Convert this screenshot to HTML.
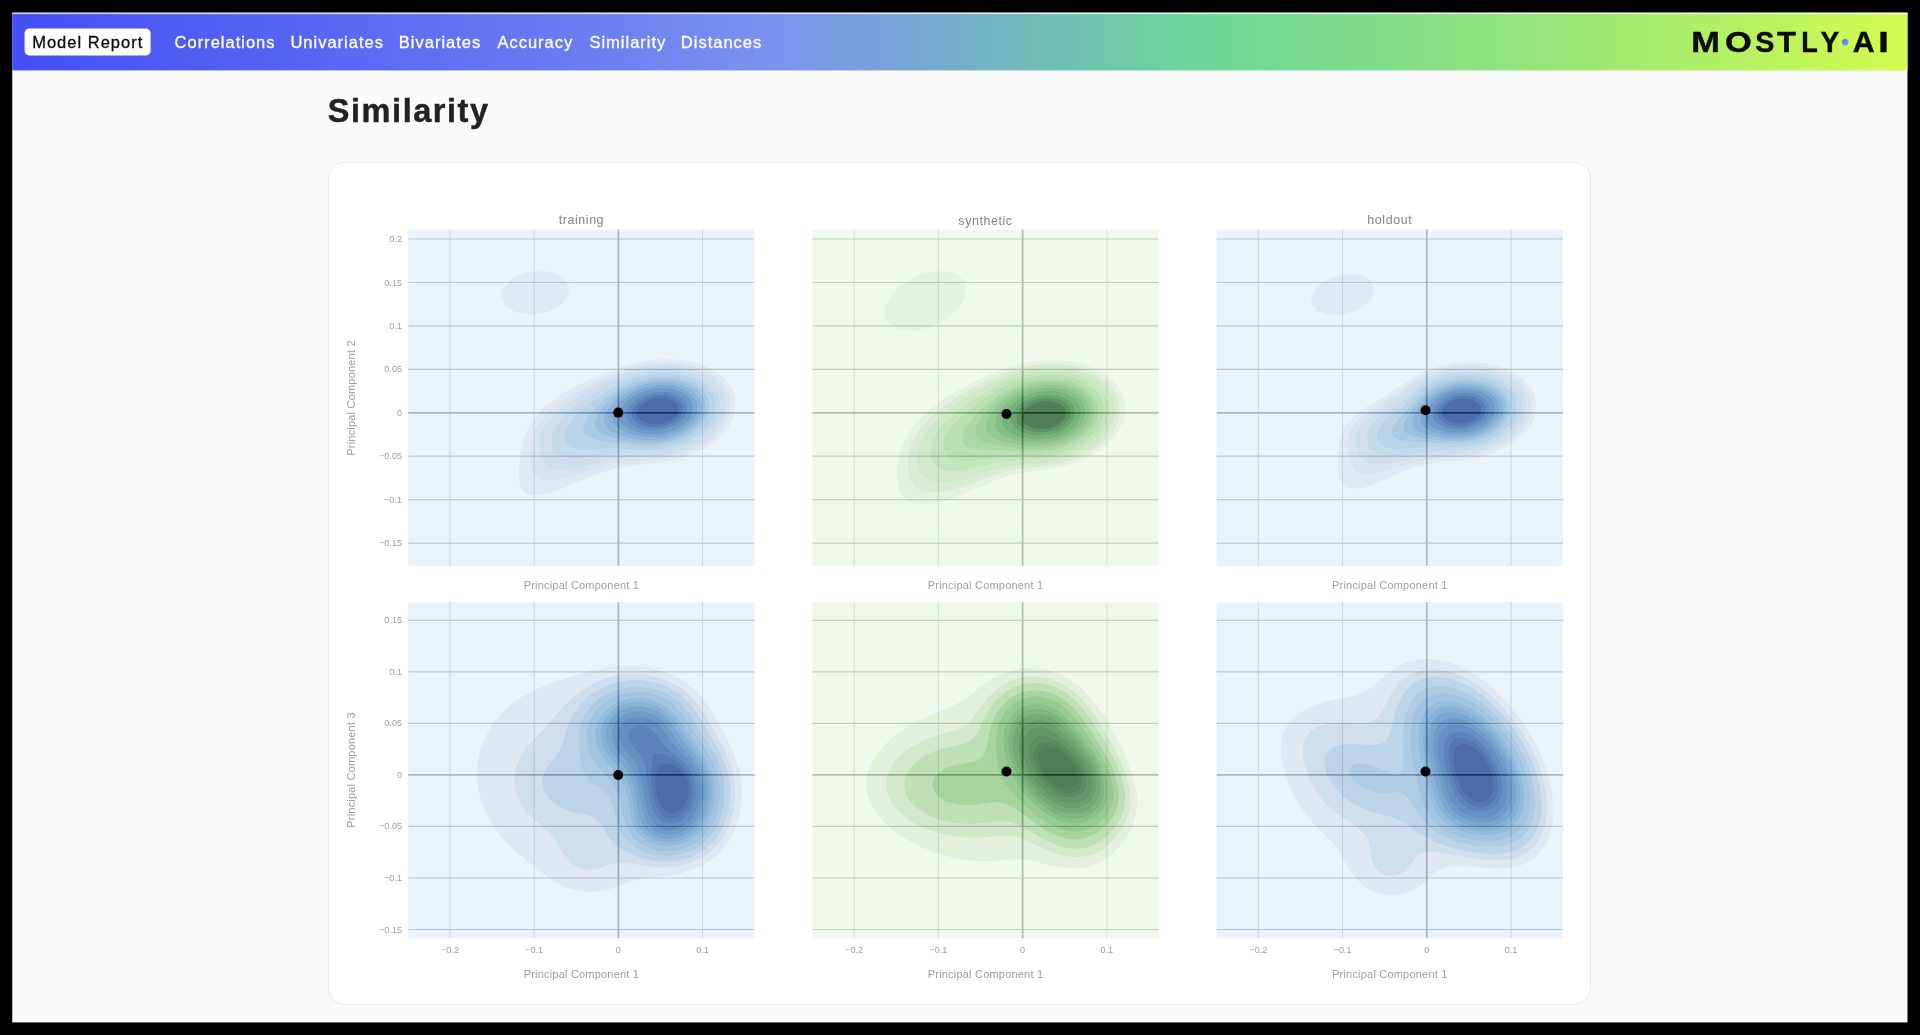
<!DOCTYPE html>
<html lang="en"><head><meta charset="utf-8"><title>Model Report</title>
<style>
html,body{margin:0;padding:0;background:#000;width:1920px;height:1035px;overflow:hidden}
body{font-family:"Liberation Sans",sans-serif;position:relative}
.nl{position:absolute;top:32px;height:20px;line-height:20px;font-size:16.5px;letter-spacing:1px;color:#fff;-webkit-text-stroke:.3px;white-space:nowrap}
.nl.b{color:#0a0a0a}
h1{position:absolute;left:327.8px;top:91.6px;margin:0;font-size:32.5px;line-height:38px;font-weight:bold;letter-spacing:1.55px;color:#222;-webkit-text-stroke:.45px #222;white-space:nowrap}
</style></head><body>
<svg width="1920" height="1035" viewBox="0 0 1920 1035" style="position:absolute;left:0;top:0">
<defs><linearGradient id="ng" x1="0" x2="1" y1="0" y2="0">
<stop offset="0" stop-color="#4450f5"/><stop offset=".14" stop-color="#5563f2"/><stop offset=".30" stop-color="#6c7cf1"/>
<stop offset=".395" stop-color="#7a91ef"/><stop offset=".475" stop-color="#76a6d6"/><stop offset=".55" stop-color="#6fc0b4"/>
<stop offset=".628" stop-color="#6cd698"/><stop offset=".74" stop-color="#84df86"/><stop offset=".86" stop-color="#a4eb6e"/>
<stop offset="1" stop-color="#d3fc4f"/></linearGradient></defs>
<rect x="12.25" y="12.8" width="1895.2" height="1009.6" fill="#fff"/>
<rect x="14.9" y="13" width="1890" height="1003.4" fill="#fafafa"/>
<rect x="14.9" y="1017.6" width="1890" height="0.9" fill="#f4f4f4"/>
<rect x="14.9" y="1019.6" width="1890" height="0.9" fill="#f4f4f4"/>
<rect x="12.25" y="12.8" width="1895.2" height="57.6" fill="url(#ng)"/>
<rect x="12.25" y="12.6" width="1895.2" height="1.5" fill="#fff" fill-opacity=".8"/>
<rect x="24.6" y="28.6" width="126" height="26.8" rx="4.5" fill="#fff"/>
<rect x="328.5" y="162.1" width="1262" height="842.2" rx="16" fill="#fff" stroke="#e9e9e9" stroke-width="1"/>
<clipPath id="c00"><rect x="408.2" y="229.6" width="346.3" height="336.2"/></clipPath>
<rect x="408.2" y="229.6" width="346.3" height="336.2" fill="#eaf2fa"/>
<g clip-path="url(#c00)">
<path d="M534.2,271.6L534.2,271.6L535.2,271.5L536.2,271.4L537.2,271.4L538.2,271.3L539.2,271.3L540.2,271.3L541.2,271.3L542.2,271.3L543.2,271.4L544.2,271.5L545.2,271.6L545.5,271.6L546.2,271.7L547.2,271.8L548.2,272.0L549.2,272.2L550.2,272.4L551.1,272.6L551.2,272.6L552.2,272.9L553.2,273.2L554.2,273.5L554.5,273.6L555.2,273.9L556.2,274.3L557.0,274.6L557.2,274.7L558.2,275.2L559.0,275.6L559.2,275.7L560.2,276.3L560.8,276.6L561.2,276.9L562.2,277.6L562.2,277.6L563.2,278.4L563.5,278.6L564.2,279.3L564.5,279.6L565.2,280.3L565.5,280.6L566.2,281.5L566.3,281.6L566.9,282.6L567.2,283.0L567.5,283.6L568.0,284.6L568.2,285.1L568.4,285.6L568.7,286.6L568.9,287.6L569.0,288.6L569.1,289.6L569.1,290.6L569.0,291.6L568.8,292.6L568.6,293.6L568.3,294.6L568.2,294.9L567.9,295.6L567.5,296.6L567.2,297.1L567.0,297.6L566.4,298.6L566.2,298.8L565.7,299.6L565.2,300.2L564.9,300.6L564.2,301.4L564.0,301.6L563.2,302.5L563.1,302.6L562.2,303.4L562.0,303.6L561.2,304.3L560.9,304.6L560.2,305.1L559.6,305.6L559.2,305.9L558.2,306.6L558.1,306.6L557.2,307.2L556.5,307.6L556.2,307.8L555.2,308.4L554.8,308.6L554.2,308.9L553.2,309.4L552.8,309.6L552.2,309.9L551.2,310.3L550.4,310.6L550.2,310.7L549.2,311.1L548.2,311.4L547.7,311.6L547.2,311.8L546.2,312.1L545.2,312.4L544.3,312.6L544.2,312.6L543.2,312.9L542.2,313.1L541.2,313.3L540.2,313.5L539.6,313.6L539.2,313.7L538.2,313.8L537.2,313.9L536.2,314.0L535.2,314.1L534.2,314.2L533.2,314.3L532.2,314.3L531.2,314.3L530.2,314.3L529.2,314.3L528.2,314.2L527.2,314.2L526.2,314.1L525.2,314.0L524.2,313.9L523.2,313.7L522.6,313.6L522.2,313.5L521.2,313.3L520.2,313.1L519.2,312.9L518.2,312.6L518.2,312.6L517.2,312.3L516.2,311.9L515.2,311.6L515.2,311.6L514.2,311.2L513.2,310.7L512.9,310.6L512.2,310.2L511.2,309.7L511.0,309.6L510.2,309.1L509.4,308.6L509.2,308.4L508.2,307.7L508.1,307.6L507.2,306.9L506.9,306.6L506.2,305.9L505.9,305.6L505.2,304.8L505.0,304.6L504.3,303.6L504.2,303.5L503.6,302.6L503.2,301.8L503.1,301.6L502.6,300.6L502.3,299.6L502.2,299.3L502.0,298.6L501.8,297.6L501.7,296.6L501.7,295.6L501.7,294.6L501.9,293.6L502.0,292.6L502.2,292.0L502.3,291.6L502.6,290.6L503.0,289.6L503.2,289.3L503.5,288.6L504.1,287.6L504.2,287.4L504.7,286.6L505.2,285.9L505.4,285.6L506.2,284.6L506.2,284.6L507.1,283.6L507.2,283.5L508.1,282.6L508.2,282.5L509.2,281.6L509.2,281.6L510.2,280.8L510.4,280.6L511.2,280.0L511.8,279.6L512.2,279.3L513.2,278.6L513.3,278.6L514.2,278.0L514.9,277.6L515.2,277.5L516.2,276.9L516.8,276.6L517.2,276.4L518.2,275.9L518.9,275.6L519.2,275.5L520.2,275.1L521.2,274.7L521.4,274.6L522.2,274.3L523.2,274.0L524.2,273.6L524.4,273.6L525.2,273.4L526.2,273.1L527.2,272.8L528.1,272.6L528.2,272.6L529.2,272.4L530.2,272.2L531.2,272.0L532.2,271.9L533.2,271.7L534.2,271.6ZM656.9,359.6L661.2,359.3L666.2,359.2L671.2,359.3L676.2,359.6L680.2,360.0L684.4,360.6L689.2,361.5L693.2,362.4L697.2,363.6L700.4,364.6L704.2,366.1L707.7,367.6L711.2,369.4L714.2,371.1L717.2,373.1L720.2,375.4L722.8,377.6L725.2,380.0L727.4,382.6L729.6,385.6L731.4,388.6L733.2,392.4L734.3,395.6L735.2,399.8L735.6,404.6L735.3,409.6L734.5,413.6L733.3,417.6L732.1,420.6L730.2,424.2L728.2,427.5L726.2,430.2L724.2,432.7L721.5,435.6L719.2,437.9L716.2,440.5L713.5,442.6L710.7,444.6L707.7,446.6L704.3,448.6L701.2,450.3L698.2,451.8L694.2,453.6L691.2,454.8L687.2,456.3L683.2,457.6L679.7,458.6L675.8,459.6L671.3,460.6L667.2,461.4L663.2,462.1L659.2,462.6L654.2,463.2L650.2,463.7L645.2,464.1L640.2,464.6L636.2,465.0L631.2,465.6L627.2,466.2L623.2,466.8L619.2,467.7L615.2,468.6L611.2,469.7L607.2,471.0L603.2,472.3L599.4,473.6L596.2,474.8L592.2,476.3L588.8,477.6L585.2,479.0L581.2,480.6L578.2,481.8L574.2,483.4L571.2,484.6L567.2,486.3L563.9,487.6L560.2,489.1L556.2,490.6L553.2,491.6L549.2,492.9L545.2,494.0L541.2,494.8L536.2,495.3L531.2,495.0L527.2,493.8L524.2,491.9L522.0,489.6L520.2,486.2L519.2,482.5L518.7,477.6L518.7,472.6L519.0,467.6L519.3,463.6L519.8,458.6L520.3,454.6L521.1,449.6L521.9,445.6L522.9,441.6L524.1,437.6L525.2,434.6L526.9,430.6L528.4,427.6L530.2,424.5L532.2,421.4L534.2,418.6L536.6,415.6L539.2,412.7L541.2,410.6L544.2,407.7L546.5,405.6L549.2,403.3L552.2,401.0L555.2,398.8L558.2,396.7L561.2,394.8L564.2,392.9L567.2,391.2L570.2,389.5L573.7,387.6L577.2,385.8L580.2,384.3L583.6,382.6L587.2,380.9L590.2,379.5L594.2,377.7L597.2,376.3L601.2,374.6L604.2,373.3L608.2,371.7L611.2,370.6L615.2,369.1L619.2,367.7L622.4,366.6L626.2,365.4L630.2,364.3L634.2,363.3L638.2,362.3L642.2,361.5L647.2,360.7L651.2,360.1L656.2,359.6Z" fill="#e1eaf4"/>
<path d="M652.1,363.6L656.2,363.2L661.2,362.8L666.2,362.7L671.2,362.8L676.2,363.2L680.2,363.7L685.2,364.5L689.2,365.3L693.2,366.3L697.2,367.6L700.2,368.7L704.2,370.4L707.2,371.9L710.2,373.7L713.2,375.6L716.2,377.9L719.2,380.5L721.2,382.6L723.7,385.6L725.7,388.6L727.3,391.6L728.9,395.6L729.9,399.6L730.4,403.6L730.3,408.6L729.6,412.6L728.5,416.6L727.2,419.8L725.2,423.6L723.4,426.6L721.2,429.5L719.2,431.9L716.6,434.6L714.2,436.9L711.2,439.4L708.2,441.6L705.3,443.6L702.2,445.5L699.2,447.2L696.2,448.7L692.2,450.5L689.2,451.8L685.2,453.2L681.2,454.5L677.4,455.6L673.3,456.6L669.2,457.5L665.2,458.2L661.2,458.8L656.2,459.4L652.2,459.8L647.2,460.3L642.3,460.6L638.2,460.9L633.2,461.3L629.1,461.6L624.2,462.2L620.2,462.7L615.3,463.6L611.2,464.5L607.2,465.5L603.2,466.6L599.9,467.6L596.2,468.7L592.2,470.0L588.2,471.3L584.2,472.6L580.9,473.6L577.2,474.8L573.2,476.0L569.2,477.1L565.2,478.2L561.2,479.2L557.2,480.0L552.5,480.6L548.2,480.8L544.2,480.4L540.2,479.2L537.2,477.4L534.6,474.6L532.9,471.6L531.5,467.6L530.7,463.6L530.2,459.4L530.0,454.6L530.2,450.2L530.7,445.6L531.5,441.6L532.5,437.6L533.9,433.6L535.2,430.6L537.2,426.7L539.1,423.6L541.2,420.6L543.2,417.9L545.2,415.6L548.0,412.6L550.2,410.4L553.2,407.7L555.7,405.6L558.3,403.6L561.2,401.5L564.2,399.4L567.2,397.5L570.2,395.6L573.6,393.6L577.1,391.6L580.2,389.9L583.2,388.3L586.4,386.6L590.2,384.7L593.2,383.2L596.5,381.6L600.2,379.8L603.2,378.4L607.2,376.6L610.2,375.3L614.2,373.7L617.2,372.5L621.2,371.0L625.2,369.7L628.6,368.6L632.2,367.6L636.2,366.5L640.2,365.6L645.2,364.6L649.2,364.0Z" fill="#d8e4f1"/>
<path d="M652.8,366.6L656.2,366.2L660.2,366.0L664.2,365.8L668.2,365.8L672.2,366.0L676.2,366.3L679.2,366.7L683.2,367.3L686.2,367.9L689.2,368.7L692.4,369.6L695.5,370.6L698.2,371.6L701.2,372.9L704.2,374.4L706.3,375.6L709.2,377.5L711.2,378.9L713.3,380.6L715.5,382.6L717.5,384.6L719.2,386.7L721.2,389.6L722.4,391.6L723.8,394.6L724.8,397.6L725.5,400.6L725.9,404.6L725.8,408.6L725.2,412.3L724.3,415.6L723.2,418.5L722.2,420.7L720.6,423.6L719.2,425.7L717.2,428.4L715.4,430.6L713.5,432.6L711.4,434.6L709.2,436.5L707.2,438.1L705.2,439.6L702.2,441.6L700.2,442.9L697.2,444.6L695.2,445.6L692.2,447.1L689.2,448.4L686.2,449.6L683.3,450.6L680.3,451.6L677.2,452.5L674.2,453.3L671.2,454.0L668.1,454.6L664.2,455.3L661.2,455.7L657.2,456.2L653.4,456.6L650.2,456.9L646.2,457.1L642.2,457.3L638.2,457.5L635.2,457.6L631.2,457.8L627.2,458.0L623.2,458.3L620.2,458.6L616.2,459.1L613.0,459.6L609.2,460.3L606.2,460.9L603.1,461.6L599.2,462.5L596.2,463.3L593.2,464.1L590.2,464.9L587.2,465.7L583.4,466.6L580.2,467.4L577.2,468.0L574.2,468.6L570.2,469.3L567.2,469.7L563.2,470.0L559.2,470.1L555.2,469.7L552.2,469.0L549.2,467.8L547.2,466.5L545.0,464.6L543.2,462.4L541.7,459.6L540.5,456.6L539.8,453.6L539.3,449.6L539.3,445.6L539.7,441.6L540.3,438.6L541.2,435.2L542.2,432.4L543.4,429.6L545.0,426.6L546.2,424.6L548.2,421.7L549.8,419.6L551.4,417.6L553.2,415.6L555.2,413.5L557.2,411.6L559.5,409.6L561.9,407.6L564.2,405.8L566.2,404.3L568.6,402.6L571.2,400.8L573.2,399.5L576.2,397.6L578.2,396.4L581.2,394.6L583.2,393.4L586.2,391.7L588.2,390.6L591.2,388.9L593.7,387.6L596.2,386.2L599.2,384.7L601.3,383.6L604.2,382.1L607.2,380.7L609.5,379.6L612.2,378.4L615.2,377.0L618.2,375.8L621.2,374.6L623.9,373.6L626.8,372.6L629.8,371.6L633.2,370.6L636.2,369.8L639.2,369.0L642.2,368.3L646.1,367.6L649.2,367.1L652.8,366.6Z" fill="#cfdfee"/>
<path d="M652.2,370.6L655.2,370.2L659.2,369.9L663.2,369.7L667.2,369.7L671.2,369.9L675.2,370.2L678.2,370.6L682.2,371.3L685.2,372.0L688.2,372.8L691.2,373.7L694.2,374.8L697.2,376.1L700.2,377.5L702.2,378.7L705.2,380.6L707.2,382.0L709.2,383.7L711.2,385.6L713.2,387.8L715.2,390.4L716.6,392.6L718.0,395.6L719.1,398.6L719.8,401.6L720.2,405.6L720.0,409.6L719.2,413.5L718.2,416.6L717.2,418.9L715.8,421.6L714.2,424.2L712.4,426.6L710.8,428.6L708.9,430.6L706.8,432.6L704.5,434.6L702.2,436.4L700.2,437.8L697.5,439.6L695.2,441.0L692.2,442.6L690.1,443.6L687.2,444.9L684.2,446.1L681.2,447.2L678.2,448.2L675.2,449.0L672.2,449.8L668.5,450.6L665.2,451.2L662.2,451.7L658.2,452.2L654.2,452.6L651.2,452.8L647.2,453.0L643.2,453.1L639.2,453.2L635.2,453.2L631.2,453.2L627.2,453.2L623.2,453.3L619.2,453.4L615.5,453.6L612.2,453.9L608.2,454.3L605.2,454.6L601.2,455.2L598.2,455.7L594.2,456.4L591.2,456.9L587.2,457.5L584.2,457.9L580.2,458.4L577.2,458.6L573.2,458.7L570.2,458.6L566.2,458.0L563.2,457.2L560.2,455.9L558.2,454.6L556.0,452.6L554.2,450.0L553.1,447.6L552.2,444.3L551.9,440.6L552.2,437.3L553.0,433.6L554.1,430.6L555.2,428.2L556.6,425.6L558.2,423.1L560.1,420.6L561.7,418.6L563.5,416.6L565.5,414.6L567.7,412.6L569.9,410.6L572.2,408.7L574.2,407.2L576.3,405.6L579.1,403.6L581.2,402.1L583.5,400.6L586.2,398.8L588.2,397.5L591.1,395.6L593.2,394.3L596.0,392.6L598.2,391.3L601.0,389.6L603.2,388.3L606.2,386.6L608.2,385.6L611.2,384.0L614.0,382.6L616.2,381.5L619.2,380.1L622.2,378.8L625.2,377.6L628.0,376.6L630.8,375.6L633.9,374.6L637.2,373.6L640.2,372.9L643.2,372.2L646.2,371.6L650.2,370.9Z" fill="#c5dbec"/>
<path d="M655.5,373.6L658.2,373.4L661.2,373.2L664.2,373.1L667.2,373.1L670.2,373.3L673.2,373.5L675.2,373.8L678.2,374.2L680.4,374.6L683.2,375.2L685.2,375.7L688.1,376.6L690.2,377.3L692.2,378.1L694.2,379.0L696.2,379.9L698.2,381.0L700.2,382.2L702.2,383.6L703.5,384.6L705.2,386.0L706.9,387.6L708.2,389.0L709.5,390.6L710.9,392.6L712.1,394.6L713.1,396.6L713.9,398.6L714.5,400.6L715.0,403.6L715.2,406.6L715.0,409.6L714.5,412.6L713.9,414.6L713.2,416.6L712.2,418.8L711.2,420.7L710.0,422.6L708.6,424.6L707.2,426.4L706.1,427.6L704.2,429.6L703.2,430.6L701.2,432.3L699.6,433.6L698.2,434.7L696.2,436.1L694.2,437.3L692.2,438.5L690.2,439.6L688.2,440.6L686.2,441.5L684.2,442.4L682.2,443.2L680.2,443.9L678.2,444.6L675.2,445.5L673.2,446.1L671.1,446.6L668.2,447.2L666.2,447.6L663.2,448.1L660.2,448.6L658.2,448.8L655.2,449.1L652.2,449.3L649.2,449.4L646.2,449.5L643.2,449.5L640.2,449.5L637.2,449.4L634.2,449.3L631.2,449.2L628.2,449.1L625.2,448.9L622.2,448.8L619.2,448.7L616.2,448.6L614.2,448.6L611.2,448.6L608.2,448.6L606.2,448.6L603.2,448.7L600.2,448.9L597.2,449.0L594.2,449.2L591.2,449.3L588.2,449.4L585.2,449.4L582.2,449.3L579.2,449.0L577.1,448.6L574.2,447.8L572.2,447.0L570.2,445.8L568.6,444.6L567.2,443.0L566.2,441.4L565.2,438.7L564.9,436.6L565.0,433.6L565.4,431.6L566.2,429.1L567.2,426.8L568.2,424.9L569.2,423.3L570.4,421.6L571.9,419.6L573.2,418.1L574.6,416.6L576.2,414.9L577.5,413.6L579.2,412.1L580.8,410.6L582.2,409.4L584.2,407.7L585.6,406.6L587.2,405.3L589.2,403.8L590.7,402.6L592.2,401.5L594.2,400.0L596.1,398.6L597.5,397.6L599.2,396.4L601.2,395.1L603.2,393.7L604.9,392.6L606.5,391.6L608.2,390.5L610.2,389.3L612.2,388.2L614.2,387.0L616.2,386.0L618.2,384.9L620.2,383.9L622.2,383.0L624.2,382.1L626.2,381.2L628.2,380.4L630.3,379.6L633.1,378.6L635.2,377.9L637.2,377.3L639.5,376.6L642.2,375.9L644.2,375.4L647.2,374.8L649.2,374.5L652.2,374.0L655.2,373.6Z" fill="#b9d4e9"/>
<path d="M654.5,377.6L657.2,377.3L660.2,377.1L663.2,377.0L666.2,377.0L669.2,377.2L672.2,377.4L674.2,377.7L677.2,378.1L679.5,378.6L682.2,379.3L684.2,379.8L686.5,380.6L689.1,381.6L691.2,382.5L693.2,383.5L695.1,384.6L696.6,385.6L698.2,386.7L700.2,388.3L701.6,389.6L703.2,391.3L704.3,392.6L705.7,394.6L706.9,396.6L707.8,398.6L708.5,400.6L709.2,403.6L709.4,405.6L709.4,408.6L709.1,410.6L708.5,413.6L707.8,415.6L706.9,417.6L705.9,419.6L704.7,421.6L703.2,423.6L702.2,424.9L700.7,426.6L699.2,428.1L697.5,429.6L696.2,430.7L694.2,432.2L692.2,433.6L690.6,434.6L688.9,435.6L687.1,436.6L685.1,437.6L682.9,438.6L680.5,439.6L678.2,440.5L676.2,441.2L674.2,441.8L671.2,442.6L669.2,443.1L666.8,443.6L664.2,444.1L661.2,444.5L659.2,444.8L656.2,445.1L653.2,445.3L650.2,445.4L647.2,445.5L644.2,445.4L641.2,445.3L638.2,445.2L635.2,444.9L632.2,444.7L630.2,444.5L627.2,444.1L624.2,443.8L622.2,443.5L619.2,443.1L616.2,442.7L614.2,442.4L611.2,441.9L608.9,441.6L606.2,441.2L603.2,440.7L601.2,440.4L598.2,439.8L596.2,439.4L593.3,438.6L591.2,437.9L589.2,437.0L587.2,435.8L585.8,434.6L584.3,432.6L583.5,430.6L583.3,427.6L583.9,424.6L584.7,422.6L585.7,420.6L586.8,418.6L588.2,416.6L589.2,415.3L590.5,413.6L592.2,411.6L593.2,410.5L595.0,408.6L596.2,407.4L598.0,405.6L599.2,404.5L601.2,402.7L602.4,401.6L604.2,400.1L606.1,398.6L607.3,397.6L609.2,396.2L611.2,394.7L612.8,393.6L614.3,392.6L616.2,391.4L618.2,390.2L620.2,389.0L622.2,387.9L624.2,386.9L626.2,385.9L628.2,385.0L630.2,384.1L632.2,383.3L634.2,382.5L636.8,381.6L639.2,380.8L641.2,380.2L643.7,379.6L646.2,379.0L648.2,378.6L651.2,378.0L654.2,377.6Z" fill="#aacbe4"/>
<path d="M662.4,379.6L664.2,379.6L665.3,379.6L667.2,379.7L669.2,379.8L671.2,380.0L673.2,380.2L675.2,380.5L676.2,380.7L678.2,381.1L680.2,381.6L681.2,381.9L683.2,382.5L684.2,382.8L686.2,383.6L687.2,384.0L688.6,384.6L690.2,385.4L691.2,385.9L692.3,386.6L693.9,387.6L695.2,388.5L696.2,389.3L697.2,390.1L698.2,391.1L699.2,392.1L700.2,393.2L701.2,394.4L702.0,395.6L702.6,396.6L703.2,397.6L704.1,399.6L704.5,400.6L705.1,402.6L705.3,403.6L705.6,405.6L705.6,407.6L705.5,409.6L705.2,411.4L704.9,412.6L704.3,414.6L704.0,415.6L703.2,417.3L702.5,418.6L702.0,419.6L701.2,420.8L700.2,422.2L699.2,423.5L698.2,424.6L697.3,425.6L696.3,426.6L695.2,427.6L694.2,428.5L693.2,429.3L692.2,430.1L691.2,430.8L690.1,431.6L688.5,432.6L687.2,433.4L686.2,434.0L685.0,434.6L683.2,435.5L682.2,436.0L680.9,436.6L679.2,437.3L678.2,437.7L676.2,438.4L675.2,438.8L673.2,439.4L672.2,439.7L670.2,440.2L668.6,440.6L667.2,440.9L665.2,441.3L663.6,441.6L662.2,441.8L660.2,442.1L658.2,442.3L656.2,442.5L654.7,442.6L653.2,442.7L651.2,442.8L649.2,442.8L647.2,442.8L645.2,442.7L643.2,442.6L642.2,442.6L640.2,442.5L638.2,442.3L636.2,442.1L634.2,441.8L632.4,441.6L631.2,441.4L629.2,441.1L627.2,440.8L626.2,440.6L624.2,440.2L622.2,439.8L621.2,439.6L619.2,439.1L617.2,438.7L616.2,438.4L614.2,437.9L613.2,437.6L611.2,437.0L609.9,436.6L608.2,436.0L607.0,435.6L605.2,434.9L604.2,434.5L602.4,433.6L601.2,432.9L600.2,432.3L599.2,431.6L598.0,430.6L597.1,429.6L596.2,428.3L595.4,426.6L595.2,425.6L595.0,423.6L595.1,421.6L595.3,420.6L595.9,418.6L596.3,417.6L597.2,415.8L597.8,414.6L598.4,413.6L599.2,412.4L600.2,411.0L601.2,409.6L602.0,408.6L602.8,407.6L603.7,406.6L604.6,405.6L605.6,404.6L606.5,403.6L607.6,402.6L608.6,401.6L609.7,400.6L610.8,399.6L612.0,398.6L613.2,397.7L614.2,396.9L615.2,396.1L616.2,395.4L617.3,394.6L618.7,393.6L620.2,392.6L621.2,392.0L622.2,391.4L623.6,390.6L625.2,389.7L626.2,389.1L627.3,388.6L629.2,387.6L630.2,387.2L631.5,386.6L633.2,385.8L634.2,385.4L636.2,384.7L637.2,384.3L639.2,383.6L640.2,383.3L642.2,382.7L643.2,382.4L645.2,381.9L646.5,381.6L648.2,381.2L650.2,380.8L651.5,380.6L653.2,380.3L655.2,380.1L657.2,379.9L659.2,379.7L661.2,379.6L662.4,379.6Z" fill="#9cc1de"/>
<path d="M655.9,382.6L657.2,382.5L659.2,382.3L661.2,382.2L663.2,382.2L665.2,382.2L667.2,382.3L669.2,382.4L670.8,382.6L672.2,382.8L674.2,383.1L676.2,383.5L677.2,383.7L679.2,384.2L680.4,384.6L682.2,385.2L683.3,385.6L685.2,386.4L686.2,386.8L687.8,387.6L689.2,388.4L690.2,389.0L691.2,389.7L692.5,390.6L693.8,391.6L694.9,392.6L695.9,393.6L696.8,394.6L697.6,395.6L698.3,396.6L699.2,398.1L700.0,399.6L700.4,400.6L701.1,402.6L701.4,403.6L701.7,405.6L701.8,407.6L701.7,409.6L701.4,411.6L701.1,412.6L700.5,414.6L700.1,415.6L699.2,417.5L698.6,418.6L698.0,419.6L697.2,420.7L696.2,422.0L695.2,423.2L694.2,424.3L693.2,425.3L692.2,426.3L691.2,427.1L690.2,427.9L689.2,428.7L687.9,429.6L686.4,430.6L685.2,431.4L684.2,431.9L683.0,432.6L681.2,433.5L680.2,434.0L678.8,434.6L677.2,435.3L676.2,435.6L674.2,436.4L673.2,436.7L671.2,437.3L670.0,437.6L668.2,438.1L666.2,438.5L665.2,438.7L663.2,439.1L661.2,439.4L659.4,439.6L658.2,439.7L656.2,439.9L654.2,440.0L652.2,440.1L650.2,440.1L648.2,440.1L646.2,440.1L644.2,439.9L642.2,439.8L640.3,439.6L639.2,439.5L637.2,439.2L635.2,438.9L633.4,438.6L632.2,438.4L630.2,438.0L628.6,437.6L627.2,437.3L625.2,436.7L624.2,436.5L622.2,435.9L621.2,435.5L619.2,434.8L618.2,434.5L616.2,433.6L615.2,433.2L614.0,432.6L612.2,431.7L611.2,431.1L610.2,430.4L609.1,429.6L607.9,428.6L606.9,427.6L606.1,426.6L605.2,425.2L604.5,423.6L604.2,422.5L604.0,420.6L604.0,418.6L604.2,417.6L604.7,415.6L605.2,414.3L606.0,412.6L606.5,411.6L607.2,410.4L608.2,408.8L609.0,407.6L609.8,406.6L610.6,405.6L611.5,404.6L612.4,403.6L613.3,402.6L614.3,401.6L615.4,400.6L616.5,399.6L617.7,398.6L618.9,397.6L620.2,396.6L621.2,395.9L622.2,395.2L623.2,394.5L624.5,393.6L626.2,392.6L627.2,392.0L628.2,391.4L629.7,390.6L631.2,389.8L632.2,389.4L633.9,388.6L635.2,388.0L636.2,387.6L638.2,386.8L639.2,386.5L641.2,385.8L642.2,385.5L644.2,384.9L645.2,384.6L647.2,384.1L649.2,383.7L650.2,383.5L652.2,383.1L654.2,382.8L655.9,382.6Z" fill="#8db5d9"/>
<path d="M656.0,385.6L657.2,385.5L659.2,385.3L661.2,385.2L663.2,385.2L665.2,385.2L667.2,385.4L669.2,385.5L670.2,385.7L672.2,386.0L674.2,386.3L675.3,386.6L677.2,387.1L678.9,387.6L680.2,388.0L681.6,388.6L683.2,389.3L684.2,389.8L685.7,390.6L687.2,391.5L688.2,392.2L689.2,392.9L690.2,393.7L691.2,394.6L692.2,395.6L693.2,396.8L694.2,398.2L695.1,399.6L695.6,400.6L696.2,402.0L696.7,403.6L697.1,405.6L697.2,406.6L697.3,408.6L697.2,409.6L696.9,411.6L696.3,413.6L696.0,414.6L695.2,416.3L694.5,417.6L693.9,418.6L693.2,419.7L692.2,421.0L691.2,422.1L690.2,423.2L689.2,424.2L688.2,425.1L687.2,425.9L686.2,426.7L684.9,427.6L683.4,428.6L682.2,429.3L681.2,429.9L679.9,430.6L678.2,431.4L677.2,431.9L675.5,432.6L674.2,433.1L672.8,433.6L671.2,434.1L669.6,434.6L668.2,435.0L666.2,435.5L665.2,435.7L663.2,436.0L661.2,436.4L659.2,436.6L658.2,436.7L656.2,436.9L654.2,437.0L652.2,437.0L650.2,437.0L648.2,437.0L646.2,436.9L644.2,436.7L643.2,436.6L641.2,436.3L639.2,436.0L637.2,435.7L636.2,435.5L634.2,435.0L632.5,434.6L631.2,434.2L629.2,433.6L628.2,433.3L626.4,432.6L625.2,432.1L624.0,431.6L622.2,430.7L621.2,430.1L620.2,429.6L618.7,428.6L617.4,427.6L616.3,426.6L615.3,425.6L614.5,424.6L613.8,423.6L613.2,422.4L612.5,420.6L612.2,418.7L612.1,417.6L612.2,416.4L612.5,414.6L613.1,412.6L613.5,411.6L614.2,410.0L615.0,408.6L615.6,407.6L616.3,406.6L617.2,405.4L618.2,404.2L619.2,403.1L620.2,402.0L621.2,401.1L622.2,400.1L623.2,399.3L624.2,398.4L625.3,397.6L626.7,396.6L628.1,395.6L629.2,394.9L630.2,394.3L631.4,393.6L633.2,392.6L634.2,392.1L635.2,391.6L637.2,390.7L638.2,390.2L639.8,389.6L641.2,389.1L642.6,388.6L644.2,388.1L645.8,387.6L647.2,387.2L649.2,386.7L650.2,386.5L652.2,386.1L654.2,385.8L656.0,385.6Z" fill="#7ea8d1"/>
<path d="M655.7,388.6L657.2,388.4L659.2,388.3L661.2,388.2L663.2,388.2L665.2,388.2L667.2,388.4L669.1,388.6L670.2,388.8L672.2,389.1L674.2,389.6L675.2,389.9L677.2,390.5L678.2,390.9L680.0,391.6L681.2,392.2L682.2,392.7L683.7,393.6L685.2,394.6L686.2,395.4L687.2,396.2L688.2,397.2L689.2,398.4L690.1,399.6L690.8,400.6L691.3,401.6L692.1,403.6L692.4,404.6L692.8,406.6L692.9,408.6L692.7,410.6L692.2,412.6L691.9,413.6L691.2,415.4L690.6,416.6L690.0,417.6L689.2,418.7L688.2,420.0L687.2,421.2L686.2,422.2L685.2,423.1L684.2,424.0L683.2,424.8L682.0,425.6L680.5,426.6L679.2,427.4L678.2,428.0L677.0,428.6L675.2,429.4L674.2,429.9L672.3,430.6L671.2,431.0L669.3,431.6L668.2,431.9L666.2,432.4L665.2,432.7L663.2,433.1L661.2,433.4L659.6,433.6L658.2,433.8L656.2,433.9L654.2,434.0L652.2,434.0L650.2,434.0L648.2,433.9L646.2,433.7L645.2,433.6L643.2,433.3L641.2,433.0L639.3,432.6L638.2,432.3L636.2,431.8L635.2,431.5L633.2,430.8L632.2,430.5L630.2,429.6L629.2,429.1L628.2,428.6L626.4,427.6L625.2,426.8L624.2,426.0L623.2,425.1L622.2,424.1L621.2,422.9L620.4,421.6L619.8,420.6L619.2,418.7L619.0,417.6L618.9,415.6L619.1,413.6L619.3,412.6L620.0,410.6L620.4,409.6L621.2,408.1L622.2,406.6L622.9,405.6L623.7,404.6L624.5,403.6L625.5,402.6L626.5,401.6L627.6,400.6L628.8,399.6L630.1,398.6L631.2,397.8L632.2,397.1L633.2,396.5L634.6,395.6L636.2,394.7L637.2,394.2L638.4,393.6L640.2,392.8L641.2,392.4L643.2,391.6L644.2,391.3L646.2,390.6L647.2,390.3L649.2,389.8L650.2,389.6L652.2,389.1L654.2,388.8L655.7,388.6Z" fill="#6e99c9"/>
<path d="M654.4,392.6L655.2,392.5L656.2,392.3L657.2,392.2L658.2,392.1L659.2,392.1L660.2,392.0L661.2,392.0L662.2,392.0L663.2,392.0L664.2,392.0L665.2,392.1L666.2,392.2L667.2,392.3L668.2,392.5L669.0,392.6L669.2,392.6L670.2,392.8L671.2,393.1L672.2,393.3L673.2,393.6L673.2,393.6L674.2,393.9L675.2,394.3L675.9,394.6L676.2,394.7L677.2,395.2L678.0,395.6L678.2,395.7L679.2,396.3L679.7,396.6L680.2,396.9L681.1,397.6L681.2,397.6L682.2,398.5L682.3,398.6L683.2,399.4L683.4,399.6L684.2,400.6L684.2,400.6L685.0,401.6L685.2,402.0L685.6,402.6L686.1,403.6L686.2,403.9L686.5,404.6L686.8,405.6L687.0,406.6L687.1,407.6L687.2,408.6L687.1,409.6L687.0,410.6L686.8,411.6L686.6,412.6L686.2,413.6L686.2,413.7L685.8,414.6L685.3,415.6L685.2,415.7L684.7,416.6L684.2,417.3L684.0,417.6L683.2,418.6L683.2,418.6L682.3,419.6L682.2,419.7L681.3,420.6L681.2,420.7L680.2,421.6L680.2,421.6L679.2,422.4L678.9,422.6L678.2,423.1L677.5,423.6L677.2,423.8L676.2,424.4L675.9,424.6L675.2,425.0L674.2,425.5L674.0,425.6L673.2,426.0L672.2,426.4L671.8,426.6L671.2,426.9L670.2,427.3L669.2,427.6L669.2,427.6L668.2,427.9L667.2,428.3L666.2,428.5L666.0,428.6L665.2,428.8L664.2,429.0L663.2,429.2L662.2,429.4L661.2,429.6L661.1,429.6L660.2,429.7L659.2,429.9L658.2,430.0L657.2,430.0L656.2,430.1L655.2,430.1L654.2,430.2L653.2,430.2L652.2,430.1L651.2,430.1L650.2,430.0L649.2,430.0L648.2,429.9L647.2,429.7L646.2,429.6L646.2,429.6L645.2,429.4L644.2,429.2L643.2,429.0L642.2,428.8L641.5,428.6L641.2,428.5L640.2,428.2L639.2,427.9L638.4,427.6L638.2,427.5L637.2,427.1L636.2,426.7L636.1,426.6L635.2,426.2L634.2,425.6L634.1,425.6L633.2,425.0L632.5,424.6L632.2,424.4L631.2,423.6L631.2,423.6L630.2,422.7L630.1,422.6L629.2,421.6L629.2,421.6L628.4,420.6L628.2,420.3L627.8,419.6L627.3,418.6L627.2,418.3L626.9,417.6L626.7,416.6L626.5,415.6L626.5,414.6L626.5,413.6L626.6,412.6L626.9,411.6L627.2,410.6L627.2,410.5L627.6,409.6L628.0,408.6L628.2,408.3L628.6,407.6L629.2,406.7L629.2,406.6L630.0,405.6L630.2,405.3L630.8,404.6L631.2,404.2L631.7,403.6L632.2,403.1L632.7,402.6L633.2,402.2L633.9,401.6L634.2,401.3L635.1,400.6L635.2,400.5L636.2,399.8L636.5,399.6L637.2,399.1L638.0,398.6L638.2,398.5L639.2,397.9L639.7,397.6L640.2,397.3L641.2,396.8L641.7,396.6L642.2,396.3L643.2,395.9L643.9,395.6L644.2,395.5L645.2,395.1L646.2,394.7L646.5,394.6L647.2,394.4L648.2,394.0L649.2,393.7L649.7,393.6L650.2,393.5L651.2,393.2L652.2,393.0L653.2,392.8L654.2,392.6L654.4,392.6Z" fill="#618bc1"/>
<path d="M653.7,395.6L654.2,395.5L655.2,395.3L656.2,395.2L657.2,395.1L658.2,395.0L659.2,394.9L660.2,394.8L661.2,394.8L662.2,394.8L663.2,394.9L664.2,394.9L665.2,395.0L666.2,395.2L667.2,395.3L668.2,395.5L668.7,395.6L669.2,395.7L670.2,396.0L671.2,396.3L672.1,396.6L672.2,396.6L673.2,397.0L674.2,397.5L674.5,397.6L675.2,398.0L676.2,398.5L676.3,398.6L677.2,399.2L677.8,399.6L678.2,399.9L679.0,400.6L679.2,400.8L679.9,401.6L680.2,401.9L680.7,402.6L681.2,403.3L681.4,403.6L681.9,404.6L682.2,405.3L682.3,405.6L682.6,406.6L682.8,407.6L682.9,408.6L682.9,409.6L682.8,410.6L682.6,411.6L682.3,412.6L682.2,412.9L681.9,413.6L681.5,414.6L681.2,415.1L680.9,415.6L680.2,416.6L680.2,416.6L679.4,417.6L679.2,417.8L678.5,418.6L678.2,418.9L677.4,419.6L677.2,419.8L676.2,420.6L676.2,420.6L675.2,421.3L674.8,421.6L674.2,422.0L673.2,422.6L673.2,422.6L672.2,423.1L671.3,423.6L671.2,423.6L670.2,424.1L669.2,424.5L669.0,424.6L668.2,424.9L667.2,425.3L666.2,425.6L666.1,425.6L665.2,425.9L664.2,426.1L663.2,426.4L662.2,426.6L662.0,426.6L661.2,426.7L660.2,426.9L659.2,427.0L658.2,427.1L657.2,427.2L656.2,427.2L655.2,427.3L654.2,427.3L653.2,427.3L652.2,427.2L651.2,427.2L650.2,427.1L649.2,426.9L648.2,426.8L647.2,426.6L647.1,426.6L646.2,426.4L645.2,426.2L644.2,425.9L643.2,425.6L643.2,425.6L642.2,425.3L641.2,424.9L640.6,424.6L640.2,424.4L639.2,423.9L638.6,423.6L638.2,423.4L637.2,422.8L637.0,422.6L636.2,422.0L635.7,421.6L635.2,421.2L634.6,420.6L634.2,420.1L633.8,419.6L633.2,418.8L633.1,418.6L632.5,417.6L632.2,416.7L632.2,416.6L631.9,415.6L631.7,414.6L631.7,413.6L631.8,412.6L632.0,411.6L632.2,410.7L632.2,410.6L632.6,409.6L633.1,408.6L633.2,408.4L633.6,407.6L634.2,406.8L634.3,406.6L635.1,405.6L635.2,405.5L636.0,404.6L636.2,404.4L637.0,403.6L637.2,403.4L638.2,402.6L638.2,402.6L639.2,401.8L639.5,401.6L640.2,401.1L640.9,400.6L641.2,400.4L642.2,399.8L642.6,399.6L643.2,399.3L644.2,398.8L644.6,398.6L645.2,398.3L646.2,397.9L646.9,397.6L647.2,397.5L648.2,397.1L649.2,396.8L649.7,396.6L650.2,396.4L651.2,396.2L652.2,395.9L653.2,395.7L653.7,395.6Z" fill="#567cb7"/>
<path d="M653.6,398.6L654.2,398.5L655.2,398.3L656.2,398.1L657.2,398.0L658.2,397.9L659.2,397.8L660.2,397.8L661.2,397.8L662.2,397.8L663.2,397.9L664.2,398.0L665.2,398.1L666.2,398.3L667.2,398.5L667.7,398.6L668.2,398.7L669.2,399.1L670.2,399.4L670.6,399.6L671.2,399.8L672.2,400.3L672.7,400.6L673.2,400.9L674.2,401.6L674.2,401.6L675.2,402.4L675.4,402.6L676.2,403.5L676.3,403.6L677.0,404.6L677.2,404.9L677.6,405.6L678.0,406.6L678.2,407.2L678.3,407.6L678.5,408.6L678.5,409.6L678.4,410.6L678.2,411.6L678.2,411.7L677.9,412.6L677.5,413.6L677.2,414.1L676.9,414.6L676.3,415.6L676.2,415.7L675.4,416.6L675.2,416.8L674.5,417.6L674.2,417.8L673.3,418.6L673.2,418.7L672.2,419.4L672.0,419.6L671.2,420.1L670.3,420.6L670.2,420.7L669.2,421.2L668.3,421.6L668.2,421.7L667.2,422.1L666.2,422.5L665.8,422.6L665.2,422.8L664.2,423.1L663.2,423.4L662.2,423.6L662.2,423.6L661.2,423.8L660.2,424.0L659.2,424.1L658.2,424.2L657.2,424.3L656.2,424.3L655.2,424.3L654.2,424.3L653.2,424.3L652.2,424.2L651.2,424.1L650.2,423.9L649.2,423.7L648.5,423.6L648.2,423.5L647.2,423.3L646.2,423.0L645.2,422.6L645.2,422.6L644.2,422.2L643.2,421.7L643.0,421.6L642.2,421.2L641.3,420.6L641.2,420.5L640.2,419.7L640.0,419.6L639.2,418.8L639.0,418.6L638.3,417.6L638.2,417.5L637.7,416.6L637.3,415.6L637.2,415.4L637.0,414.6L636.9,413.6L636.9,412.6L637.0,411.6L637.2,410.8L637.2,410.6L637.6,409.6L638.1,408.6L638.2,408.4L638.7,407.6L639.2,406.9L639.5,406.6L640.2,405.8L640.3,405.6L641.2,404.8L641.4,404.6L642.2,403.9L642.6,403.6L643.2,403.2L644.0,402.6L644.2,402.5L645.2,401.9L645.7,401.6L646.2,401.3L647.2,400.8L647.6,400.6L648.2,400.4L649.2,399.9L650.1,399.6L650.2,399.6L651.2,399.3L652.2,399.0L653.2,398.7L653.6,398.6Z" fill="#4e6da8"/>
</g>
<g style="mix-blend-mode:difference">
<line x1="450" x2="450" y1="229.6" y2="565.8" stroke="rgb(28,26,22)" stroke-width="1"/>
<line x1="534.2" x2="534.2" y1="229.6" y2="565.8" stroke="rgb(28,26,22)" stroke-width="1"/>
<line x1="702.6" x2="702.6" y1="229.6" y2="565.8" stroke="rgb(28,26,22)" stroke-width="1"/>
<line x1="408.2" x2="754.5" y1="239" y2="239" stroke="rgb(45,42,37)" stroke-width="1.2"/>
<line x1="408.2" x2="754.5" y1="282.5" y2="282.5" stroke="rgb(45,42,37)" stroke-width="1.2"/>
<line x1="408.2" x2="754.5" y1="325.9" y2="325.9" stroke="rgb(45,42,37)" stroke-width="1.2"/>
<line x1="408.2" x2="754.5" y1="369.4" y2="369.4" stroke="rgb(45,42,37)" stroke-width="1.2"/>
<line x1="408.2" x2="754.5" y1="456.2" y2="456.2" stroke="rgb(45,42,37)" stroke-width="1.2"/>
<line x1="408.2" x2="754.5" y1="499.7" y2="499.7" stroke="rgb(45,42,37)" stroke-width="1.2"/>
<line x1="408.2" x2="754.5" y1="543.1" y2="543.1" stroke="rgb(45,42,37)" stroke-width="1.2"/>
<line x1="618.4" x2="618.4" y1="229.6" y2="565.8" stroke="rgb(60,58,51)" stroke-width="1.8"/>
<line x1="408.2" x2="754.5" y1="412.8" y2="412.8" stroke="rgb(60,58,51)" stroke-width="1.8"/>
</g>
<clipPath id="c10"><rect x="812.4" y="229.6" width="346.3" height="336.2"/></clipPath>
<rect x="812.4" y="229.6" width="346.3" height="336.2" fill="#eff8ea"/>
<g clip-path="url(#c10)">
<path d="M935.4,271.6L936.4,271.5L938.4,271.4L940.4,271.3L942.4,271.3L944.4,271.4L946.0,271.6L947.4,271.8L949.4,272.2L951.1,272.6L952.4,273.0L954.1,273.6L955.4,274.2L956.4,274.7L958.0,275.6L959.4,276.6L960.4,277.4L961.4,278.3L962.4,279.5L963.2,280.6L963.9,281.6L964.4,282.6L965.2,284.6L965.4,285.6L965.8,287.6L965.9,289.6L965.8,291.6L965.5,293.6L965.3,294.6L964.7,296.6L964.4,297.6L963.5,299.6L963.0,300.6L962.4,301.8L961.4,303.4L960.6,304.6L959.9,305.6L959.2,306.6L958.4,307.6L957.4,308.8L956.4,309.9L955.4,310.9L954.4,311.9L953.4,312.9L952.4,313.8L951.4,314.6L950.2,315.6L949.0,316.6L947.6,317.6L946.4,318.4L945.4,319.1L944.4,319.8L943.0,320.6L941.4,321.6L940.4,322.1L939.4,322.6L937.5,323.6L936.4,324.1L935.4,324.6L933.4,325.4L932.4,325.8L930.4,326.6L929.4,326.9L927.4,327.6L926.4,327.9L924.4,328.4L923.4,328.7L921.4,329.1L919.4,329.5L918.4,329.7L916.4,329.9L914.4,330.1L912.4,330.3L910.4,330.3L908.4,330.3L906.4,330.1L904.4,329.9L902.6,329.6L901.4,329.3L899.4,328.8L898.4,328.5L896.4,327.7L895.4,327.2L894.2,326.6L892.6,325.6L891.4,324.7L890.4,323.9L889.4,322.8L888.4,321.6L887.7,320.6L887.1,319.6L886.4,318.0L885.9,316.6L885.5,314.6L885.4,313.6L885.3,311.6L885.4,309.9L885.6,308.6L886.0,306.6L886.4,305.3L887.0,303.6L887.4,302.6L888.4,300.6L888.9,299.6L889.5,298.6L890.4,297.2L891.4,295.8L892.3,294.6L893.1,293.6L894.0,292.6L894.9,291.6L895.9,290.6L896.9,289.6L897.9,288.6L899.0,287.6L900.2,286.6L901.4,285.7L902.4,284.9L903.4,284.2L904.4,283.4L905.6,282.6L907.2,281.6L908.4,280.9L909.4,280.3L910.6,279.6L912.4,278.6L913.4,278.1L914.5,277.6L916.4,276.8L917.4,276.3L919.2,275.6L920.4,275.2L922.0,274.6L923.4,274.1L925.2,273.6L926.4,273.3L928.4,272.8L929.4,272.6L931.4,272.2L933.4,271.8L935.4,271.6ZM1044.2,360.6L1049.4,360.3L1055.4,360.3L1061.2,360.6L1066.4,361.1L1071.4,361.8L1076.4,362.7L1081.4,363.9L1086.4,365.4L1090.4,366.9L1094.5,368.6L1098.5,370.6L1102.4,372.8L1106.4,375.5L1109.4,377.9L1112.4,380.6L1115.4,383.8L1118.3,387.6L1120.4,391.0L1122.4,395.2L1123.9,399.6L1124.8,404.6L1125.1,410.6L1124.4,416.0L1123.2,420.6L1121.4,425.3L1119.4,429.3L1117.4,432.6L1114.4,436.6L1111.9,439.6L1108.9,442.6L1105.6,445.6L1102.4,448.2L1099.1,450.6L1095.4,453.0L1091.4,455.4L1087.4,457.4L1083.4,459.3L1079.4,461.0L1075.1,462.6L1070.4,464.2L1065.4,465.6L1061.4,466.6L1056.4,467.7L1051.4,468.6L1045.5,469.6L1040.4,470.3L1035.4,471.0L1030.4,471.7L1024.4,472.6L1019.4,473.4L1014.4,474.5L1009.8,475.6L1005.4,476.9L1000.4,478.6L996.4,480.0L992.4,481.6L987.5,483.6L983.4,485.4L979.4,487.1L975.4,488.8L971.2,490.6L966.4,492.6L962.4,494.2L958.4,495.8L953.7,497.6L949.4,499.1L944.9,500.6L940.4,501.9L935.4,503.1L930.4,503.9L924.4,504.4L918.4,504.1L913.4,503.0L909.4,501.3L905.4,498.6L902.7,495.6L900.4,492.0L898.6,487.6L897.5,482.6L896.9,477.6L896.8,471.6L897.2,465.6L897.9,460.6L899.0,455.6L900.4,450.7L901.9,446.6L903.6,442.6L905.5,438.6L907.8,434.6L910.4,430.6L912.6,427.6L915.4,424.0L918.4,420.6L921.2,417.6L924.2,414.6L927.4,411.7L930.4,409.2L933.6,406.6L937.4,403.7L940.4,401.6L944.4,398.9L947.9,396.6L951.4,394.5L955.4,392.1L959.4,389.8L963.4,387.6L967.2,385.6L971.1,383.6L975.0,381.6L979.1,379.6L983.4,377.6L987.4,375.8L991.4,374.0L995.4,372.4L1000.0,370.6L1004.4,369.0L1008.6,367.6L1013.4,366.1L1018.4,364.8L1023.4,363.6L1028.4,362.6L1033.4,361.8L1038.4,361.1L1044.2,360.6Z" fill="#e4f2df"/>
<path d="M1041.2,364.6L1045.4,364.3L1050.4,364.1L1055.4,364.1L1060.4,364.3L1064.4,364.7L1069.4,365.4L1073.4,366.1L1077.4,367.0L1081.4,368.1L1085.4,369.4L1088.5,370.6L1092.4,372.3L1095.4,373.9L1098.4,375.6L1101.5,377.6L1104.4,379.8L1107.4,382.4L1109.5,384.6L1112.1,387.6L1114.2,390.6L1115.9,393.6L1117.4,397.0L1118.6,400.6L1119.4,404.6L1119.7,409.6L1119.4,414.0L1118.5,418.6L1117.4,421.9L1115.9,425.6L1114.3,428.6L1112.4,431.6L1110.2,434.6L1107.7,437.6L1105.4,440.0L1102.6,442.6L1100.3,444.6L1097.4,446.8L1094.4,448.9L1091.4,450.8L1088.3,452.6L1084.5,454.6L1081.4,456.1L1077.8,457.6L1074.4,458.9L1070.4,460.3L1066.4,461.5L1062.4,462.6L1058.4,463.5L1054.4,464.4L1050.4,465.1L1046.4,465.7L1041.4,466.4L1037.4,466.9L1032.4,467.4L1028.4,467.9L1023.4,468.4L1019.4,469.0L1015.4,469.6L1010.4,470.5L1006.4,471.4L1002.4,472.5L998.5,473.6L995.4,474.6L991.4,476.0L987.4,477.4L984.2,478.6L980.4,480.1L976.4,481.6L973.4,482.7L969.4,484.1L965.4,485.5L962.2,486.6L958.4,487.8L954.4,489.0L950.4,490.1L946.4,491.0L942.4,491.7L937.4,492.4L932.4,492.5L927.4,492.1L923.4,491.2L919.5,489.6L916.4,487.6L914.3,485.6L911.9,482.6L910.3,479.6L908.8,475.6L908.0,471.6L907.4,466.6L907.5,461.6L908.1,456.6L908.8,452.6L909.9,448.6L911.4,444.6L912.6,441.6L914.4,438.0L916.4,434.6L918.3,431.6L920.4,428.6L922.4,426.0L924.4,423.6L927.1,420.6L929.4,418.3L932.2,415.6L934.4,413.6L937.4,411.1L940.4,408.7L943.2,406.6L946.0,404.6L948.9,402.6L951.9,400.6L955.0,398.6L958.2,396.6L961.4,394.7L964.4,392.9L967.4,391.2L970.4,389.6L974.0,387.6L977.4,385.8L980.4,384.2L983.6,382.6L987.4,380.7L990.4,379.3L994.1,377.6L997.4,376.2L1001.2,374.6L1004.4,373.4L1008.4,371.9L1012.4,370.6L1015.6,369.6L1019.4,368.5L1023.4,367.5L1027.7,366.6L1032.4,365.7L1036.4,365.1L1041.2,364.6Z" fill="#daedd4"/>
<path d="M1044.4,367.6L1048.4,367.4L1053.4,367.3L1058.4,367.5L1062.4,367.8L1067.4,368.5L1071.4,369.2L1075.4,370.1L1079.4,371.2L1083.4,372.5L1086.4,373.7L1090.4,375.5L1093.4,377.1L1096.4,378.9L1099.4,381.0L1102.4,383.5L1104.6,385.6L1107.3,388.6L1109.4,391.5L1111.3,394.6L1112.7,397.6L1114.0,401.6L1114.8,405.6L1115.0,410.6L1114.5,415.6L1113.5,419.6L1112.4,422.7L1110.6,426.6L1108.8,429.6L1106.7,432.6L1104.4,435.4L1102.4,437.6L1099.4,440.5L1097.0,442.6L1094.4,444.6L1091.4,446.7L1088.4,448.6L1084.9,450.6L1081.4,452.4L1078.4,453.8L1074.4,455.4L1071.2,456.6L1067.4,457.9L1063.4,459.0L1059.4,460.0L1055.4,460.9L1051.4,461.6L1046.4,462.4L1042.4,463.0L1037.4,463.5L1033.4,463.9L1028.4,464.3L1024.4,464.7L1019.4,465.2L1015.4,465.6L1010.4,466.3L1006.4,467.0L1002.4,467.8L998.4,468.7L994.4,469.8L990.4,471.0L986.4,472.3L982.4,473.5L979.2,474.6L975.4,475.8L971.4,477.1L967.4,478.3L963.4,479.4L959.4,480.4L955.4,481.3L951.4,482.0L946.4,482.6L942.4,482.7L938.4,482.6L933.4,481.8L929.9,480.6L926.4,478.8L923.7,476.6L921.4,473.9L919.5,470.6L918.3,467.6L917.4,463.6L917.0,458.6L917.3,453.6L918.0,449.6L919.2,445.6L920.4,442.2L922.1,438.6L923.7,435.6L925.5,432.6L927.6,429.6L929.9,426.6L932.4,423.7L934.4,421.5L937.3,418.6L939.4,416.6L942.4,414.0L945.4,411.6L947.9,409.6L950.6,407.6L953.4,405.6L956.4,403.6L959.4,401.6L962.5,399.6L965.7,397.6L968.9,395.6L972.3,393.6L975.4,391.8L978.4,390.1L981.4,388.4L984.7,386.6L988.4,384.6L991.4,383.1L994.5,381.6L998.4,379.8L1001.4,378.5L1005.4,376.8L1008.5,375.6L1012.4,374.2L1016.4,372.9L1020.4,371.8L1024.4,370.7L1028.4,369.8L1032.4,369.1L1036.4,368.4L1041.4,367.8Z" fill="#d0e9c9"/>
<path d="M1046.7,371.6L1050.4,371.5L1054.4,371.5L1057.4,371.6L1061.4,372.0L1065.4,372.5L1068.4,373.0L1071.4,373.6L1075.2,374.6L1078.4,375.6L1081.3,376.6L1083.7,377.6L1086.4,378.8L1089.4,380.4L1091.4,381.6L1094.3,383.6L1096.4,385.3L1098.4,387.0L1100.4,389.0L1102.4,391.4L1104.0,393.6L1105.4,395.9L1106.7,398.6L1107.8,401.6L1108.6,404.6L1109.1,408.6L1109.0,412.6L1108.4,416.4L1107.6,419.6L1106.4,422.6L1105.4,424.8L1103.8,427.6L1102.4,429.8L1100.4,432.4L1098.5,434.6L1096.6,436.6L1094.4,438.6L1092.4,440.3L1090.4,441.9L1088.0,443.6L1085.4,445.3L1083.2,446.6L1080.4,448.1L1077.4,449.6L1075.1,450.6L1072.4,451.7L1069.4,452.9L1066.4,453.9L1063.4,454.8L1060.4,455.6L1056.4,456.5L1053.4,457.1L1050.4,457.7L1046.4,458.3L1043.4,458.7L1039.4,459.1L1035.4,459.4L1032.4,459.6L1028.4,459.9L1024.4,460.1L1020.4,460.3L1016.4,460.5L1013.4,460.7L1009.4,461.0L1005.4,461.4L1002.4,461.8L998.4,462.4L995.4,463.0L992.4,463.6L988.4,464.5L985.4,465.2L982.4,466.0L979.4,466.7L975.7,467.6L972.4,468.4L969.4,469.0L966.4,469.6L962.4,470.3L959.4,470.6L955.4,470.9L951.4,470.9L947.5,470.6L944.4,470.0L941.4,469.0L938.5,467.6L936.4,466.1L934.4,464.2L932.6,461.6L931.4,459.1L930.4,455.6L930.1,452.6L930.3,448.6L930.8,445.6L931.7,442.6L932.8,439.6L934.2,436.6L935.4,434.4L937.2,431.6L938.6,429.6L940.4,427.3L942.4,424.9L944.4,422.8L946.4,420.7L948.4,418.8L950.4,417.0L952.4,415.3L954.4,413.6L957.0,411.6L959.4,409.7L961.4,408.3L963.7,406.6L966.4,404.7L968.4,403.3L970.9,401.6L973.4,399.9L975.4,398.6L978.4,396.6L980.4,395.4L983.2,393.6L985.4,392.3L988.2,390.6L990.4,389.4L993.4,387.7L995.4,386.6L998.4,385.1L1001.4,383.6L1003.5,382.6L1006.4,381.3L1009.4,380.1L1012.4,378.9L1015.4,377.8L1018.4,376.8L1021.4,375.9L1024.4,375.1L1027.4,374.3L1030.8,373.6L1034.4,372.9L1037.4,372.5L1041.4,372.0L1045.4,371.7Z" fill="#c5e5be"/>
<path d="M1041.3,375.6L1044.4,375.3L1048.4,375.1L1052.4,375.1L1056.4,375.2L1060.4,375.5L1063.4,375.9L1067.3,376.6L1070.4,377.3L1073.4,378.1L1076.4,379.0L1079.4,380.2L1082.4,381.5L1084.6,382.6L1087.4,384.2L1089.5,385.6L1092.1,387.6L1094.4,389.6L1096.3,391.6L1098.0,393.6L1099.4,395.6L1101.1,398.6L1102.4,401.6L1103.3,404.6L1103.8,407.6L1103.9,411.6L1103.4,415.6L1102.7,418.6L1101.6,421.6L1100.4,424.2L1099.0,426.6L1097.4,429.0L1095.4,431.6L1093.6,433.6L1091.6,435.6L1089.4,437.5L1087.4,439.2L1085.4,440.6L1082.4,442.6L1080.4,443.8L1077.4,445.5L1075.1,446.6L1072.4,447.8L1069.4,449.0L1066.4,450.1L1063.4,451.1L1060.4,451.9L1057.4,452.7L1053.4,453.6L1050.4,454.1L1047.1,454.6L1043.4,455.1L1039.4,455.4L1036.4,455.6L1032.4,455.9L1028.4,456.0L1024.4,456.1L1020.4,456.1L1016.4,456.2L1012.4,456.2L1008.4,456.3L1004.4,456.5L1001.4,456.6L997.4,457.0L993.4,457.4L990.4,457.7L986.4,458.3L983.4,458.7L979.4,459.3L976.4,459.8L972.4,460.3L969.3,460.6L965.4,460.8L961.4,460.8L958.4,460.5L954.4,459.8L951.4,458.7L949.4,457.6L946.9,455.6L945.3,453.6L943.9,450.6L943.2,447.6L943.3,443.6L943.9,440.6L945.0,437.6L946.4,434.6L947.5,432.6L949.4,429.7L951.0,427.6L952.6,425.6L954.4,423.6L956.4,421.5L958.4,419.5L960.5,417.6L962.7,415.6L965.0,413.6L967.4,411.6L969.4,410.0L971.4,408.4L973.7,406.6L976.3,404.6L978.4,403.1L980.4,401.6L983.2,399.6L985.4,398.1L987.5,396.6L990.4,394.7L992.4,393.4L995.4,391.6L997.4,390.4L1000.4,388.8L1002.6,387.6L1005.4,386.2L1008.4,384.8L1011.1,383.6L1013.5,382.6L1016.4,381.5L1019.4,380.4L1022.4,379.5L1025.4,378.6L1029.4,377.6L1032.4,377.0L1035.4,376.4L1039.4,375.8Z" fill="#badfb3"/>
<path d="M1042.3,379.6L1044.4,379.4L1047.4,379.2L1050.4,379.2L1053.4,379.2L1056.4,379.4L1058.8,379.6L1061.4,379.9L1064.4,380.4L1066.4,380.8L1069.4,381.6L1071.4,382.1L1073.4,382.8L1075.6,383.6L1077.9,384.6L1080.0,385.6L1081.8,386.6L1083.5,387.6L1085.4,388.9L1087.4,390.4L1088.8,391.6L1090.4,393.2L1091.7,394.6L1093.2,396.6L1094.4,398.4L1095.4,400.2L1096.4,402.5L1097.1,404.6L1097.6,406.6L1097.9,409.6L1097.9,412.6L1097.5,415.6L1097.0,417.6L1096.4,419.6L1095.4,422.0L1094.4,424.0L1093.4,425.7L1092.1,427.6L1090.5,429.6L1089.4,430.9L1087.8,432.6L1086.4,433.9L1084.5,435.6L1083.2,436.6L1081.4,437.9L1079.4,439.3L1077.4,440.5L1075.5,441.6L1073.6,442.6L1071.5,443.6L1069.4,444.5L1067.4,445.4L1065.4,446.1L1063.4,446.8L1060.8,447.6L1058.4,448.3L1056.4,448.8L1053.4,449.4L1051.4,449.8L1048.4,450.3L1046.3,450.6L1043.4,450.9L1040.4,451.2L1037.4,451.4L1034.4,451.5L1031.4,451.6L1028.4,451.6L1025.4,451.5L1022.4,451.4L1019.4,451.3L1016.4,451.2L1013.4,451.0L1010.4,450.8L1007.4,450.6L1005.4,450.5L1002.4,450.3L999.4,450.2L996.4,450.1L993.4,449.9L990.4,449.8L987.4,449.7L984.4,449.6L982.4,449.5L979.4,449.4L976.4,449.1L973.4,448.6L971.4,448.2L969.4,447.6L967.1,446.6L965.4,445.5L963.4,443.6L962.4,441.8L961.8,439.6L961.8,436.6L962.4,433.8L963.2,431.6L964.2,429.6L965.3,427.6L966.4,426.0L967.4,424.6L968.9,422.6L970.4,420.7L971.4,419.6L973.2,417.6L974.4,416.3L976.0,414.6L977.4,413.2L979.0,411.6L980.4,410.3L982.2,408.6L983.4,407.5L985.4,405.8L986.7,404.6L988.4,403.2L990.4,401.6L991.7,400.6L993.4,399.3L995.4,397.9L997.2,396.6L998.7,395.6L1000.4,394.5L1002.4,393.3L1004.4,392.1L1006.4,391.0L1008.4,389.9L1010.4,388.9L1012.4,387.9L1014.4,387.0L1016.4,386.2L1018.4,385.4L1020.5,384.6L1023.4,383.6L1025.4,383.0L1027.4,382.4L1030.4,381.6L1032.4,381.2L1035.3,380.6L1037.4,380.2L1040.4,379.8Z" fill="#aed8a8"/>
<path d="M1040.0,382.6L1042.4,382.3L1045.4,382.1L1048.4,381.9L1051.4,381.9L1054.4,382.0L1057.4,382.2L1060.3,382.6L1062.4,382.9L1065.4,383.5L1067.4,384.0L1069.4,384.6L1072.3,385.6L1074.4,386.4L1076.4,387.3L1078.4,388.4L1080.4,389.5L1082.0,390.6L1083.4,391.6L1085.4,393.3L1086.8,394.6L1088.4,396.4L1089.4,397.7L1090.7,399.6L1091.8,401.6L1092.6,403.6L1093.4,406.2L1093.8,408.6L1094.0,411.6L1093.7,414.6L1093.3,416.6L1092.4,419.6L1091.6,421.6L1090.5,423.6L1089.4,425.4L1088.4,426.9L1087.0,428.6L1085.4,430.4L1084.2,431.6L1082.4,433.3L1080.8,434.6L1079.4,435.7L1077.4,437.1L1075.4,438.3L1073.4,439.5L1071.4,440.5L1069.4,441.5L1067.4,442.4L1065.4,443.2L1063.4,443.9L1061.3,444.6L1058.4,445.5L1056.4,446.0L1053.8,446.6L1051.4,447.1L1048.4,447.6L1046.4,447.9L1043.4,448.2L1040.4,448.4L1037.6,448.6L1035.4,448.7L1032.4,448.7L1029.4,448.7L1027.4,448.6L1024.4,448.5L1021.4,448.2L1018.4,448.0L1015.4,447.7L1013.4,447.5L1010.4,447.1L1007.4,446.7L1005.4,446.4L1002.4,446.0L1000.1,445.6L997.4,445.2L994.4,444.6L992.4,444.2L989.6,443.6L987.4,443.0L985.4,442.4L983.1,441.6L980.9,440.6L979.3,439.6L977.4,438.0L976.3,436.6L975.4,434.6L975.0,431.6L975.4,428.9L976.1,426.6L976.9,424.6L978.0,422.6L979.2,420.6L980.4,418.7L981.4,417.3L982.7,415.6L984.3,413.6L985.4,412.4L987.0,410.6L988.4,409.1L989.9,407.6L991.4,406.1L993.1,404.6L994.4,403.4L996.4,401.8L997.8,400.6L999.4,399.4L1001.4,398.0L1003.4,396.6L1004.9,395.6L1006.5,394.6L1008.4,393.5L1010.4,392.3L1012.4,391.3L1014.4,390.3L1016.4,389.4L1018.4,388.5L1020.6,387.6L1023.3,386.6L1025.4,385.9L1027.4,385.3L1029.9,384.6L1032.4,384.0L1034.4,383.5L1037.4,383.0L1040.0,382.6Z" fill="#a1d09d"/>
<path d="M1038.3,385.6L1039.4,385.4L1041.4,385.2L1043.4,384.9L1045.4,384.8L1047.4,384.7L1049.4,384.6L1051.4,384.7L1053.4,384.7L1055.4,384.9L1057.4,385.1L1059.4,385.3L1061.1,385.6L1062.4,385.8L1064.4,386.3L1065.6,386.6L1067.4,387.1L1068.9,387.6L1070.4,388.1L1071.6,388.6L1073.4,389.4L1074.4,389.9L1075.8,390.6L1077.4,391.6L1078.4,392.2L1079.4,392.9L1080.4,393.6L1081.6,394.6L1082.7,395.6L1083.7,396.6L1084.6,397.6L1085.4,398.6L1086.4,400.0L1087.4,401.6L1087.9,402.6L1088.4,403.7L1089.1,405.6L1089.4,406.6L1089.8,408.6L1090.0,410.6L1090.0,412.6L1089.8,414.6L1089.4,416.5L1089.1,417.6L1088.4,419.6L1088.0,420.6L1087.4,421.8L1086.4,423.6L1085.8,424.6L1085.1,425.6L1084.3,426.6L1083.4,427.7L1082.4,428.8L1081.4,429.9L1080.4,430.8L1079.4,431.7L1078.3,432.6L1077.1,433.6L1075.7,434.6L1074.4,435.5L1073.4,436.1L1072.4,436.7L1070.8,437.6L1069.4,438.3L1068.4,438.8L1066.8,439.6L1065.4,440.2L1064.4,440.6L1062.4,441.4L1061.4,441.7L1059.4,442.4L1058.4,442.7L1056.4,443.2L1054.8,443.6L1053.4,443.9L1051.4,444.3L1049.9,444.6L1048.4,444.9L1046.4,445.1L1044.4,445.4L1042.4,445.5L1041.4,445.6L1039.4,445.7L1037.4,445.8L1035.4,445.9L1033.4,445.8L1031.4,445.8L1029.4,445.7L1027.4,445.6L1026.4,445.5L1024.4,445.4L1022.4,445.2L1020.4,444.9L1018.4,444.6L1017.4,444.5L1015.4,444.2L1013.4,443.8L1012.3,443.6L1010.4,443.2L1008.4,442.8L1007.4,442.5L1005.4,442.0L1003.8,441.6L1002.4,441.2L1000.5,440.6L999.4,440.2L997.7,439.6L996.4,439.1L995.3,438.6L993.4,437.7L992.4,437.1L991.4,436.5L990.2,435.6L989.1,434.6L988.1,433.6L987.4,432.6L986.4,430.7L986.1,429.6L985.8,427.6L985.8,425.6L986.2,423.6L986.4,422.6L987.1,420.6L987.6,419.6L988.4,417.9L989.1,416.6L989.7,415.6L990.4,414.6L991.4,413.2L992.4,411.8L993.4,410.6L994.2,409.6L995.1,408.6L996.0,407.6L997.0,406.6L998.0,405.6L999.0,404.6L1000.1,403.6L1001.3,402.6L1002.4,401.7L1003.4,400.9L1004.4,400.1L1005.4,399.4L1006.5,398.6L1007.9,397.6L1009.4,396.6L1010.4,396.0L1011.4,395.4L1012.8,394.6L1014.4,393.7L1015.4,393.2L1016.5,392.6L1018.4,391.7L1019.4,391.3L1020.9,390.6L1022.4,390.0L1023.4,389.6L1025.4,388.9L1026.4,388.5L1028.4,387.9L1029.4,387.6L1031.4,387.1L1033.2,386.6L1034.4,386.3L1036.4,385.9L1038.3,385.6Z" fill="#94c893"/>
<path d="M1039.6,388.6L1041.4,388.3L1043.4,388.1L1045.4,388.0L1047.4,387.9L1049.4,387.8L1051.4,387.9L1053.4,388.0L1055.4,388.1L1057.4,388.4L1058.9,388.6L1060.4,388.9L1062.4,389.3L1063.5,389.6L1065.4,390.1L1066.8,390.6L1068.4,391.2L1069.4,391.6L1071.4,392.5L1072.4,393.1L1073.4,393.6L1075.0,394.6L1076.4,395.6L1077.4,396.4L1078.4,397.3L1079.4,398.2L1080.4,399.3L1081.4,400.5L1082.2,401.6L1082.8,402.6L1083.4,403.8L1084.2,405.6L1084.5,406.6L1085.0,408.6L1085.3,410.6L1085.3,412.6L1085.1,414.6L1084.7,416.6L1084.4,417.7L1083.7,419.6L1083.2,420.6L1082.4,422.2L1081.5,423.6L1080.8,424.6L1080.1,425.6L1079.2,426.6L1078.3,427.6L1077.3,428.6L1076.2,429.6L1075.1,430.6L1073.8,431.6L1072.4,432.6L1071.4,433.3L1070.4,433.9L1069.2,434.6L1067.4,435.6L1066.4,436.1L1065.4,436.6L1063.4,437.5L1062.4,437.9L1060.5,438.6L1059.4,439.0L1057.5,439.6L1056.4,439.9L1054.4,440.5L1053.4,440.7L1051.4,441.1L1049.4,441.5L1048.4,441.7L1046.4,441.9L1044.4,442.2L1042.4,442.3L1040.4,442.5L1038.4,442.5L1036.4,442.6L1034.4,442.5L1032.4,442.5L1030.4,442.3L1028.4,442.2L1026.4,442.0L1024.4,441.7L1023.4,441.5L1021.4,441.2L1019.4,440.8L1018.4,440.6L1016.4,440.1L1014.4,439.6L1013.4,439.3L1011.4,438.7L1010.4,438.3L1008.4,437.6L1007.4,437.2L1006.1,436.6L1004.4,435.8L1003.4,435.2L1002.4,434.6L1000.9,433.6L999.7,432.6L998.6,431.6L997.8,430.6L997.0,429.6L996.4,428.5L995.6,426.6L995.4,425.6L995.2,423.6L995.3,421.6L995.4,420.6L995.9,418.6L996.4,417.3L997.2,415.6L997.7,414.6L998.4,413.3L999.4,411.8L1000.2,410.6L1001.0,409.6L1001.8,408.6L1002.7,407.6L1003.6,406.6L1004.6,405.6L1005.6,404.6L1006.7,403.6L1007.9,402.6L1009.1,401.6L1010.4,400.6L1011.4,399.9L1012.4,399.2L1013.4,398.6L1014.9,397.6L1016.4,396.7L1017.4,396.2L1018.4,395.6L1020.4,394.6L1021.4,394.1L1022.6,393.6L1024.4,392.8L1025.4,392.4L1027.4,391.7L1028.4,391.3L1030.4,390.7L1031.4,390.4L1033.4,389.9L1034.5,389.6L1036.4,389.2L1038.4,388.8L1039.6,388.6Z" fill="#86be88"/>
<path d="M1040.5,391.6L1042.4,391.4L1044.4,391.2L1046.4,391.0L1048.4,391.0L1050.4,391.0L1052.4,391.1L1054.4,391.2L1056.4,391.5L1057.4,391.6L1059.4,392.0L1061.4,392.5L1062.4,392.8L1064.4,393.4L1065.4,393.8L1067.3,394.6L1068.4,395.1L1069.4,395.6L1071.0,396.6L1072.4,397.5L1073.4,398.3L1074.4,399.1L1075.4,400.1L1076.4,401.1L1077.4,402.4L1078.2,403.6L1078.8,404.6L1079.4,405.8L1080.1,407.6L1080.4,408.9L1080.7,410.6L1080.8,412.6L1080.6,414.6L1080.4,415.6L1079.9,417.6L1079.4,418.8L1078.6,420.6L1078.0,421.6L1077.4,422.6L1076.4,423.9L1075.4,425.2L1074.4,426.3L1073.4,427.2L1072.4,428.2L1071.4,429.0L1070.4,429.8L1069.2,430.6L1067.7,431.6L1066.4,432.4L1065.4,432.9L1064.1,433.6L1062.4,434.4L1061.4,434.9L1059.6,435.6L1058.4,436.0L1056.6,436.6L1055.4,437.0L1053.4,437.5L1052.4,437.8L1050.4,438.2L1048.4,438.5L1047.4,438.7L1045.4,438.9L1043.4,439.1L1041.4,439.3L1039.4,439.3L1037.4,439.4L1035.4,439.3L1033.4,439.2L1031.4,439.1L1029.4,438.8L1027.8,438.6L1026.4,438.4L1024.4,438.0L1022.6,437.6L1021.4,437.3L1019.4,436.7L1018.4,436.4L1016.4,435.7L1015.4,435.3L1013.7,434.6L1012.4,434.0L1011.4,433.4L1010.0,432.6L1008.6,431.6L1007.4,430.7L1006.4,429.7L1005.4,428.6L1004.6,427.6L1004.0,426.6L1003.4,425.2L1002.9,423.6L1002.6,421.6L1002.7,419.6L1003.1,417.6L1003.4,416.6L1004.2,414.6L1004.6,413.6L1005.4,412.3L1006.4,410.7L1007.2,409.6L1008.0,408.6L1008.8,407.6L1009.8,406.6L1010.8,405.6L1011.8,404.6L1013.0,403.6L1014.2,402.6L1015.4,401.7L1016.4,401.0L1017.4,400.3L1018.5,399.6L1020.2,398.6L1021.4,397.9L1022.4,397.4L1024.0,396.6L1025.4,396.0L1026.4,395.6L1028.4,394.8L1029.4,394.4L1031.4,393.7L1032.4,393.4L1034.4,392.9L1035.4,392.6L1037.4,392.2L1039.4,391.8L1040.5,391.6Z" fill="#78b27d"/>
<path d="M1040.8,395.6L1041.4,395.5L1042.4,395.4L1043.4,395.2L1044.4,395.2L1045.4,395.1L1046.4,395.0L1047.4,395.0L1048.4,395.0L1049.4,395.0L1050.4,395.0L1051.4,395.1L1052.4,395.2L1053.4,395.3L1054.4,395.4L1055.4,395.6L1055.6,395.6L1056.4,395.7L1057.4,396.0L1058.4,396.2L1059.4,396.5L1059.8,396.6L1060.4,396.8L1061.4,397.1L1062.4,397.5L1062.7,397.6L1063.4,397.9L1064.4,398.4L1064.8,398.6L1065.4,398.9L1066.4,399.5L1066.6,399.6L1067.4,400.1L1068.1,400.6L1068.4,400.8L1069.4,401.6L1069.4,401.6L1070.4,402.6L1070.4,402.6L1071.3,403.6L1071.4,403.7L1072.1,404.6L1072.4,405.0L1072.8,405.6L1073.4,406.6L1073.4,406.7L1073.8,407.6L1074.2,408.6L1074.4,409.3L1074.5,409.6L1074.7,410.6L1074.8,411.6L1074.8,412.6L1074.8,413.6L1074.7,414.6L1074.5,415.6L1074.4,416.1L1074.3,416.6L1073.9,417.6L1073.5,418.6L1073.4,418.9L1073.0,419.6L1072.5,420.6L1072.4,420.7L1071.8,421.6L1071.4,422.2L1071.1,422.6L1070.4,423.4L1070.2,423.6L1069.4,424.5L1069.3,424.6L1068.4,425.5L1068.3,425.6L1067.4,426.3L1067.1,426.6L1066.4,427.1L1065.8,427.6L1065.4,427.9L1064.4,428.5L1064.3,428.6L1063.4,429.2L1062.6,429.6L1062.4,429.7L1061.4,430.3L1060.7,430.6L1060.4,430.8L1059.4,431.2L1058.5,431.6L1058.4,431.7L1057.4,432.1L1056.4,432.4L1055.9,432.6L1055.4,432.8L1054.4,433.1L1053.4,433.4L1052.6,433.6L1052.4,433.7L1051.4,433.9L1050.4,434.1L1049.4,434.3L1048.4,434.5L1047.9,434.6L1047.4,434.7L1046.4,434.8L1045.4,434.9L1044.4,435.0L1043.4,435.1L1042.4,435.2L1041.4,435.2L1040.4,435.3L1039.4,435.3L1038.4,435.3L1037.4,435.2L1036.4,435.2L1035.4,435.1L1034.4,435.0L1033.4,434.9L1032.4,434.8L1031.4,434.7L1031.1,434.6L1030.4,434.5L1029.4,434.3L1028.4,434.1L1027.4,433.8L1026.5,433.6L1026.4,433.6L1025.4,433.3L1024.4,433.0L1023.4,432.6L1023.3,432.6L1022.4,432.2L1021.4,431.8L1020.9,431.6L1020.4,431.4L1019.4,430.9L1018.9,430.6L1018.4,430.3L1017.4,429.7L1017.3,429.6L1016.4,429.0L1015.9,428.6L1015.4,428.2L1014.8,427.6L1014.4,427.2L1013.8,426.6L1013.4,426.1L1013.0,425.6L1012.4,424.6L1012.4,424.6L1011.9,423.6L1011.5,422.6L1011.4,422.3L1011.2,421.6L1011.0,420.6L1010.9,419.6L1010.9,418.6L1011.0,417.6L1011.2,416.6L1011.4,415.9L1011.5,415.6L1011.8,414.6L1012.2,413.6L1012.4,413.3L1012.7,412.6L1013.3,411.6L1013.4,411.5L1014.0,410.6L1014.4,410.0L1014.7,409.6L1015.4,408.7L1015.5,408.6L1016.4,407.6L1016.4,407.6L1017.4,406.6L1017.4,406.6L1018.4,405.7L1018.5,405.6L1019.4,404.8L1019.7,404.6L1020.4,404.0L1021.0,403.6L1021.4,403.3L1022.4,402.6L1022.4,402.6L1023.4,402.0L1024.0,401.6L1024.4,401.4L1025.4,400.8L1025.8,400.6L1026.4,400.3L1027.4,399.8L1027.8,399.6L1028.4,399.3L1029.4,398.9L1030.1,398.6L1030.4,398.5L1031.4,398.1L1032.4,397.7L1032.7,397.6L1033.4,397.4L1034.4,397.1L1035.4,396.8L1036.0,396.6L1036.4,396.5L1037.4,396.3L1038.4,396.0L1039.4,395.8L1040.4,395.7L1040.8,395.6Z" fill="#6aa470"/>
<path d="M1040.9,398.6L1041.4,398.5L1042.4,398.4L1043.4,398.2L1044.4,398.1L1045.4,398.1L1046.4,398.0L1047.4,398.0L1048.4,398.0L1049.4,398.0L1050.4,398.1L1051.4,398.2L1052.4,398.3L1053.4,398.4L1054.4,398.6L1054.5,398.6L1055.4,398.8L1056.4,399.0L1057.4,399.3L1058.4,399.6L1058.4,399.6L1059.4,400.0L1060.4,400.4L1060.9,400.6L1061.4,400.8L1062.4,401.3L1062.9,401.6L1063.4,401.9L1064.4,402.6L1064.4,402.6L1065.4,403.3L1065.7,403.6L1066.4,404.2L1066.8,404.6L1067.4,405.3L1067.7,405.6L1068.4,406.6L1068.4,406.6L1069.0,407.6L1069.4,408.4L1069.5,408.6L1069.9,409.6L1070.1,410.6L1070.3,411.6L1070.4,412.6L1070.4,413.6L1070.3,414.6L1070.1,415.6L1069.8,416.6L1069.5,417.6L1069.4,417.8L1069.0,418.6L1068.5,419.6L1068.4,419.7L1067.8,420.6L1067.4,421.2L1067.1,421.6L1066.4,422.4L1066.2,422.6L1065.4,423.4L1065.2,423.6L1064.4,424.3L1064.1,424.6L1063.4,425.2L1062.8,425.6L1062.4,425.9L1061.4,426.6L1061.4,426.6L1060.4,427.2L1059.7,427.6L1059.4,427.7L1058.4,428.3L1057.7,428.6L1057.4,428.7L1056.4,429.2L1055.4,429.6L1055.3,429.6L1054.4,429.9L1053.4,430.3L1052.4,430.6L1052.3,430.6L1051.4,430.8L1050.4,431.1L1049.4,431.3L1048.4,431.5L1047.8,431.6L1047.4,431.7L1046.4,431.8L1045.4,431.9L1044.4,432.0L1043.4,432.1L1042.4,432.2L1041.4,432.2L1040.4,432.2L1039.4,432.2L1038.4,432.2L1037.4,432.1L1036.4,432.0L1035.4,431.9L1034.4,431.8L1033.4,431.6L1033.1,431.6L1032.4,431.5L1031.4,431.3L1030.4,431.0L1029.4,430.7L1028.9,430.6L1028.4,430.4L1027.4,430.1L1026.4,429.7L1026.1,429.6L1025.4,429.3L1024.4,428.8L1024.0,428.6L1023.4,428.2L1022.4,427.6L1022.3,427.6L1021.4,426.9L1021.0,426.6L1020.4,426.1L1019.9,425.6L1019.4,425.1L1018.9,424.6L1018.4,423.9L1018.2,423.6L1017.6,422.6L1017.4,422.1L1017.2,421.6L1016.9,420.6L1016.7,419.6L1016.6,418.6L1016.6,417.6L1016.7,416.6L1016.9,415.6L1017.2,414.6L1017.4,414.1L1017.6,413.6L1018.1,412.6L1018.4,412.1L1018.7,411.6L1019.3,410.6L1019.4,410.5L1020.1,409.6L1020.4,409.3L1021.0,408.6L1021.4,408.2L1022.0,407.6L1022.4,407.2L1023.1,406.6L1023.4,406.3L1024.3,405.6L1024.4,405.5L1025.4,404.8L1025.7,404.6L1026.4,404.1L1027.2,403.6L1027.4,403.5L1028.4,402.9L1029.0,402.6L1029.4,402.4L1030.4,401.9L1031.1,401.6L1031.4,401.4L1032.4,401.0L1033.4,400.6L1033.5,400.6L1034.4,400.3L1035.4,399.9L1036.4,399.6L1036.5,399.6L1037.4,399.4L1038.4,399.1L1039.4,398.9L1040.4,398.7L1040.9,398.6Z" fill="#5d9463"/>
<path d="M1041.5,401.6L1042.4,401.5L1043.4,401.3L1044.4,401.2L1045.4,401.1L1046.4,401.1L1047.4,401.1L1048.4,401.1L1049.4,401.2L1050.4,401.2L1051.4,401.4L1052.4,401.5L1052.8,401.6L1053.4,401.7L1054.4,402.0L1055.4,402.2L1056.4,402.6L1056.5,402.6L1057.4,402.9L1058.4,403.4L1058.8,403.6L1059.4,403.9L1060.4,404.5L1060.5,404.6L1061.4,405.2L1061.9,405.6L1062.4,406.1L1062.9,406.6L1063.4,407.1L1063.8,407.6L1064.4,408.5L1064.5,408.6L1065.0,409.6L1065.4,410.6L1065.4,410.7L1065.6,411.6L1065.8,412.6L1065.8,413.6L1065.7,414.6L1065.5,415.6L1065.4,416.0L1065.2,416.6L1064.8,417.6L1064.4,418.4L1064.3,418.6L1063.7,419.6L1063.4,420.0L1062.9,420.6L1062.4,421.2L1062.0,421.6L1061.4,422.2L1060.9,422.6L1060.4,423.0L1059.7,423.6L1059.4,423.8L1058.4,424.5L1058.2,424.6L1057.4,425.1L1056.5,425.6L1056.4,425.6L1055.4,426.1L1054.4,426.6L1054.3,426.6L1053.4,427.0L1052.4,427.3L1051.5,427.6L1051.4,427.6L1050.4,427.9L1049.4,428.2L1048.4,428.4L1047.4,428.6L1047.3,428.6L1046.4,428.7L1045.4,428.9L1044.4,429.0L1043.4,429.0L1042.4,429.1L1041.4,429.1L1040.4,429.1L1039.4,429.0L1038.4,429.0L1037.4,428.9L1036.4,428.7L1035.5,428.6L1035.4,428.6L1034.4,428.4L1033.4,428.1L1032.4,427.9L1031.6,427.6L1031.4,427.5L1030.4,427.2L1029.4,426.7L1029.1,426.6L1028.4,426.2L1027.4,425.7L1027.3,425.6L1026.4,425.0L1025.9,424.6L1025.4,424.2L1024.7,423.6L1024.4,423.2L1023.9,422.6L1023.4,421.9L1023.2,421.6L1022.7,420.6L1022.4,419.8L1022.3,419.6L1022.1,418.6L1022.1,417.6L1022.1,416.6L1022.3,415.6L1022.4,415.0L1022.5,414.6L1022.9,413.6L1023.4,412.6L1023.4,412.6L1024.0,411.6L1024.4,411.1L1024.7,410.6L1025.4,409.8L1025.6,409.6L1026.4,408.8L1026.6,408.6L1027.4,407.9L1027.7,407.6L1028.4,407.1L1029.1,406.6L1029.4,406.4L1030.4,405.7L1030.6,405.6L1031.4,405.2L1032.4,404.6L1032.4,404.6L1033.4,404.1L1034.4,403.7L1034.6,403.6L1035.4,403.3L1036.4,402.9L1037.4,402.6L1037.4,402.6L1038.4,402.3L1039.4,402.1L1040.4,401.8L1041.4,401.6L1041.5,401.6Z" fill="#527f57"/>
</g>
<g style="mix-blend-mode:difference">
<line x1="854.2" x2="854.2" y1="229.6" y2="565.8" stroke="rgb(28,25,27)" stroke-width="1"/>
<line x1="938.4" x2="938.4" y1="229.6" y2="565.8" stroke="rgb(28,25,27)" stroke-width="1"/>
<line x1="1106.8" x2="1106.8" y1="229.6" y2="565.8" stroke="rgb(28,25,27)" stroke-width="1"/>
<line x1="812.4" x2="1158.7" y1="239" y2="239" stroke="rgb(44,40,43)" stroke-width="1.2"/>
<line x1="812.4" x2="1158.7" y1="282.5" y2="282.5" stroke="rgb(44,40,43)" stroke-width="1.2"/>
<line x1="812.4" x2="1158.7" y1="325.9" y2="325.9" stroke="rgb(44,40,43)" stroke-width="1.2"/>
<line x1="812.4" x2="1158.7" y1="369.4" y2="369.4" stroke="rgb(44,40,43)" stroke-width="1.2"/>
<line x1="812.4" x2="1158.7" y1="456.2" y2="456.2" stroke="rgb(44,40,43)" stroke-width="1.2"/>
<line x1="812.4" x2="1158.7" y1="499.7" y2="499.7" stroke="rgb(44,40,43)" stroke-width="1.2"/>
<line x1="812.4" x2="1158.7" y1="543.1" y2="543.1" stroke="rgb(44,40,43)" stroke-width="1.2"/>
<line x1="1022.6" x2="1022.6" y1="229.6" y2="565.8" stroke="rgb(60,56,59)" stroke-width="1.8"/>
<line x1="812.4" x2="1158.7" y1="412.8" y2="412.8" stroke="rgb(60,56,59)" stroke-width="1.8"/>
</g>
<clipPath id="c20"><rect x="1216.6" y="229.6" width="346.3" height="336.2"/></clipPath>
<rect x="1216.6" y="229.6" width="346.3" height="336.2" fill="#eaf2fa"/>
<g clip-path="url(#c20)">
<path d="M1344.0,274.6L1344.6,274.5L1345.6,274.4L1346.6,274.3L1347.6,274.2L1348.6,274.2L1349.6,274.1L1350.6,274.1L1351.6,274.1L1352.6,274.2L1353.6,274.2L1354.6,274.3L1355.6,274.4L1356.6,274.6L1356.8,274.6L1357.6,274.7L1358.6,274.9L1359.6,275.1L1360.6,275.4L1361.3,275.6L1361.6,275.7L1362.6,276.0L1363.6,276.4L1364.1,276.6L1364.6,276.8L1365.6,277.3L1366.1,277.6L1366.6,277.9L1367.6,278.5L1367.8,278.6L1368.6,279.2L1369.1,279.6L1369.6,280.0L1370.2,280.6L1370.6,281.0L1371.2,281.6L1371.6,282.2L1371.9,282.6L1372.6,283.6L1372.6,283.7L1373.1,284.6L1373.5,285.6L1373.6,286.0L1373.8,286.6L1374.0,287.6L1374.1,288.6L1374.2,289.6L1374.1,290.6L1374.0,291.6L1373.9,292.6L1373.6,293.6L1373.6,293.6L1373.3,294.6L1372.9,295.6L1372.6,296.2L1372.4,296.6L1371.9,297.6L1371.6,298.0L1371.2,298.6L1370.6,299.5L1370.6,299.6L1369.8,300.6L1369.6,300.8L1368.9,301.6L1368.6,302.0L1368.0,302.6L1367.6,303.0L1367.0,303.6L1366.6,304.0L1365.9,304.6L1365.6,304.8L1364.6,305.6L1364.6,305.6L1363.6,306.4L1363.3,306.6L1362.6,307.1L1361.8,307.6L1361.6,307.8L1360.6,308.4L1360.2,308.6L1359.6,309.0L1358.6,309.5L1358.4,309.6L1357.6,310.0L1356.6,310.5L1356.4,310.6L1355.6,311.0L1354.6,311.4L1354.2,311.6L1353.6,311.8L1352.6,312.2L1351.6,312.6L1351.5,312.6L1350.6,312.9L1349.6,313.2L1348.6,313.5L1348.3,313.6L1347.6,313.8L1346.6,314.0L1345.6,314.3L1344.6,314.5L1344.0,314.6L1343.6,314.7L1342.6,314.9L1341.6,315.0L1340.6,315.1L1339.6,315.2L1338.6,315.3L1337.6,315.4L1336.6,315.4L1335.6,315.5L1334.6,315.5L1333.6,315.4L1332.6,315.4L1331.6,315.3L1330.6,315.2L1329.6,315.1L1328.6,315.0L1327.6,314.8L1326.6,314.6L1326.6,314.6L1325.6,314.4L1324.6,314.1L1323.6,313.8L1323.1,313.6L1322.6,313.4L1321.6,313.0L1320.6,312.6L1320.6,312.6L1319.6,312.1L1318.8,311.6L1318.6,311.5L1317.6,310.8L1317.3,310.6L1316.6,310.1L1316.0,309.6L1315.6,309.2L1315.0,308.6L1314.6,308.2L1314.1,307.6L1313.6,306.9L1313.4,306.6L1312.8,305.6L1312.6,305.2L1312.3,304.6L1312.0,303.6L1311.7,302.6L1311.6,302.0L1311.5,301.6L1311.4,300.6L1311.4,299.6L1311.5,298.6L1311.6,297.8L1311.6,297.6L1311.8,296.6L1312.1,295.6L1312.5,294.6L1312.6,294.3L1312.9,293.6L1313.4,292.6L1313.6,292.3L1314.0,291.6L1314.6,290.6L1314.6,290.6L1315.3,289.6L1315.6,289.3L1316.1,288.6L1316.6,288.1L1317.0,287.6L1317.6,287.0L1318.0,286.6L1318.6,286.0L1319.0,285.6L1319.6,285.1L1320.2,284.6L1320.6,284.3L1321.5,283.6L1321.6,283.5L1322.6,282.8L1322.9,282.6L1323.6,282.1L1324.4,281.6L1324.6,281.5L1325.6,280.9L1326.1,280.6L1326.6,280.3L1327.6,279.8L1327.9,279.6L1328.6,279.3L1329.6,278.8L1330.0,278.6L1330.6,278.4L1331.6,277.9L1332.4,277.6L1332.6,277.5L1333.6,277.2L1334.6,276.8L1335.3,276.6L1335.6,276.5L1336.6,276.2L1337.6,275.9L1338.6,275.6L1338.8,275.6L1339.6,275.4L1340.6,275.2L1341.6,275.0L1342.6,274.8L1343.6,274.7L1344.0,274.6ZM1461.3,362.6L1465.6,362.4L1470.6,362.3L1475.6,362.5L1479.6,362.8L1484.6,363.4L1488.6,364.0L1492.6,364.9L1496.6,365.9L1500.6,367.2L1504.5,368.6L1507.6,369.9L1511.1,371.6L1514.6,373.6L1517.6,375.5L1520.5,377.6L1522.9,379.6L1525.6,382.2L1527.8,384.6L1530.0,387.6L1531.9,390.6L1533.6,394.2L1534.8,397.6L1535.7,401.6L1536.1,406.6L1535.6,411.6L1534.7,415.6L1533.6,419.0L1532.0,422.6L1530.3,425.6L1528.2,428.6L1525.9,431.6L1523.6,434.1L1521.1,436.6L1518.6,438.8L1515.6,441.1L1512.6,443.3L1509.6,445.2L1506.6,446.9L1503.4,448.6L1499.6,450.4L1496.6,451.7L1492.6,453.2L1488.6,454.5L1485.0,455.6L1481.2,456.6L1476.7,457.6L1472.6,458.4L1468.6,459.0L1464.2,459.6L1459.6,460.1L1454.6,460.6L1450.6,461.0L1445.6,461.4L1441.6,461.8L1436.6,462.4L1432.6,463.1L1428.6,463.8L1424.6,464.8L1420.6,465.8L1416.6,467.0L1412.6,468.2L1408.6,469.6L1405.6,470.7L1401.6,472.2L1398.1,473.6L1394.6,475.1L1391.1,476.6L1387.6,478.2L1384.5,479.6L1380.6,481.4L1377.6,482.7L1373.6,484.4L1370.3,485.6L1366.6,486.8L1362.6,487.8L1357.6,488.5L1353.6,488.6L1349.6,488.0L1345.9,486.6L1343.1,484.6L1340.7,481.6L1339.4,478.6L1338.6,474.6L1338.2,469.6L1338.2,464.6L1338.2,459.6L1338.4,454.6L1338.6,449.6L1338.9,445.6L1339.6,440.8L1340.6,436.7L1341.7,433.6L1343.5,429.6L1345.2,426.6L1347.2,423.6L1349.6,420.7L1351.6,418.5L1354.6,415.7L1357.1,413.6L1359.7,411.6L1362.6,409.5L1365.6,407.6L1368.9,405.6L1372.4,403.6L1375.6,401.8L1378.6,400.1L1381.6,398.5L1384.8,396.6L1388.0,394.6L1391.1,392.6L1394.1,390.6L1396.9,388.6L1399.7,386.6L1402.6,384.6L1405.6,382.5L1408.6,380.5L1411.6,378.6L1414.9,376.6L1418.6,374.6L1421.6,373.1L1424.8,371.6L1428.6,370.0L1432.4,368.6L1435.6,367.5L1439.6,366.3L1443.6,365.3L1447.6,364.4L1452.4,363.6L1456.6,363.0L1461.3,362.6Z" fill="#e1eaf4"/>
<path d="M1454.6,366.6L1457.6,366.2L1461.6,365.9L1465.6,365.7L1469.6,365.6L1473.6,365.7L1477.6,366.0L1481.6,366.4L1484.6,366.8L1488.6,367.6L1491.6,368.3L1494.6,369.1L1497.6,370.0L1500.6,371.1L1503.6,372.3L1506.5,373.6L1508.6,374.7L1511.6,376.4L1513.6,377.7L1516.2,379.6L1518.6,381.5L1520.6,383.4L1522.6,385.5L1524.3,387.6L1525.7,389.6L1527.5,392.6L1528.6,394.9L1529.6,397.6L1530.6,401.5L1531.0,404.6L1531.0,408.6L1530.6,412.0L1529.8,415.6L1528.7,418.6L1527.6,421.1L1526.3,423.6L1524.6,426.2L1522.9,428.6L1521.2,430.6L1519.4,432.6L1517.4,434.6L1515.1,436.6L1512.6,438.6L1510.6,440.1L1508.4,441.6L1505.6,443.3L1503.4,444.6L1500.6,446.1L1497.6,447.5L1495.0,448.6L1492.5,449.6L1489.6,450.7L1486.6,451.6L1483.4,452.6L1479.6,453.6L1476.6,454.3L1473.6,454.9L1469.6,455.5L1466.6,456.0L1462.6,456.5L1459.6,456.8L1455.6,457.1L1451.6,457.4L1448.6,457.6L1444.6,457.9L1440.6,458.2L1436.8,458.6L1433.6,459.0L1429.6,459.5L1426.6,460.1L1423.6,460.6L1419.6,461.5L1416.6,462.3L1413.6,463.0L1410.6,463.8L1407.6,464.7L1404.2,465.6L1400.8,466.6L1397.6,467.5L1394.6,468.4L1391.6,469.3L1388.6,470.1L1385.6,471.0L1382.6,471.8L1379.5,472.6L1375.6,473.5L1372.6,474.1L1368.6,474.5L1365.6,474.6L1362.6,474.3L1359.6,473.5L1356.6,471.9L1354.6,470.1L1352.8,467.6L1351.6,465.3L1350.5,462.6L1349.6,459.5L1348.7,455.6L1348.2,452.6L1347.8,448.6L1347.7,444.6L1348.0,440.6L1348.6,437.4L1349.6,434.0L1350.6,431.4L1352.0,428.6L1353.6,426.0L1355.3,423.6L1357.0,421.6L1358.8,419.6L1360.9,417.6L1363.2,415.6L1365.6,413.7L1367.6,412.3L1370.1,410.6L1372.6,409.0L1374.9,407.6L1377.6,406.0L1380.0,404.6L1382.6,403.1L1385.0,401.6L1387.6,400.0L1389.8,398.6L1392.6,396.8L1394.6,395.4L1397.0,393.6L1399.6,391.7L1401.6,390.2L1403.8,388.6L1406.5,386.6L1408.6,385.1L1410.7,383.6L1413.6,381.7L1415.6,380.5L1418.6,378.7L1420.6,377.6L1423.6,376.0L1426.6,374.6L1428.9,373.6L1431.6,372.5L1434.6,371.4L1437.6,370.4L1440.6,369.5L1444.1,368.6L1447.6,367.8L1450.6,367.2L1454.6,366.6Z" fill="#d8e4f1"/>
<path d="M1463.7,368.6L1467.6,368.5L1471.6,368.5L1474.6,368.7L1478.6,369.0L1482.6,369.5L1485.6,370.1L1488.6,370.7L1492.1,371.6L1495.4,372.6L1498.2,373.6L1500.7,374.6L1503.6,375.9L1506.6,377.5L1508.6,378.7L1511.5,380.6L1513.6,382.2L1515.6,383.9L1517.6,385.8L1519.6,388.1L1521.5,390.6L1522.8,392.6L1524.3,395.6L1525.4,398.6L1526.2,401.6L1526.6,404.6L1526.7,408.6L1526.3,411.6L1525.6,414.9L1524.6,417.9L1523.4,420.6L1521.7,423.6L1520.4,425.6L1518.6,428.0L1516.6,430.4L1514.6,432.4L1512.6,434.3L1510.6,435.9L1508.4,437.6L1505.6,439.6L1503.6,440.8L1500.6,442.6L1498.6,443.6L1495.6,445.1L1492.6,446.4L1489.6,447.5L1486.6,448.6L1483.6,449.5L1480.6,450.4L1477.6,451.1L1474.6,451.7L1470.6,452.5L1467.6,452.9L1463.6,453.5L1460.6,453.8L1456.6,454.1L1452.6,454.4L1448.6,454.6L1445.6,454.8L1441.6,455.0L1437.6,455.2L1433.6,455.6L1430.6,455.9L1426.6,456.4L1423.6,456.8L1419.6,457.5L1416.6,458.1L1413.6,458.8L1409.8,459.6L1406.6,460.3L1403.6,461.0L1400.6,461.6L1396.6,462.4L1393.6,463.0L1389.8,463.6L1386.6,464.0L1382.6,464.4L1378.6,464.6L1374.6,464.4L1370.6,463.6L1367.7,462.6L1365.6,461.5L1363.0,459.6L1361.1,457.6L1359.6,455.5L1358.1,452.6L1356.9,449.6L1356.2,446.6L1355.7,442.6L1355.9,438.6L1356.6,434.9L1357.6,431.9L1358.6,429.6L1360.4,426.6L1361.8,424.6L1363.6,422.4L1365.6,420.3L1367.6,418.4L1369.8,416.6L1372.4,414.6L1374.6,413.0L1376.7,411.6L1379.6,409.8L1381.6,408.5L1384.6,406.7L1386.6,405.4L1389.4,403.6L1391.6,402.1L1393.8,400.6L1396.6,398.6L1398.6,397.1L1400.6,395.5L1403.1,393.6L1405.6,391.6L1407.6,390.1L1409.6,388.5L1412.2,386.6L1414.6,385.0L1416.7,383.6L1419.6,381.8L1421.6,380.6L1424.6,379.0L1427.4,377.6L1429.6,376.6L1432.6,375.3L1435.6,374.2L1438.6,373.2L1441.6,372.2L1444.6,371.4L1448.3,370.6L1451.6,369.9L1454.6,369.5L1458.6,369.0L1462.6,368.7Z" fill="#cfdfee"/>
<path d="M1459.0,372.6L1461.6,372.4L1464.6,372.2L1467.6,372.1L1470.6,372.2L1473.6,372.3L1476.6,372.6L1478.6,372.8L1481.6,373.2L1483.6,373.6L1486.6,374.2L1488.6,374.7L1491.6,375.6L1493.6,376.3L1495.6,377.0L1497.6,377.8L1499.6,378.7L1501.6,379.7L1503.6,380.8L1505.6,382.1L1507.6,383.4L1509.1,384.6L1510.6,385.8L1512.5,387.6L1513.6,388.8L1515.1,390.6L1516.6,392.6L1517.6,394.3L1518.6,396.2L1519.6,398.5L1520.3,400.6L1520.7,402.6L1521.1,405.6L1521.2,408.6L1520.8,411.6L1520.4,413.6L1519.6,416.3L1518.7,418.6L1517.7,420.6L1516.6,422.5L1515.6,424.1L1514.5,425.6L1512.9,427.6L1511.6,429.0L1510.1,430.6L1508.6,431.9L1506.7,433.6L1505.4,434.6L1503.6,435.9L1501.6,437.3L1499.6,438.5L1497.7,439.6L1495.8,440.6L1493.8,441.6L1491.6,442.6L1489.6,443.5L1487.6,444.2L1485.6,445.0L1483.6,445.6L1480.6,446.5L1478.6,447.1L1476.4,447.6L1473.6,448.2L1471.5,448.6L1468.6,449.1L1465.6,449.5L1463.6,449.8L1460.6,450.1L1457.6,450.3L1454.6,450.5L1452.1,450.6L1449.6,450.7L1446.6,450.8L1443.6,450.9L1440.6,450.9L1437.6,451.0L1434.6,451.1L1431.6,451.3L1428.6,451.5L1426.6,451.6L1423.6,451.9L1420.6,452.3L1418.0,452.6L1415.6,452.9L1412.6,453.4L1410.6,453.7L1407.6,454.2L1404.6,454.6L1402.6,454.9L1399.6,455.2L1396.6,455.5L1394.6,455.7L1391.6,455.8L1388.6,455.7L1386.4,455.6L1383.6,455.3L1380.6,454.7L1378.6,454.1L1376.6,453.3L1374.6,452.2L1372.6,450.9L1371.1,449.6L1369.6,447.8L1368.6,446.4L1367.6,444.4L1366.7,441.6L1366.4,439.6L1366.4,436.6L1366.7,434.6L1367.6,431.6L1368.5,429.6L1369.6,427.6L1370.6,426.1L1371.7,424.6L1373.5,422.6L1374.6,421.5L1376.6,419.6L1377.8,418.6L1379.6,417.2L1381.6,415.7L1383.1,414.6L1384.6,413.5L1386.6,412.2L1388.6,410.8L1390.3,409.6L1391.8,408.6L1393.6,407.3L1395.6,405.8L1397.2,404.6L1398.6,403.5L1400.6,401.9L1402.1,400.6L1403.6,399.4L1405.6,397.6L1406.8,396.6L1408.6,395.1L1410.4,393.6L1411.6,392.6L1413.6,391.0L1415.4,389.6L1416.8,388.6L1418.6,387.3L1420.6,386.0L1422.6,384.7L1424.5,383.6L1426.3,382.6L1428.2,381.6L1430.2,380.6L1432.3,379.6L1434.6,378.6L1436.6,377.8L1438.6,377.1L1440.6,376.4L1443.4,375.6L1445.6,375.0L1447.6,374.5L1450.6,373.8L1452.6,373.5L1455.6,373.0L1458.6,372.6Z" fill="#c5dbec"/>
<path d="M1460.9,375.6L1463.6,375.4L1466.6,375.3L1469.6,375.3L1472.6,375.5L1474.6,375.6L1477.6,376.0L1480.6,376.4L1482.6,376.8L1485.6,377.5L1487.6,378.0L1489.6,378.6L1492.4,379.6L1494.6,380.5L1496.6,381.4L1498.6,382.4L1500.6,383.5L1502.3,384.6L1503.8,385.6L1505.6,387.0L1507.4,388.6L1508.6,389.7L1510.3,391.6L1511.6,393.3L1512.6,394.8L1513.6,396.6L1514.6,398.7L1515.6,401.6L1516.0,403.6L1516.4,406.6L1516.3,409.6L1515.8,412.6L1515.3,414.6L1514.6,416.7L1513.6,419.0L1512.6,420.9L1511.5,422.6L1510.1,424.6L1508.6,426.4L1507.5,427.6L1505.6,429.5L1504.4,430.6L1502.6,432.1L1500.6,433.6L1499.2,434.6L1497.6,435.6L1495.6,436.8L1493.6,437.9L1491.6,438.9L1489.6,439.8L1487.6,440.7L1485.3,441.6L1482.6,442.5L1480.6,443.2L1478.6,443.7L1475.6,444.5L1473.6,445.0L1470.6,445.6L1468.6,445.9L1465.6,446.3L1463.2,446.6L1460.6,446.9L1457.6,447.1L1454.6,447.2L1451.6,447.3L1448.6,447.4L1445.6,447.4L1442.6,447.4L1439.6,447.3L1436.6,447.3L1433.6,447.3L1430.6,447.3L1427.6,447.3L1424.6,447.4L1421.6,447.6L1419.6,447.7L1416.6,447.9L1413.6,448.2L1410.6,448.4L1408.2,448.6L1405.6,448.8L1402.6,449.0L1399.6,449.0L1396.6,449.0L1393.6,448.8L1391.6,448.5L1388.6,447.9L1386.6,447.3L1384.6,446.5L1382.6,445.5L1380.6,444.0L1379.2,442.6L1377.9,440.6L1377.1,438.6L1376.7,435.6L1377.0,432.6L1377.7,430.6L1378.6,428.6L1379.9,426.6L1381.4,424.6L1382.6,423.3L1384.3,421.6L1385.6,420.4L1387.6,418.7L1388.9,417.6L1390.6,416.2L1392.6,414.7L1393.9,413.6L1395.6,412.3L1397.6,410.6L1398.8,409.6L1400.6,408.1L1402.2,406.6L1403.6,405.4L1405.5,403.6L1406.6,402.6L1408.6,400.7L1409.8,399.6L1411.6,397.9L1413.0,396.6L1414.6,395.2L1416.5,393.6L1417.7,392.6L1419.6,391.2L1421.6,389.7L1423.2,388.6L1424.7,387.6L1426.6,386.4L1428.6,385.3L1430.6,384.2L1432.6,383.2L1434.6,382.3L1436.6,381.4L1438.6,380.6L1441.4,379.6L1443.6,378.9L1445.6,378.3L1448.4,377.6L1450.6,377.1L1453.2,376.6L1455.6,376.2L1458.6,375.8L1460.9,375.6Z" fill="#b9d4e9"/>
<path d="M1457.5,379.6L1459.6,379.3L1462.6,379.1L1465.6,379.0L1468.6,379.0L1471.6,379.1L1474.6,379.4L1476.6,379.6L1479.6,380.1L1482.0,380.6L1484.6,381.3L1486.6,381.8L1488.8,382.6L1491.3,383.6L1493.5,384.6L1495.4,385.6L1497.2,386.6L1498.7,387.6L1500.6,389.0L1502.5,390.6L1503.6,391.6L1505.4,393.6L1506.6,395.2L1507.6,396.7L1508.7,398.6L1509.6,400.8L1510.4,403.6L1510.7,405.6L1510.9,408.6L1510.6,411.2L1510.1,413.6L1509.5,415.6L1508.6,417.7L1507.6,419.6L1506.4,421.6L1504.9,423.6L1503.6,425.1L1502.2,426.6L1500.6,428.1L1498.9,429.6L1497.6,430.6L1495.6,432.0L1493.6,433.3L1491.6,434.5L1489.6,435.5L1487.6,436.5L1485.6,437.4L1483.6,438.2L1481.6,438.9L1479.6,439.6L1476.6,440.5L1474.6,441.0L1471.9,441.6L1469.6,442.0L1466.6,442.5L1464.6,442.8L1461.6,443.1L1458.6,443.3L1455.6,443.5L1452.6,443.5L1449.6,443.5L1446.6,443.5L1443.6,443.3L1440.6,443.2L1437.6,443.0L1434.6,442.8L1431.8,442.6L1429.6,442.4L1426.6,442.2L1423.6,442.1L1420.6,441.9L1417.6,441.7L1414.8,441.6L1412.6,441.5L1409.6,441.3L1406.6,441.0L1403.6,440.6L1401.6,440.3L1399.0,439.6L1396.6,438.6L1394.8,437.6L1393.6,436.5L1392.2,434.6L1391.6,431.6L1392.3,428.6L1393.2,426.6L1394.5,424.6L1395.6,423.1L1396.8,421.6L1398.6,419.6L1399.6,418.4L1401.3,416.6L1402.6,415.1L1404.0,413.6L1405.6,411.8L1406.7,410.6L1408.4,408.6L1409.6,407.3L1411.1,405.6L1412.6,403.9L1413.8,402.6L1415.6,400.7L1416.7,399.6L1418.6,397.8L1419.9,396.6L1421.6,395.1L1423.5,393.6L1424.8,392.6L1426.6,391.3L1428.6,390.0L1430.6,388.7L1432.6,387.6L1434.5,386.6L1436.6,385.6L1438.6,384.7L1440.6,383.9L1442.6,383.1L1444.6,382.5L1447.5,381.6L1449.6,381.1L1451.7,380.6L1454.6,380.0L1457.5,379.6Z" fill="#aacbe4"/>
<path d="M1461.5,381.6L1462.6,381.5L1464.6,381.4L1466.6,381.4L1468.6,381.4L1470.6,381.5L1471.8,381.6L1473.6,381.8L1475.6,382.0L1477.6,382.3L1479.1,382.6L1480.6,382.9L1482.6,383.4L1483.6,383.7L1485.6,384.3L1486.6,384.7L1488.6,385.4L1489.6,385.9L1491.2,386.6L1492.6,387.3L1493.6,387.9L1494.8,388.6L1496.3,389.6L1497.6,390.6L1498.6,391.4L1499.6,392.2L1500.6,393.2L1501.6,394.3L1502.6,395.5L1503.4,396.6L1504.1,397.6L1504.7,398.6L1505.6,400.5L1506.0,401.6L1506.6,403.4L1506.9,404.6L1507.1,406.6L1507.2,408.6L1507.0,410.6L1506.7,412.6L1506.4,413.6L1505.8,415.6L1505.4,416.6L1504.6,418.2L1503.8,419.6L1503.2,420.6L1502.5,421.6L1501.6,422.7L1500.6,423.9L1499.6,425.0L1498.6,426.0L1497.6,426.9L1496.6,427.8L1495.6,428.6L1494.3,429.6L1492.8,430.6L1491.6,431.4L1490.6,432.0L1489.6,432.6L1487.7,433.6L1486.6,434.1L1485.6,434.6L1483.6,435.5L1482.6,435.9L1480.7,436.6L1479.6,437.0L1477.7,437.6L1476.6,437.9L1474.6,438.5L1473.6,438.7L1471.6,439.2L1469.6,439.6L1468.6,439.8L1466.6,440.1L1464.6,440.3L1462.6,440.6L1461.6,440.7L1459.6,440.8L1457.6,440.9L1455.6,441.0L1453.6,441.0L1451.6,441.0L1449.6,441.0L1447.6,440.9L1445.6,440.8L1443.6,440.6L1442.6,440.5L1440.6,440.4L1438.6,440.2L1436.6,440.0L1434.6,439.7L1433.6,439.6L1431.6,439.3L1429.6,439.0L1427.6,438.7L1426.6,438.6L1424.6,438.3L1422.6,437.9L1420.6,437.6L1419.6,437.4L1417.6,437.0L1415.7,436.6L1414.6,436.3L1412.6,435.8L1411.6,435.5L1409.6,434.7L1408.6,434.3L1407.3,433.6L1405.9,432.6L1404.9,431.6L1404.2,430.6L1403.6,428.9L1403.4,427.6L1403.6,426.1L1403.9,424.6L1404.6,422.8L1405.1,421.6L1405.7,420.6L1406.6,418.9L1407.4,417.6L1408.0,416.6L1408.6,415.6L1409.6,414.1L1410.6,412.6L1411.3,411.6L1412.0,410.6L1412.8,409.6L1413.6,408.5L1414.6,407.2L1415.6,405.9L1416.6,404.7L1417.5,403.6L1418.4,402.6L1419.3,401.6L1420.2,400.6L1421.2,399.6L1422.2,398.6L1423.3,397.6L1424.4,396.6L1425.6,395.6L1426.6,394.8L1427.6,394.0L1428.6,393.3L1429.6,392.6L1431.1,391.6L1432.6,390.7L1433.6,390.1L1434.6,389.5L1436.3,388.6L1437.6,388.0L1438.6,387.5L1440.6,386.6L1441.6,386.2L1443.1,385.6L1444.6,385.1L1446.0,384.6L1447.6,384.1L1449.5,383.6L1450.6,383.3L1452.6,382.9L1454.0,382.6L1455.6,382.3L1457.6,382.0L1459.6,381.8L1461.5,381.6Z" fill="#9cc1de"/>
<path d="M1456.6,384.6L1458.6,384.3L1460.6,384.1L1462.6,383.9L1464.6,383.9L1466.6,383.8L1468.6,383.9L1470.6,384.0L1472.6,384.2L1474.6,384.4L1475.9,384.6L1477.6,384.9L1479.6,385.3L1480.6,385.6L1482.6,386.2L1483.9,386.6L1485.6,387.2L1486.6,387.6L1488.6,388.5L1489.6,389.0L1490.7,389.6L1492.4,390.6L1493.6,391.4L1494.6,392.2L1495.6,393.0L1496.6,393.8L1497.6,394.8L1498.6,395.9L1499.6,397.1L1500.6,398.6L1501.2,399.6L1501.7,400.6L1502.5,402.6L1502.8,403.6L1503.3,405.6L1503.5,407.6L1503.5,409.6L1503.2,411.6L1502.7,413.6L1502.4,414.6L1501.6,416.6L1501.1,417.6L1500.5,418.6L1499.6,420.1L1498.6,421.4L1497.7,422.6L1496.7,423.6L1495.8,424.6L1494.7,425.6L1493.6,426.5L1492.6,427.3L1491.6,428.1L1490.6,428.8L1489.3,429.6L1487.7,430.6L1486.6,431.2L1485.6,431.7L1483.8,432.6L1482.6,433.1L1481.5,433.6L1479.6,434.3L1478.6,434.7L1476.6,435.4L1475.6,435.7L1473.6,436.2L1472.0,436.6L1470.6,436.9L1468.6,437.3L1466.8,437.6L1465.6,437.8L1463.6,438.0L1461.6,438.2L1459.6,438.4L1457.6,438.4L1455.6,438.5L1453.6,438.5L1451.6,438.5L1449.6,438.4L1447.6,438.2L1445.6,438.1L1443.6,437.9L1441.6,437.6L1440.6,437.5L1438.6,437.2L1436.6,436.9L1435.2,436.6L1433.6,436.3L1431.6,435.9L1430.5,435.6L1428.6,435.1L1426.7,434.6L1425.6,434.3L1423.6,433.6L1422.6,433.3L1421.0,432.6L1419.6,432.0L1418.6,431.4L1417.2,430.6L1415.9,429.6L1414.9,428.6L1414.1,427.6L1413.5,426.6L1412.9,424.6L1412.7,422.6L1412.9,420.6L1413.4,418.6L1413.7,417.6L1414.5,415.6L1414.9,414.6L1415.6,413.2L1416.5,411.6L1417.0,410.6L1417.6,409.6L1418.6,408.1L1419.6,406.7L1420.4,405.6L1421.2,404.6L1422.0,403.6L1422.8,402.6L1423.7,401.6L1424.7,400.6L1425.7,399.6L1426.7,398.6L1427.8,397.6L1429.0,396.6L1430.3,395.6L1431.6,394.6L1432.6,393.9L1433.6,393.2L1434.6,392.6L1436.3,391.6L1437.6,390.9L1438.6,390.4L1440.2,389.6L1441.6,388.9L1442.6,388.5L1444.6,387.7L1445.6,387.4L1447.6,386.7L1448.6,386.4L1450.6,385.8L1451.6,385.6L1453.6,385.1L1455.6,384.8L1456.6,384.6Z" fill="#8db5d9"/>
<path d="M1455.9,387.6L1457.6,387.3L1459.6,387.0L1461.6,386.9L1463.6,386.7L1465.6,386.7L1467.6,386.7L1469.6,386.8L1471.6,387.0L1473.6,387.2L1475.6,387.6L1476.6,387.8L1478.6,388.2L1479.9,388.6L1481.6,389.1L1482.9,389.6L1484.6,390.3L1485.6,390.7L1487.3,391.6L1488.6,392.3L1489.6,393.0L1490.6,393.7L1491.8,394.6L1493.0,395.6L1494.0,396.6L1494.9,397.6L1495.7,398.6L1496.6,399.9L1497.6,401.6L1498.0,402.6L1498.6,404.4L1498.9,405.6L1499.2,407.6L1499.2,409.6L1498.9,411.6L1498.6,413.0L1498.1,414.6L1497.6,415.8L1496.7,417.6L1496.0,418.6L1495.4,419.6L1494.6,420.6L1493.6,421.8L1492.6,422.8L1491.6,423.8L1490.6,424.7L1489.4,425.6L1488.1,426.6L1486.6,427.6L1485.6,428.2L1484.6,428.8L1483.1,429.6L1481.6,430.3L1480.6,430.8L1478.6,431.6L1477.6,432.0L1475.7,432.6L1474.6,433.0L1472.6,433.5L1471.6,433.8L1469.6,434.2L1467.6,434.6L1466.6,434.8L1464.6,435.0L1462.6,435.3L1460.6,435.4L1458.6,435.5L1456.6,435.6L1454.6,435.6L1452.6,435.5L1450.6,435.4L1448.6,435.2L1446.6,435.0L1444.6,434.7L1443.6,434.6L1441.6,434.2L1439.6,433.8L1438.6,433.6L1436.6,433.1L1435.0,432.6L1433.6,432.1L1432.0,431.6L1430.6,431.0L1429.6,430.6L1427.6,429.6L1426.6,429.0L1425.6,428.3L1424.6,427.6L1423.5,426.6L1422.6,425.6L1421.6,424.1L1420.9,422.6L1420.6,421.6L1420.3,419.6L1420.4,417.6L1420.6,416.1L1421.0,414.6L1421.6,412.7L1422.0,411.6L1422.6,410.4L1423.6,408.6L1424.1,407.6L1424.8,406.6L1425.6,405.5L1426.6,404.1L1427.6,402.9L1428.6,401.8L1429.6,400.8L1430.6,399.8L1431.6,398.9L1432.6,398.1L1433.6,397.3L1434.6,396.5L1435.9,395.6L1437.4,394.6L1438.6,393.9L1439.6,393.3L1440.9,392.6L1442.6,391.8L1443.6,391.3L1445.4,390.6L1446.6,390.1L1448.1,389.6L1449.6,389.1L1451.4,388.6L1452.6,388.3L1454.6,387.8L1455.9,387.6Z" fill="#7ea8d1"/>
<path d="M1462.1,389.6L1462.6,389.6L1463.6,389.5L1464.6,389.5L1465.6,389.5L1466.6,389.5L1467.6,389.5L1468.6,389.6L1469.0,389.6L1469.6,389.6L1470.6,389.7L1471.6,389.9L1472.6,390.0L1473.6,390.2L1474.6,390.4L1475.6,390.6L1475.7,390.6L1476.6,390.8L1477.6,391.1L1478.6,391.4L1479.3,391.6L1479.6,391.7L1480.6,392.1L1481.6,392.5L1481.9,392.6L1482.6,392.9L1483.6,393.4L1484.0,393.6L1484.6,393.9L1485.6,394.5L1485.8,394.6L1486.6,395.1L1487.3,395.6L1487.6,395.8L1488.6,396.6L1488.6,396.6L1489.6,397.5L1489.7,397.6L1490.6,398.5L1490.7,398.6L1491.6,399.6L1491.6,399.6L1492.3,400.6L1492.6,401.0L1492.9,401.6L1493.5,402.6L1493.6,402.9L1493.9,403.6L1494.3,404.6L1494.6,405.6L1494.6,405.7L1494.8,406.6L1494.9,407.6L1495.0,408.6L1495.0,409.6L1494.9,410.6L1494.7,411.6L1494.6,412.1L1494.5,412.6L1494.2,413.6L1493.8,414.6L1493.6,415.1L1493.4,415.6L1492.9,416.6L1492.6,417.0L1492.3,417.6L1491.6,418.6L1491.6,418.6L1490.8,419.6L1490.6,419.8L1489.9,420.6L1489.6,421.0L1489.0,421.6L1488.6,422.0L1487.9,422.6L1487.6,422.9L1486.7,423.6L1486.6,423.7L1485.6,424.5L1485.4,424.6L1484.6,425.2L1483.9,425.6L1483.6,425.8L1482.6,426.4L1482.3,426.6L1481.6,427.0L1480.6,427.5L1480.4,427.6L1479.6,428.0L1478.6,428.4L1478.2,428.6L1477.6,428.9L1476.6,429.3L1475.7,429.6L1475.6,429.6L1474.6,430.0L1473.6,430.3L1472.6,430.6L1472.6,430.6L1471.6,430.9L1470.6,431.1L1469.6,431.4L1468.6,431.6L1468.5,431.6L1467.6,431.8L1466.6,432.0L1465.6,432.1L1464.6,432.3L1463.6,432.4L1462.6,432.5L1461.6,432.6L1461.0,432.6L1460.6,432.6L1459.6,432.7L1458.6,432.7L1457.6,432.7L1456.6,432.7L1455.6,432.7L1454.6,432.7L1453.6,432.6L1452.9,432.6L1452.6,432.6L1451.6,432.5L1450.6,432.4L1449.6,432.3L1448.6,432.2L1447.6,432.0L1446.6,431.9L1445.6,431.7L1445.3,431.6L1444.6,431.5L1443.6,431.2L1442.6,431.0L1441.6,430.7L1441.1,430.6L1440.6,430.4L1439.6,430.1L1438.6,429.8L1438.1,429.6L1437.6,429.4L1436.6,429.0L1435.7,428.6L1435.6,428.6L1434.6,428.1L1433.7,427.6L1433.6,427.5L1432.6,426.9L1432.1,426.6L1431.6,426.2L1430.8,425.6L1430.6,425.5L1429.7,424.6L1429.6,424.5L1428.7,423.6L1428.6,423.4L1428.0,422.6L1427.6,421.9L1427.4,421.6L1427.0,420.6L1426.6,419.6L1426.6,419.4L1426.4,418.6L1426.3,417.6L1426.3,416.6L1426.3,415.6L1426.4,414.6L1426.6,413.6L1426.6,413.6L1426.8,412.6L1427.2,411.6L1427.5,410.6L1427.6,410.5L1428.0,409.6L1428.5,408.6L1428.6,408.4L1429.0,407.6L1429.6,406.7L1429.7,406.6L1430.3,405.6L1430.6,405.2L1431.1,404.6L1431.6,404.0L1431.9,403.6L1432.6,402.8L1432.8,402.6L1433.6,401.8L1433.8,401.6L1434.6,400.8L1434.8,400.6L1435.6,399.9L1436.0,399.6L1436.6,399.1L1437.2,398.6L1437.6,398.3L1438.6,397.6L1438.6,397.6L1439.6,396.9L1440.1,396.6L1440.6,396.3L1441.6,395.7L1441.7,395.6L1442.6,395.1L1443.6,394.6L1443.6,394.6L1444.6,394.1L1445.6,393.7L1445.7,393.6L1446.6,393.2L1447.6,392.8L1448.2,392.6L1448.6,392.4L1449.6,392.1L1450.6,391.8L1451.1,391.6L1451.6,391.5L1452.6,391.2L1453.6,390.9L1454.6,390.7L1455.0,390.6L1455.6,390.5L1456.6,390.3L1457.6,390.1L1458.6,390.0L1459.6,389.8L1460.6,389.7L1461.6,389.6L1462.1,389.6Z" fill="#6e99c9"/>
<path d="M1458.4,393.6L1458.6,393.6L1459.6,393.4L1460.6,393.3L1461.6,393.2L1462.6,393.1L1463.6,393.1L1464.6,393.1L1465.6,393.1L1466.6,393.1L1467.6,393.1L1468.6,393.2L1469.6,393.3L1470.6,393.5L1471.5,393.6L1471.6,393.6L1472.6,393.8L1473.6,394.0L1474.6,394.3L1475.6,394.6L1475.8,394.6L1476.6,394.9L1477.6,395.2L1478.5,395.6L1478.6,395.6L1479.6,396.1L1480.6,396.6L1480.6,396.6L1481.6,397.2L1482.3,397.6L1482.6,397.8L1483.6,398.5L1483.7,398.6L1484.6,399.3L1484.9,399.6L1485.6,400.2L1485.9,400.6L1486.6,401.4L1486.8,401.6L1487.5,402.6L1487.6,402.8L1488.1,403.6L1488.6,404.6L1488.6,404.7L1489.0,405.6L1489.2,406.6L1489.4,407.6L1489.5,408.6L1489.5,409.6L1489.5,410.6L1489.3,411.6L1489.0,412.6L1488.7,413.6L1488.6,413.9L1488.3,414.6L1487.8,415.6L1487.6,415.9L1487.2,416.6L1486.6,417.4L1486.5,417.6L1485.7,418.6L1485.6,418.7L1484.8,419.6L1484.6,419.7L1483.7,420.6L1483.6,420.7L1482.6,421.5L1482.5,421.6L1481.6,422.3L1481.1,422.6L1480.6,423.0L1479.6,423.6L1479.6,423.6L1478.6,424.2L1477.8,424.6L1477.6,424.7L1476.6,425.2L1475.7,425.6L1475.6,425.6L1474.6,426.1L1473.6,426.4L1473.2,426.6L1472.6,426.8L1471.6,427.1L1470.6,427.4L1469.9,427.6L1469.6,427.7L1468.6,427.9L1467.6,428.1L1466.6,428.3L1465.6,428.5L1465.0,428.6L1464.6,428.7L1463.6,428.8L1462.6,428.9L1461.6,429.0L1460.6,429.0L1459.6,429.1L1458.6,429.1L1457.6,429.1L1456.6,429.1L1455.6,429.0L1454.6,429.0L1453.6,428.9L1452.6,428.8L1451.6,428.6L1451.3,428.6L1450.6,428.5L1449.6,428.3L1448.6,428.1L1447.6,427.9L1446.6,427.6L1446.5,427.6L1445.6,427.3L1444.6,427.0L1443.6,426.7L1443.4,426.6L1442.6,426.3L1441.6,425.8L1441.1,425.6L1440.6,425.3L1439.6,424.8L1439.3,424.6L1438.6,424.1L1437.8,423.6L1437.6,423.4L1436.6,422.6L1436.6,422.6L1435.7,421.6L1435.6,421.5L1434.9,420.6L1434.6,420.2L1434.3,419.6L1433.8,418.6L1433.6,418.1L1433.4,417.6L1433.2,416.6L1433.0,415.6L1433.0,414.6L1433.1,413.6L1433.2,412.6L1433.4,411.6L1433.6,411.0L1433.7,410.6L1434.1,409.6L1434.6,408.6L1434.6,408.6L1435.1,407.6L1435.6,406.8L1435.7,406.6L1436.5,405.6L1436.6,405.4L1437.2,404.6L1437.6,404.2L1438.1,403.6L1438.6,403.1L1439.1,402.6L1439.6,402.2L1440.2,401.6L1440.6,401.3L1441.5,400.6L1441.6,400.5L1442.6,399.8L1442.9,399.6L1443.6,399.1L1444.4,398.6L1444.6,398.5L1445.6,397.9L1446.2,397.6L1446.6,397.4L1447.6,396.9L1448.3,396.6L1448.6,396.4L1449.6,396.0L1450.6,395.6L1450.7,395.6L1451.6,395.3L1452.6,395.0L1453.6,394.7L1453.8,394.6L1454.6,394.4L1455.6,394.1L1456.6,393.9L1457.6,393.7L1458.4,393.6Z" fill="#618bc1"/>
<path d="M1456.9,396.6L1457.6,396.5L1458.6,396.3L1459.6,396.1L1460.6,396.0L1461.6,395.9L1462.6,395.8L1463.6,395.8L1464.6,395.8L1465.6,395.8L1466.6,395.8L1467.6,395.9L1468.6,396.0L1469.6,396.1L1470.6,396.3L1471.6,396.5L1472.1,396.6L1472.6,396.7L1473.6,397.0L1474.6,397.3L1475.3,397.6L1475.6,397.7L1476.6,398.1L1477.6,398.6L1477.6,398.6L1478.6,399.2L1479.3,399.6L1479.6,399.8L1480.6,400.5L1480.7,400.6L1481.6,401.3L1481.9,401.6L1482.6,402.4L1482.8,402.6L1483.6,403.6L1483.6,403.6L1484.2,404.6L1484.6,405.4L1484.7,405.6L1485.0,406.6L1485.3,407.6L1485.4,408.6L1485.5,409.6L1485.4,410.6L1485.2,411.6L1485.0,412.6L1484.6,413.6L1484.6,413.6L1484.1,414.6L1483.6,415.5L1483.6,415.6L1482.9,416.6L1482.6,416.9L1482.0,417.6L1481.6,418.1L1481.1,418.6L1480.6,419.1L1480.0,419.6L1479.6,419.9L1478.7,420.6L1478.6,420.7L1477.6,421.3L1477.2,421.6L1476.6,421.9L1475.6,422.5L1475.4,422.6L1474.6,423.0L1473.6,423.4L1473.2,423.6L1472.6,423.9L1471.6,424.2L1470.6,424.6L1470.5,424.6L1469.6,424.9L1468.6,425.2L1467.6,425.4L1466.7,425.6L1466.6,425.6L1465.6,425.8L1464.6,426.0L1463.6,426.1L1462.6,426.2L1461.6,426.3L1460.6,426.3L1459.6,426.4L1458.6,426.4L1457.6,426.4L1456.6,426.3L1455.6,426.2L1454.6,426.1L1453.6,426.0L1452.6,425.9L1451.6,425.7L1451.2,425.6L1450.6,425.5L1449.6,425.2L1448.6,424.9L1447.6,424.6L1447.6,424.6L1446.6,424.2L1445.6,423.8L1445.2,423.6L1444.6,423.3L1443.6,422.8L1443.3,422.6L1442.6,422.1L1441.9,421.6L1441.6,421.4L1440.7,420.6L1440.6,420.5L1439.8,419.6L1439.6,419.3L1439.1,418.6L1438.6,417.7L1438.6,417.6L1438.2,416.6L1437.9,415.6L1437.7,414.6L1437.7,413.6L1437.8,412.6L1437.9,411.6L1438.2,410.6L1438.6,409.6L1438.6,409.5L1439.0,408.6L1439.6,407.6L1439.6,407.6L1440.2,406.6L1440.6,406.1L1441.0,405.6L1441.6,404.9L1441.9,404.6L1442.6,403.9L1442.9,403.6L1443.6,403.0L1444.0,402.6L1444.6,402.2L1445.3,401.6L1445.6,401.4L1446.6,400.8L1446.8,400.6L1447.6,400.2L1448.6,399.6L1448.6,399.6L1449.6,399.1L1450.6,398.6L1450.7,398.6L1451.6,398.2L1452.6,397.8L1453.3,397.6L1453.6,397.5L1454.6,397.2L1455.6,396.9L1456.6,396.7L1456.9,396.6Z" fill="#567cb7"/>
<path d="M1462.1,398.6L1462.6,398.6L1463.6,398.5L1464.6,398.5L1465.6,398.6L1466.3,398.6L1466.6,398.6L1467.6,398.7L1468.6,398.9L1469.6,399.1L1470.6,399.3L1471.6,399.6L1471.7,399.6L1472.6,399.9L1473.6,400.3L1474.3,400.6L1474.6,400.7L1475.6,401.3L1476.1,401.6L1476.6,401.9L1477.5,402.6L1477.6,402.7L1478.6,403.6L1478.6,403.6L1479.5,404.6L1479.6,404.8L1480.1,405.6L1480.6,406.5L1480.6,406.6L1481.0,407.6L1481.2,408.6L1481.3,409.6L1481.2,410.6L1481.0,411.6L1480.8,412.6L1480.6,413.0L1480.3,413.6L1479.8,414.6L1479.6,414.9L1479.1,415.6L1478.6,416.2L1478.3,416.6L1477.6,417.3L1477.3,417.6L1476.6,418.2L1476.0,418.6L1475.6,418.9L1474.6,419.6L1474.6,419.6L1473.6,420.2L1472.8,420.6L1472.6,420.7L1471.6,421.2L1470.6,421.6L1470.5,421.6L1469.6,421.9L1468.6,422.3L1467.6,422.5L1467.4,422.6L1466.6,422.8L1465.6,423.0L1464.6,423.2L1463.6,423.3L1462.6,423.4L1461.6,423.5L1460.6,423.6L1459.6,423.6L1458.6,423.6L1457.6,423.5L1456.6,423.4L1455.6,423.3L1454.6,423.2L1453.6,423.0L1452.6,422.8L1452.0,422.6L1451.6,422.5L1450.6,422.1L1449.6,421.8L1449.2,421.6L1448.6,421.3L1447.6,420.8L1447.3,420.6L1446.6,420.2L1445.8,419.6L1445.6,419.4L1444.7,418.6L1444.6,418.5L1443.9,417.6L1443.6,417.2L1443.2,416.6L1442.8,415.6L1442.6,414.9L1442.5,414.6L1442.4,413.6L1442.3,412.6L1442.5,411.6L1442.6,411.0L1442.7,410.6L1443.1,409.6L1443.5,408.6L1443.6,408.5L1444.1,407.6L1444.6,407.0L1444.9,406.6L1445.6,405.8L1445.7,405.6L1446.6,404.8L1446.8,404.6L1447.6,403.9L1448.0,403.6L1448.6,403.2L1449.5,402.6L1449.6,402.5L1450.6,401.9L1451.2,401.6L1451.6,401.4L1452.6,400.9L1453.4,400.6L1453.6,400.5L1454.6,400.1L1455.6,399.8L1456.3,399.6L1456.6,399.5L1457.6,399.3L1458.6,399.1L1459.6,398.9L1460.6,398.7L1461.6,398.6L1462.1,398.6Z" fill="#4e6da8"/>
</g>
<g style="mix-blend-mode:difference">
<line x1="1258.4" x2="1258.4" y1="229.6" y2="565.8" stroke="rgb(28,26,22)" stroke-width="1"/>
<line x1="1342.6" x2="1342.6" y1="229.6" y2="565.8" stroke="rgb(28,26,22)" stroke-width="1"/>
<line x1="1511" x2="1511" y1="229.6" y2="565.8" stroke="rgb(28,26,22)" stroke-width="1"/>
<line x1="1216.6" x2="1562.9" y1="239" y2="239" stroke="rgb(45,42,37)" stroke-width="1.2"/>
<line x1="1216.6" x2="1562.9" y1="282.5" y2="282.5" stroke="rgb(45,42,37)" stroke-width="1.2"/>
<line x1="1216.6" x2="1562.9" y1="325.9" y2="325.9" stroke="rgb(45,42,37)" stroke-width="1.2"/>
<line x1="1216.6" x2="1562.9" y1="369.4" y2="369.4" stroke="rgb(45,42,37)" stroke-width="1.2"/>
<line x1="1216.6" x2="1562.9" y1="456.2" y2="456.2" stroke="rgb(45,42,37)" stroke-width="1.2"/>
<line x1="1216.6" x2="1562.9" y1="499.7" y2="499.7" stroke="rgb(45,42,37)" stroke-width="1.2"/>
<line x1="1216.6" x2="1562.9" y1="543.1" y2="543.1" stroke="rgb(45,42,37)" stroke-width="1.2"/>
<line x1="1426.8" x2="1426.8" y1="229.6" y2="565.8" stroke="rgb(60,58,51)" stroke-width="1.8"/>
<line x1="1216.6" x2="1562.9" y1="412.8" y2="412.8" stroke="rgb(60,58,51)" stroke-width="1.8"/>
</g>
<clipPath id="c01"><rect x="408.2" y="602.3" width="346.3" height="336"/></clipPath>
<rect x="408.2" y="602.3" width="346.3" height="336" fill="#eaf2fa"/>
<g clip-path="url(#c01)">
<path d="M616.1,666.3L623.2,665.8L631.2,665.7L639.2,666.2L646.2,667.1L652.4,668.3L659.2,670.1L665.2,672.1L670.6,674.3L676.2,677.0L681.2,679.8L686.2,683.2L690.3,686.3L694.9,690.3L699.0,694.3L702.5,698.3L706.2,703.0L709.2,707.4L712.3,712.3L715.2,717.3L718.2,722.7L721.2,728.3L723.8,733.3L726.4,738.3L729.2,743.9L731.7,749.3L734.2,755.1L736.2,760.4L738.2,766.7L739.9,773.3L741.1,780.3L741.8,787.3L741.9,795.3L741.4,803.3L740.4,810.3L739.1,816.3L737.2,823.0L735.2,828.5L732.6,834.3L729.8,839.3L726.4,844.3L723.2,848.4L719.2,852.7L715.2,856.4L710.2,860.2L705.5,863.3L700.2,866.2L695.2,868.5L689.2,870.8L683.2,872.7L676.2,874.3L670.2,875.4L663.2,876.3L655.2,877.1L648.2,877.8L641.2,878.8L634.4,880.3L628.4,882.3L623.2,884.3L617.2,886.6L611.2,888.6L604.2,890.3L597.8,891.3L590.2,891.7L583.2,891.3L576.2,890.1L569.5,888.3L564.1,886.3L558.2,883.5L553.2,880.7L548.2,877.4L543.8,874.3L539.2,870.8L534.8,867.3L530.2,863.5L526.2,860.2L521.6,856.3L517.2,852.4L513.2,848.8L509.2,844.9L505.2,840.8L501.2,836.3L498.0,832.3L494.4,827.3L491.2,822.4L488.3,817.3L485.8,812.3L483.2,806.3L481.2,800.5L479.5,794.3L478.2,787.4L477.4,780.3L477.2,772.3L477.8,764.3L478.9,757.3L480.3,751.3L482.2,745.3L484.6,739.3L487.2,733.8L490.2,728.5L493.2,723.9L496.6,719.3L500.2,715.0L504.2,710.8L508.2,707.1L512.8,703.3L517.2,700.0L522.2,696.8L527.2,693.8L532.2,691.2L538.2,688.5L543.5,686.3L549.2,684.2L555.2,682.1L561.2,680.1L567.2,678.1L573.2,676.2L579.3,674.3L586.1,672.3L592.2,670.6L598.2,669.2L605.2,667.8L612.2,666.7Z" fill="#dfe8f3"/>
<path d="M628.3,674.3L635.2,674.1L641.2,674.4L648.2,675.3L653.2,676.3L659.2,677.9L664.2,679.6L669.2,681.7L674.2,684.2L678.2,686.6L682.2,689.3L686.2,692.4L690.2,696.0L693.4,699.3L696.9,703.3L699.9,707.3L702.7,711.3L705.2,715.3L708.2,720.3L710.4,724.3L713.2,729.3L715.4,733.3L718.2,738.3L720.4,742.3L723.1,747.3L725.2,751.6L727.4,756.3L729.4,761.3L731.2,766.5L732.9,772.3L734.1,778.3L734.9,784.3L735.3,790.3L735.3,797.3L734.8,803.3L733.9,809.3L732.5,815.3L731.0,820.3L729.2,825.4L727.0,830.3L724.3,835.3L721.7,839.3L718.6,843.3L715.2,847.0L711.7,850.3L708.0,853.3L703.6,856.3L699.2,858.8L694.2,861.1L689.2,863.0L684.2,864.5L678.2,865.9L672.2,866.7L665.2,867.2L658.2,867.2L651.2,866.7L645.2,866.0L639.2,865.0L633.2,864.0L627.2,863.1L620.2,862.6L614.2,863.3L608.2,865.1L603.2,867.0L598.2,868.6L592.2,869.6L585.2,869.3L580.2,868.1L575.2,865.7L571.2,862.9L567.5,859.3L564.4,855.3L561.8,851.3L559.2,846.9L556.4,842.3L553.5,838.3L550.2,834.4L547.1,831.3L543.2,827.8L539.2,824.3L535.8,821.3L532.2,818.0L528.6,814.3L525.3,810.3L522.4,806.3L520.0,802.3L517.6,797.3L515.9,792.3L514.6,786.3L514.2,780.3L514.6,774.3L515.9,768.3L517.6,763.3L519.8,758.3L522.2,754.2L525.2,749.7L528.2,745.9L531.3,742.3L535.1,738.3L538.2,735.1L541.9,731.3L545.2,727.7L548.2,724.3L551.6,720.3L554.9,716.3L558.2,712.4L561.2,709.0L564.6,705.3L568.2,701.7L571.8,698.3L575.3,695.3L579.2,692.3L583.5,689.3L588.2,686.4L592.2,684.3L597.2,681.9L602.2,679.8L607.2,678.2L613.2,676.5L619.2,675.3L625.2,674.5Z" fill="#d0dfee"/>
<path d="M628.6,680.3L634.2,680.0L640.2,680.1L645.2,680.6L650.2,681.4L655.2,682.5L660.2,684.0L664.2,685.6L668.2,687.4L672.2,689.5L676.2,691.9L679.6,694.3L683.2,697.2L686.2,700.0L689.2,703.1L692.0,706.3L694.3,709.3L697.1,713.3L699.2,716.5L701.6,720.3L703.9,724.3L706.2,728.3L708.2,731.7L710.3,735.3L712.6,739.3L715.0,743.3L717.2,747.3L719.2,751.0L721.2,754.9L723.2,759.3L724.9,763.3L726.3,767.3L727.8,772.3L728.9,777.3L729.8,782.3L730.3,787.3L730.5,793.3L730.2,799.1L729.6,804.3L728.8,809.3L727.6,814.3L726.2,818.9L724.6,823.3L722.8,827.3L720.7,831.3L718.2,835.3L716.1,838.3L713.2,841.8L710.2,844.8L707.2,847.5L703.5,850.3L700.2,852.5L696.2,854.7L692.2,856.5L687.4,858.3L683.2,859.5L678.2,860.6L673.2,861.3L667.2,861.7L661.2,861.7L656.2,861.2L650.2,860.3L645.7,859.3L641.2,858.1L636.2,856.3L632.2,854.7L628.2,852.8L624.2,850.7L620.4,848.3L617.2,845.9L614.1,843.3L611.2,840.3L608.2,836.4L606.2,833.3L603.8,829.3L601.5,825.3L599.2,822.1L596.2,819.1L592.2,816.8L587.7,815.3L582.9,814.3L577.9,813.3L573.2,812.2L568.2,810.6L564.2,809.1L560.2,807.2L556.2,804.8L552.9,802.3L549.7,799.3L547.1,796.3L544.7,792.3L543.2,788.3L542.4,782.3L543.2,776.3L544.7,772.3L546.8,768.3L549.2,764.8L551.9,761.3L554.3,758.3L557.2,754.3L559.2,750.9L561.2,746.7L562.8,742.3L564.2,737.7L565.5,733.3L567.1,728.3L568.5,724.3L570.2,720.3L572.2,716.2L574.5,712.3L577.2,708.3L579.5,705.3L582.2,702.3L585.2,699.3L588.6,696.3L592.2,693.6L595.6,691.3L599.2,689.2L603.2,687.2L607.5,685.3L612.2,683.6L616.8,682.3L621.4,681.3L627.2,680.4Z" fill="#bed5e9"/>
<path d="M627.1,687.3L631.2,686.8L636.2,686.6L641.2,686.7L646.2,687.3L650.2,688.0L654.2,688.9L658.2,690.2L661.2,691.3L665.2,693.1L668.2,694.6L671.2,696.4L674.2,698.5L677.2,700.8L680.1,703.3L682.2,705.4L684.9,708.3L687.2,711.0L689.2,713.6L691.2,716.5L693.2,719.5L695.2,722.7L697.2,726.0L699.2,729.3L701.0,732.3L702.9,735.3L704.7,738.3L706.6,741.3L708.4,744.3L710.3,747.3L712.2,750.5L714.2,754.1L715.9,757.3L717.3,760.3L719.1,764.3L720.2,767.3L721.6,771.3L722.7,775.3L723.5,779.3L724.2,783.7L724.6,788.3L724.7,793.3L724.5,798.3L724.1,802.3L723.3,807.3L722.4,811.3L721.2,815.3L720.2,818.3L718.6,822.3L717.2,825.3L715.2,829.0L713.2,832.2L711.2,835.0L709.2,837.4L706.5,840.3L704.2,842.4L701.2,844.8L698.2,846.9L695.2,848.7L692.1,850.3L688.2,852.0L684.3,853.3L680.5,854.3L676.2,855.1L672.2,855.6L667.2,855.9L662.2,855.7L658.2,855.3L653.2,854.4L649.2,853.4L645.8,852.3L642.2,850.9L638.9,849.3L635.4,847.3L632.5,845.3L630.0,843.3L627.2,840.7L625.1,838.3L622.9,835.3L621.1,832.3L619.2,828.3L618.1,825.3L616.8,821.3L615.8,817.3L614.9,813.3L613.9,809.3L612.7,805.3L611.2,801.4L609.6,798.3L607.7,795.3L605.2,792.3L603.1,790.3L600.2,788.0L597.2,785.8L594.2,783.8L591.2,781.5L588.7,779.3L586.2,776.4L584.3,773.3L583.0,770.3L581.7,766.3L580.7,762.3L579.9,758.3L579.2,753.7L578.7,749.3L578.4,744.3L578.3,739.3L578.7,734.3L579.3,730.3L580.2,726.2L581.4,722.3L583.1,718.3L584.6,715.3L586.4,712.3L588.5,709.3L590.9,706.3L593.2,703.9L596.0,701.3L598.4,699.3L601.2,697.3L604.3,695.3L608.0,693.3L611.2,691.8L615.0,690.3L618.2,689.3L622.2,688.2L627.1,687.3Z" fill="#b0cce5"/>
<path d="M631.1,692.3L634.2,692.0L638.2,692.0L642.2,692.2L645.2,692.5L649.2,693.2L652.2,693.9L655.2,694.8L658.2,695.8L661.2,697.1L663.7,698.3L666.2,699.7L668.8,701.3L671.2,703.0L673.2,704.5L675.3,706.3L677.4,708.3L679.3,710.3L681.2,712.4L683.2,714.9L685.0,717.3L686.5,719.3L688.2,721.9L689.7,724.3L691.2,726.6L692.9,729.3L694.2,731.5L696.0,734.3L697.3,736.3L699.2,739.3L700.5,741.3L702.2,743.9L703.8,746.3L705.2,748.4L707.0,751.3L708.2,753.3L710.0,756.3L711.2,758.5L712.6,761.3L714.0,764.3L715.2,767.1L716.2,769.8L717.2,772.9L718.1,776.3L718.8,779.3L719.3,782.3L719.8,786.3L720.0,790.3L720.0,794.3L719.8,798.3L719.3,802.3L718.8,805.3L718.2,808.3L717.2,812.1L716.2,815.2L715.2,818.0L714.2,820.4L712.8,823.3L711.2,826.3L710.0,828.3L708.2,830.9L706.3,833.3L704.6,835.3L702.7,837.3L700.5,839.3L698.2,841.1L696.2,842.6L693.4,844.3L691.2,845.5L688.2,846.9L685.2,848.1L682.2,849.1L679.2,849.9L676.2,850.4L672.2,851.0L668.2,851.2L664.2,851.1L660.2,850.7L657.2,850.2L653.3,849.3L650.2,848.3L647.5,847.3L645.2,846.3L642.2,844.7L640.0,843.3L637.2,841.3L635.2,839.5L633.2,837.5L631.3,835.3L629.9,833.3L628.2,830.5L627.1,828.3L625.9,825.3L625.0,822.3L624.2,819.3L623.4,815.3L622.8,812.3L622.2,808.7L621.6,805.3L621.0,802.3L620.2,799.2L619.2,795.9L618.2,793.1L617.0,790.3L615.4,787.3L614.2,785.3L612.2,782.5L610.4,780.3L608.6,778.3L606.7,776.3L604.7,774.3L602.7,772.3L600.8,770.3L599.0,768.3L597.2,766.1L595.2,763.4L593.9,761.3L592.2,758.3L591.2,756.3L590.0,753.3L588.9,750.3L588.1,747.3L587.4,743.3L587.0,740.3L586.9,736.3L587.1,732.3L587.6,729.3L588.2,726.3L589.2,723.1L590.3,720.3L591.7,717.3L593.2,714.7L594.8,712.3L596.4,710.3L598.2,708.2L600.2,706.2L602.3,704.3L604.8,702.3L607.2,700.7L609.4,699.3L612.2,697.8L615.2,696.4L618.0,695.3L621.1,694.3L624.2,693.5L627.2,692.8L631.1,692.3Z" fill="#a2c4e1"/>
<path d="M632.3,698.3L636.2,698.0L640.2,698.0L643.4,698.3L647.2,698.9L650.2,699.6L653.2,700.4L656.2,701.5L659.2,702.8L662.0,704.3L664.2,705.6L666.7,707.3L669.2,709.2L671.2,710.9L673.2,712.9L675.2,715.0L677.2,717.3L678.8,719.3L680.3,721.3L682.2,724.1L683.7,726.3L685.2,728.7L686.9,731.3L688.2,733.3L690.1,736.3L691.5,738.3L693.2,740.8L694.9,743.3L696.4,745.3L698.2,747.9L699.9,750.3L701.3,752.3L703.2,755.3L704.5,757.3L706.2,760.2L707.3,762.3L708.8,765.3L710.1,768.3L711.2,771.0L712.2,774.0L713.1,777.3L713.8,780.3L714.3,783.3L714.8,787.3L714.9,791.3L714.8,795.3L714.5,799.3L714.1,802.3L713.3,806.3L712.5,809.3L711.6,812.3L710.5,815.3L709.3,818.3L708.2,820.5L706.7,823.3L705.2,825.7L703.4,828.3L701.8,830.3L700.0,832.3L698.0,834.3L695.7,836.3L693.2,838.2L691.2,839.5L688.2,841.1L685.7,842.3L683.2,843.3L680.0,844.3L676.2,845.2L673.2,845.6L669.2,845.9L665.2,845.8L661.2,845.4L658.2,844.9L655.2,844.1L652.2,843.0L649.2,841.7L646.6,840.3L644.2,838.7L642.2,837.1L640.2,835.3L638.2,833.1L636.2,830.4L635.0,828.3L633.5,825.3L632.4,822.3L631.5,819.3L630.8,816.3L630.2,813.2L629.6,809.3L629.1,806.3L628.4,802.3L627.8,799.3L627.2,796.3L626.2,792.3L625.3,789.3L624.2,786.3L623.2,783.9L621.9,781.3L620.2,778.3L618.8,776.3L617.2,774.2L615.2,771.8L613.2,769.6L611.2,767.4L609.2,765.3L607.4,763.3L605.6,761.3L604.0,759.3L602.2,756.7L600.7,754.3L599.2,751.6L598.1,749.3L597.0,746.3L596.2,743.3L595.5,739.3L595.2,735.3L595.5,731.3L596.2,727.3L597.1,724.3L598.2,721.4L599.2,719.3L601.0,716.3L602.5,714.3L604.2,712.2L606.2,710.1L608.2,708.3L610.8,706.3L613.2,704.7L615.8,703.3L618.2,702.1L621.2,700.9L624.2,699.9L627.2,699.1L631.2,698.4Z" fill="#94bbdc"/>
<path d="M633.1,702.3L636.2,702.1L640.2,702.1L643.2,702.3L647.2,703.0L650.2,703.7L653.2,704.7L656.2,705.9L659.1,707.3L661.2,708.5L663.9,710.3L666.2,712.1L668.2,713.8L670.2,715.7L672.2,717.8L674.2,720.2L675.8,722.3L677.3,724.3L679.2,727.0L680.7,729.3L682.2,731.6L684.0,734.3L685.3,736.3L687.2,739.0L688.8,741.3L690.3,743.3L692.2,745.9L694.0,748.3L695.5,750.3L697.2,752.6L699.1,755.3L700.4,757.3L702.2,760.1L703.5,762.3L705.1,765.3L706.2,767.6L707.4,770.3L708.5,773.3L709.4,776.3L710.2,779.3L711.0,783.3L711.3,786.3L711.6,790.3L711.5,794.3L711.2,798.3L710.8,801.3L710.2,804.4L709.2,808.3L708.3,811.3L707.2,814.2L706.2,816.6L704.9,819.3L703.2,822.3L701.9,824.3L700.2,826.6L698.2,829.0L696.2,831.1L694.2,832.9L692.2,834.5L689.6,836.3L687.2,837.7L684.2,839.2L681.2,840.3L678.2,841.2L675.2,841.8L671.5,842.3L668.2,842.4L665.1,842.3L661.2,841.8L658.2,841.1L655.2,840.2L652.2,838.9L649.3,837.3L647.2,835.9L645.2,834.3L643.1,832.3L641.2,830.0L639.4,827.3L638.2,825.1L637.0,822.3L636.0,819.3L635.2,816.3L634.4,812.3L633.8,809.3L633.2,805.5L632.7,802.3L632.1,799.3L631.3,795.3L630.7,792.3L629.9,789.3L629.0,786.3L628.0,783.3L626.8,780.3L625.3,777.3L624.2,775.3L622.2,772.3L620.7,770.3L619.0,768.3L617.2,766.2L615.2,764.1L613.2,761.9L611.2,759.7L609.2,757.3L607.7,755.3L606.2,753.1L604.5,750.3L603.2,747.5L602.2,745.0L601.2,741.5L600.7,738.3L600.4,734.3L600.8,730.3L601.4,727.3L602.4,724.3L603.7,721.3L605.2,718.7L606.9,716.3L608.6,714.3L610.6,712.3L612.9,710.3L615.2,708.7L617.4,707.3L620.2,705.9L623.2,704.6L626.2,703.7L629.2,702.9L633.1,702.3Z" fill="#87b1d6"/>
<path d="M635.0,706.3L637.2,706.2L640.2,706.2L642.2,706.3L645.2,706.8L647.7,707.3L650.2,708.0L652.2,708.7L654.2,709.5L656.2,710.5L658.2,711.6L660.2,712.8L662.2,714.3L663.5,715.3L665.2,716.7L666.8,718.3L668.2,719.7L669.6,721.3L671.2,723.2L672.2,724.5L673.5,726.3L674.9,728.3L676.2,730.1L677.2,731.6L678.3,733.3L679.7,735.3L681.0,737.3L682.2,739.0L683.2,740.4L684.6,742.3L686.2,744.3L687.2,745.6L688.5,747.3L690.1,749.3L691.2,750.7L692.5,752.3L694.0,754.3L695.2,755.9L696.2,757.3L697.6,759.3L699.0,761.3L700.2,763.3L701.2,765.1L702.2,766.9L703.2,769.0L704.2,771.3L705.0,773.3L705.7,775.3L706.3,777.3L707.1,780.3L707.5,782.3L707.9,785.3L708.2,788.3L708.3,790.3L708.2,793.3L708.1,795.3L707.8,798.3L707.4,801.3L707.0,803.3L706.2,806.3L705.7,808.3L705.0,810.3L704.2,812.4L703.2,814.8L702.2,816.8L701.2,818.7L700.2,820.4L699.0,822.3L697.5,824.3L696.2,825.9L694.9,827.3L693.2,829.0L691.8,830.3L690.2,831.6L688.2,833.0L686.2,834.2L684.2,835.2L682.2,836.1L680.2,836.9L678.2,837.5L675.2,838.2L673.2,838.5L670.2,838.8L667.2,838.8L664.2,838.6L662.2,838.2L659.2,837.5L657.2,836.8L655.2,836.0L653.2,835.0L651.2,833.8L649.2,832.3L648.0,831.3L646.2,829.5L645.2,828.3L643.8,826.3L642.6,824.3L641.6,822.3L640.8,820.3L640.1,818.3L639.2,815.3L638.7,813.3L638.2,810.8L637.7,808.3L637.2,805.4L636.8,803.3L636.3,800.3L636.0,798.3L635.4,795.3L635.0,793.3L634.3,790.3L633.9,788.3L633.2,785.6L632.5,783.3L631.9,781.3L631.2,779.2L630.2,776.7L629.2,774.6L628.2,772.7L627.2,771.0L626.0,769.3L624.6,767.3L623.2,765.6L622.1,764.3L620.3,762.3L619.2,761.1L617.5,759.3L616.2,757.8L614.9,756.3L613.3,754.3L612.2,752.9L611.1,751.3L609.9,749.3L608.8,747.3L607.9,745.3L607.1,743.3L606.3,740.3L605.9,738.3L605.6,735.3L605.7,732.3L606.2,729.3L606.7,727.3L607.4,725.3L608.2,723.3L609.3,721.3L610.6,719.3L612.2,717.3L613.2,716.3L615.2,714.4L616.5,713.3L618.2,712.1L620.2,710.8L622.2,709.8L624.2,708.9L626.2,708.1L629.0,707.3L631.2,706.8L634.2,706.4Z" fill="#7ba6d0"/>
<path d="M636.4,711.3L639.2,711.2L641.2,711.3L644.2,711.7L646.9,712.3L649.2,713.0L651.2,713.7L653.2,714.6L655.2,715.7L657.2,716.9L659.1,718.3L660.4,719.3L662.2,720.9L663.6,722.3L665.2,724.0L666.3,725.3L667.9,727.3L669.2,729.1L670.2,730.5L671.5,732.3L672.8,734.3L674.2,736.3L675.2,737.7L676.3,739.3L677.8,741.3L679.2,743.1L680.2,744.3L681.8,746.3L683.2,747.9L684.4,749.3L686.1,751.3L687.2,752.5L688.7,754.3L690.2,756.1L691.2,757.3L692.7,759.3L694.2,761.3L695.2,762.7L696.2,764.3L697.5,766.3L698.6,768.3L699.6,770.3L700.5,772.3L701.3,774.3L702.2,776.8L702.9,779.3L703.4,781.3L703.9,784.3L704.2,786.4L704.4,789.3L704.4,792.3L704.3,795.3L704.1,797.3L703.6,800.3L703.2,802.3L702.4,805.3L701.8,807.3L701.1,809.3L700.2,811.5L699.2,813.7L698.2,815.7L697.2,817.4L696.0,819.3L694.5,821.3L693.2,822.9L692.0,824.3L690.2,826.0L688.7,827.3L687.2,828.5L685.2,829.8L683.2,831.0L681.2,831.9L679.2,832.7L677.2,833.4L674.2,834.0L672.2,834.3L669.2,834.5L666.2,834.3L664.2,834.1L661.2,833.4L659.2,832.7L657.2,831.8L655.2,830.7L653.2,829.3L652.0,828.3L650.2,826.5L649.2,825.3L647.7,823.3L646.6,821.3L645.6,819.3L644.8,817.3L644.1,815.3L643.3,812.3L642.8,810.3L642.2,807.8L641.7,805.3L641.2,802.7L640.8,800.3L640.2,797.3L639.8,795.3L639.3,792.3L638.9,790.3L638.3,787.3L637.8,785.3L637.2,782.5L636.7,780.3L636.1,778.3L635.2,775.4L634.4,773.3L633.5,771.3L632.5,769.3L631.4,767.3L630.2,765.5L629.2,764.1L627.8,762.3L626.2,760.4L625.2,759.3L623.4,757.3L622.2,756.0L620.7,754.3L619.2,752.5L618.2,751.2L616.8,749.3L615.6,747.3L614.5,745.3L613.6,743.3L612.9,741.3L612.2,738.6L611.9,736.3L611.9,733.3L612.2,730.5L612.8,728.3L613.5,726.3L614.5,724.3L615.7,722.3L617.2,720.4L618.2,719.3L620.2,717.5L621.8,716.3L623.3,715.3L625.2,714.3L627.4,713.3L630.2,712.4L632.2,711.9L635.2,711.4Z" fill="#709bc9"/>
<path d="M633.4,717.3L636.2,716.8L639.2,716.7L642.2,716.9L644.7,717.3L647.2,718.0L649.2,718.7L651.2,719.6L653.2,720.8L655.2,722.1L656.7,723.3L658.2,724.6L659.9,726.3L661.2,727.7L662.6,729.3L664.1,731.3L665.2,732.8L666.3,734.3L667.7,736.3L669.1,738.3L670.2,739.8L671.3,741.3L672.9,743.3L674.2,744.9L675.4,746.3L677.2,748.3L678.2,749.3L680.1,751.3L681.2,752.4L683.0,754.3L684.2,755.5L685.8,757.3L687.2,758.8L688.5,760.3L690.1,762.3L691.2,763.7L692.3,765.3L693.7,767.3L694.9,769.3L695.9,771.3L696.9,773.3L697.7,775.3L698.5,777.3L699.2,779.7L699.8,782.3L700.2,784.3L700.6,787.3L700.7,790.3L700.7,793.3L700.4,796.3L700.1,798.3L699.5,801.3L699.0,803.3L698.2,805.9L697.3,808.3L696.4,810.3L695.4,812.3L694.3,814.3L693.2,816.1L692.2,817.5L690.8,819.3L689.2,821.1L688.0,822.3L686.2,823.9L684.3,825.3L682.7,826.3L680.8,827.3L678.5,828.3L676.2,829.1L674.2,829.5L671.2,829.9L668.2,829.9L665.2,829.5L663.2,829.1L661.1,828.3L659.0,827.3L657.2,826.2L655.2,824.6L653.9,823.3L652.3,821.3L651.2,819.6L650.2,817.9L649.2,815.7L648.3,813.3L647.6,811.3L647.0,809.3L646.3,806.3L645.8,804.3L645.2,801.5L644.8,799.3L644.2,796.4L643.8,794.3L643.2,791.3L642.9,789.3L642.4,786.3L642.0,784.3L641.5,781.3L641.1,779.3L640.5,776.3L640.0,774.3L639.2,771.5L638.4,769.3L637.6,767.3L636.7,765.3L635.5,763.3L634.2,761.3L633.2,759.9L631.9,758.3L630.2,756.3L629.2,755.2L627.5,753.3L626.2,751.8L625.0,750.3L623.4,748.3L622.2,746.5L621.2,744.9L620.2,742.9L619.2,740.3L618.7,738.3L618.3,735.3L618.5,732.3L619.2,729.4L620.1,727.3L621.2,725.4L622.2,724.0L623.8,722.3L625.2,721.2L627.2,719.8L629.2,718.8L631.2,717.9L633.4,717.3Z" fill="#668fc2"/>
<path d="M635.2,726.3L636.2,726.0L638.2,725.5L640.2,725.4L642.2,725.6L644.2,726.0L645.3,726.3L647.2,727.1L648.2,727.6L649.4,728.3L650.8,729.3L652.0,730.3L653.1,731.3L654.1,732.3L655.0,733.3L655.8,734.3L656.6,735.3L657.4,736.3L658.2,737.4L659.2,738.8L660.2,740.2L661.0,741.3L661.7,742.3L662.5,743.3L663.3,744.3L664.2,745.3L665.2,746.4L666.2,747.4L667.2,748.4L668.2,749.3L669.3,750.3L670.5,751.3L671.7,752.3L672.9,753.3L674.1,754.3L675.2,755.2L676.2,756.0L677.2,756.8L678.2,757.6L679.2,758.5L680.2,759.4L681.2,760.3L682.3,761.3L683.3,762.3L684.3,763.3L685.2,764.3L686.2,765.4L687.2,766.7L688.2,768.0L689.2,769.3L689.8,770.3L690.5,771.3L691.2,772.6L692.1,774.3L692.6,775.3L693.2,776.7L693.8,778.3L694.2,779.4L694.8,781.3L695.2,783.2L695.4,784.3L695.7,786.3L695.9,788.3L696.0,790.3L695.9,792.3L695.8,794.3L695.5,796.3L695.2,798.2L695.0,799.3L694.4,801.3L694.1,802.3L693.5,804.3L693.1,805.3L692.2,807.3L691.7,808.3L691.2,809.3L690.2,811.0L689.3,812.3L688.6,813.3L687.8,814.3L687.0,815.3L686.1,816.3L685.1,817.3L684.0,818.3L682.7,819.3L681.3,820.3L680.2,821.0L679.2,821.5L677.4,822.3L676.2,822.7L674.2,823.3L673.2,823.4L671.2,823.6L669.2,823.6L667.2,823.4L666.2,823.1L664.2,822.5L663.2,822.0L661.9,821.3L660.4,820.3L659.2,819.3L658.2,818.3L657.4,817.3L656.6,816.3L655.9,815.3L655.2,814.1L654.3,812.3L653.8,811.3L653.2,809.8L652.6,808.3L652.2,807.1L651.6,805.3L651.2,803.8L650.8,802.3L650.3,800.3L650.0,799.3L649.6,797.3L649.2,795.4L649.0,794.3L648.6,792.3L648.3,790.3L648.1,789.3L647.8,787.3L647.5,785.3L647.3,783.3L647.1,782.3L646.9,780.3L646.7,778.3L646.5,776.3L646.3,774.3L646.2,773.3L646.0,771.3L645.7,769.3L645.4,767.3L645.2,766.3L644.7,764.3L644.2,762.6L643.8,761.3L643.2,759.9L642.4,758.3L641.8,757.3L641.2,756.3L640.2,754.8L639.2,753.5L638.2,752.3L637.3,751.3L636.5,750.3L635.6,749.3L634.7,748.3L633.9,747.3L633.0,746.3L632.2,745.2L631.2,743.7L630.4,742.3L629.9,741.3L629.2,739.7L628.8,738.3L628.5,736.3L628.6,734.3L629.1,732.3L629.5,731.3L630.2,730.2L631.2,728.9L632.2,728.0L633.2,727.3L635.2,726.3Z" fill="#5d83ba"/>
<path d="M655.9,753.3L656.2,753.2L657.2,753.2L657.7,753.3L658.2,753.4L659.2,753.6L660.2,753.8L661.2,754.1L661.7,754.3L662.2,754.5L663.2,754.8L664.2,755.2L664.4,755.3L665.2,755.6L666.2,756.1L666.7,756.3L667.2,756.5L668.2,757.0L668.8,757.3L669.2,757.5L670.2,758.0L670.7,758.3L671.2,758.6L672.2,759.2L672.4,759.3L673.2,759.7L674.1,760.3L674.2,760.4L675.2,761.0L675.6,761.3L676.2,761.7L677.0,762.3L677.2,762.4L678.2,763.2L678.3,763.3L679.2,764.0L679.5,764.3L680.2,764.9L680.7,765.3L681.2,765.8L681.8,766.3L682.2,766.7L682.8,767.3L683.2,767.8L683.7,768.3L684.2,768.9L684.5,769.3L685.2,770.1L685.4,770.3L686.1,771.3L686.2,771.4L686.8,772.3L687.2,772.9L687.5,773.3L688.1,774.3L688.2,774.5L688.6,775.3L689.1,776.3L689.2,776.4L689.6,777.3L690.0,778.3L690.2,778.7L690.4,779.3L690.8,780.3L691.1,781.3L691.2,781.6L691.4,782.3L691.6,783.3L691.8,784.3L692.0,785.3L692.2,786.3L692.2,786.6L692.3,787.3L692.4,788.3L692.4,789.3L692.4,790.3L692.4,791.3L692.4,792.3L692.3,793.3L692.2,794.2L692.2,794.3L692.0,795.3L691.9,796.3L691.7,797.3L691.4,798.3L691.2,799.2L691.2,799.3L690.9,800.3L690.6,801.3L690.2,802.3L690.2,802.3L689.8,803.3L689.3,804.3L689.2,804.6L688.9,805.3L688.3,806.3L688.2,806.5L687.8,807.3L687.2,808.2L687.1,808.3L686.5,809.3L686.2,809.7L685.7,810.3L685.2,811.0L684.9,811.3L684.2,812.1L684.0,812.3L683.2,813.1L683.0,813.3L682.2,814.0L681.9,814.3L681.2,814.8L680.6,815.3L680.2,815.6L679.2,816.2L679.0,816.3L678.2,816.7L677.2,817.2L677.0,817.3L676.2,817.6L675.2,817.9L674.2,818.2L673.5,818.3L673.2,818.4L672.2,818.5L671.2,818.5L670.2,818.5L669.2,818.4L668.8,818.3L668.2,818.2L667.2,817.9L666.2,817.5L665.6,817.3L665.2,817.1L664.2,816.5L663.8,816.3L663.2,815.8L662.5,815.3L662.2,815.0L661.4,814.3L661.2,814.1L660.5,813.3L660.2,812.9L659.7,812.3L659.2,811.6L659.0,811.3L658.4,810.3L658.2,810.0L657.8,809.3L657.3,808.3L657.2,808.1L656.8,807.3L656.4,806.3L656.2,805.8L656.0,805.3L655.6,804.3L655.2,803.3L655.2,803.2L654.9,802.3L654.6,801.3L654.3,800.3L654.2,800.0L654.0,799.3L653.7,798.3L653.5,797.3L653.2,796.3L653.2,796.2L653.0,795.3L652.8,794.3L652.6,793.3L652.4,792.3L652.2,791.3L652.2,791.3L652.0,790.3L651.9,789.3L651.7,788.3L651.6,787.3L651.5,786.3L651.4,785.3L651.3,784.3L651.2,783.3L651.2,783.3L651.1,782.3L651.1,781.3L651.0,780.3L651.0,779.3L651.0,778.3L650.9,777.3L650.9,776.3L650.9,775.3L651.0,774.3L651.0,773.3L651.0,772.3L651.1,771.3L651.1,770.3L651.2,769.3L651.2,768.7L651.2,768.3L651.3,767.3L651.4,766.3L651.5,765.3L651.6,764.3L651.7,763.3L651.8,762.3L651.9,761.3L652.1,760.3L652.2,759.3L652.2,759.3L652.4,758.3L652.6,757.3L652.9,756.3L653.2,755.5L653.3,755.3L654.0,754.3L654.2,754.1L655.2,753.5L655.9,753.3Z" fill="#5578b1"/>
<path d="M661.8,764.3L662.2,764.1L663.2,763.8L664.2,763.6L665.2,763.5L666.2,763.5L667.2,763.6L668.2,763.7L669.2,764.0L670.2,764.3L670.3,764.3L671.2,764.6L672.2,765.0L672.8,765.3L673.2,765.5L674.2,766.0L674.7,766.3L675.2,766.6L676.2,767.2L676.4,767.3L677.2,767.9L677.8,768.3L678.2,768.6L679.0,769.3L679.2,769.5L680.1,770.3L680.2,770.4L681.1,771.3L681.2,771.4L682.0,772.3L682.2,772.5L682.9,773.3L683.2,773.7L683.6,774.3L684.2,775.1L684.3,775.3L685.0,776.3L685.2,776.7L685.5,777.3L686.0,778.3L686.2,778.6L686.5,779.3L686.9,780.3L687.2,781.0L687.3,781.3L687.6,782.3L687.9,783.3L688.2,784.3L688.2,784.5L688.4,785.3L688.5,786.3L688.6,787.3L688.7,788.3L688.8,789.3L688.8,790.3L688.7,791.3L688.7,792.3L688.6,793.3L688.4,794.3L688.3,795.3L688.2,795.6L688.0,796.3L687.8,797.3L687.5,798.3L687.2,799.2L687.2,799.3L686.8,800.3L686.3,801.3L686.2,801.6L685.9,802.3L685.3,803.3L685.2,803.5L684.7,804.3L684.2,805.1L684.1,805.3L683.4,806.3L683.2,806.5L682.5,807.3L682.2,807.7L681.6,808.3L681.2,808.7L680.5,809.3L680.2,809.6L679.2,810.3L679.2,810.3L678.2,811.0L677.6,811.3L677.2,811.5L676.2,812.0L675.3,812.3L675.2,812.3L674.2,812.6L673.2,812.8L672.2,812.8L671.2,812.8L670.2,812.7L669.2,812.5L668.5,812.3L668.2,812.2L667.2,811.7L666.4,811.3L666.2,811.2L665.2,810.5L665.0,810.3L664.2,809.6L663.9,809.3L663.2,808.6L663.0,808.3L662.2,807.4L662.2,807.3L661.5,806.3L661.2,805.9L660.9,805.3L660.3,804.3L660.2,804.1L659.8,803.3L659.3,802.3L659.2,802.0L658.9,801.3L658.5,800.3L658.2,799.5L658.1,799.3L657.8,798.3L657.5,797.3L657.2,796.3L657.2,796.3L656.9,795.3L656.7,794.3L656.4,793.3L656.2,792.3L656.2,792.2L656.0,791.3L655.9,790.3L655.7,789.3L655.6,788.3L655.5,787.3L655.4,786.3L655.3,785.3L655.2,784.3L655.2,783.8L655.2,783.3L655.2,782.3L655.2,781.3L655.2,780.3L655.2,780.0L655.2,779.3L655.3,778.3L655.4,777.3L655.5,776.3L655.7,775.3L655.9,774.3L656.1,773.3L656.2,772.8L656.3,772.3L656.6,771.3L657.0,770.3L657.2,769.7L657.4,769.3L657.9,768.3L658.2,767.7L658.5,767.3L659.2,766.3L659.2,766.3L660.2,765.3L660.2,765.3L661.2,764.6L661.8,764.3Z" fill="#4e6da7"/>
</g>
<g style="mix-blend-mode:difference">
<line x1="450" x2="450" y1="602.3" y2="938.3" stroke="rgb(28,26,22)" stroke-width="1"/>
<line x1="534.2" x2="534.2" y1="602.3" y2="938.3" stroke="rgb(28,26,22)" stroke-width="1"/>
<line x1="702.6" x2="702.6" y1="602.3" y2="938.3" stroke="rgb(28,26,22)" stroke-width="1"/>
<line x1="408.2" x2="754.5" y1="620.3" y2="620.3" stroke="rgb(45,42,37)" stroke-width="1.2"/>
<line x1="408.2" x2="754.5" y1="671.8" y2="671.8" stroke="rgb(45,42,37)" stroke-width="1.2"/>
<line x1="408.2" x2="754.5" y1="723.4" y2="723.4" stroke="rgb(45,42,37)" stroke-width="1.2"/>
<line x1="408.2" x2="754.5" y1="826.4" y2="826.4" stroke="rgb(45,42,37)" stroke-width="1.2"/>
<line x1="408.2" x2="754.5" y1="878" y2="878" stroke="rgb(45,42,37)" stroke-width="1.2"/>
<line x1="408.2" x2="754.5" y1="929.5" y2="929.5" stroke="rgb(45,42,37)" stroke-width="1.2"/>
<line x1="618.4" x2="618.4" y1="602.3" y2="938.3" stroke="rgb(60,58,51)" stroke-width="1.8"/>
<line x1="408.2" x2="754.5" y1="774.9" y2="774.9" stroke="rgb(60,58,51)" stroke-width="1.8"/>
</g>
<clipPath id="c11"><rect x="812.4" y="602.3" width="346.3" height="336"/></clipPath>
<rect x="812.4" y="602.3" width="346.3" height="336" fill="#eff8ea"/>
<g clip-path="url(#c11)">
<path d="M1026.5,668.3L1033.4,668.2L1039.4,668.7L1045.4,669.7L1051.4,671.3L1056.4,673.0L1061.4,675.1L1065.7,677.3L1070.4,680.0L1074.4,682.8L1078.4,685.8L1082.4,689.3L1085.5,692.3L1089.3,696.3L1092.4,700.0L1095.4,703.8L1098.4,707.8L1101.4,712.2L1104.1,716.3L1106.6,720.3L1109.4,725.0L1111.8,729.3L1114.4,733.9L1116.7,738.3L1119.2,743.3L1121.4,747.8L1123.5,752.3L1125.6,757.3L1127.7,762.3L1129.6,767.3L1131.4,772.4L1133.2,778.3L1134.6,783.3L1135.9,789.3L1136.7,795.3L1137.1,802.3L1136.8,809.3L1135.8,815.3L1134.4,820.3L1132.4,825.7L1130.2,830.3L1127.4,835.3L1124.8,839.3L1122.0,843.3L1118.8,847.3L1115.4,851.1L1112.0,854.3L1108.4,857.3L1104.1,860.3L1099.4,862.9L1094.4,865.1L1089.4,866.6L1083.4,867.8L1077.4,868.4L1070.4,868.4L1064.4,867.9L1058.4,867.0L1052.4,865.8L1046.4,864.4L1041.4,863.1L1035.4,861.7L1029.4,860.4L1023.4,859.6L1017.4,859.3L1011.4,859.4L1004.4,859.9L998.4,860.4L991.4,860.9L984.4,861.1L977.4,860.9L970.4,860.4L964.4,859.7L958.4,858.7L952.4,857.4L947.4,856.2L941.4,854.5L936.4,852.9L931.4,851.1L926.4,849.1L921.4,847.0L916.4,844.6L911.9,842.3L907.4,839.8L903.3,837.3L898.8,834.3L894.6,831.3L890.9,828.3L887.4,825.3L883.4,821.4L880.4,818.1L877.4,814.3L874.4,810.0L871.7,805.3L869.5,800.3L867.9,795.3L866.8,789.3L866.5,782.3L867.4,775.3L868.7,770.3L870.6,765.3L873.1,760.3L875.5,756.3L878.4,752.3L881.7,748.3L885.4,744.3L888.5,741.3L892.4,737.9L896.4,734.7L900.4,731.8L904.4,729.1L908.8,726.3L913.4,723.6L917.6,721.3L922.4,718.9L927.4,716.5L932.4,714.3L937.4,712.3L942.4,710.3L947.4,708.3L952.0,706.3L956.4,704.1L961.3,701.3L965.4,698.5L969.4,695.5L973.4,692.4L977.3,689.3L981.3,686.3L985.4,683.4L989.4,680.8L993.6,678.3L998.4,675.8L1003.4,673.5L1008.4,671.7L1013.4,670.3L1019.4,669.1L1026.4,668.3Z" fill="#e2f0dc"/>
<path d="M1025.9,677.3L1032.4,676.8L1039.4,677.1L1045.4,678.0L1050.5,679.3L1056.3,681.3L1060.7,683.3L1065.4,685.8L1069.4,688.4L1073.4,691.4L1077.4,694.8L1081.0,698.3L1084.4,701.9L1087.4,705.5L1090.4,709.4L1093.4,713.5L1096.4,717.9L1099.2,722.3L1101.7,726.3L1104.4,730.7L1107.1,735.3L1109.4,739.4L1112.1,744.3L1114.4,748.7L1116.7,753.3L1119.1,758.3L1121.3,763.3L1123.3,768.3L1125.1,773.3L1126.8,778.3L1128.4,784.3L1129.4,789.3L1130.2,796.3L1130.3,803.3L1129.4,810.3L1128.2,815.3L1126.3,820.3L1123.9,825.3L1121.4,829.4L1118.4,833.7L1115.4,837.5L1111.9,841.3L1108.4,844.7L1104.4,847.9L1100.4,850.6L1095.4,853.2L1090.4,855.0L1085.3,856.3L1078.4,857.1L1071.4,856.9L1065.4,856.1L1059.4,854.7L1054.4,853.1L1049.4,851.2L1044.4,849.1L1039.4,846.8L1034.4,844.3L1030.2,842.3L1025.4,840.2L1020.4,838.2L1014.4,836.6L1008.4,835.8L1001.4,835.8L995.0,836.3L988.4,836.9L982.4,837.4L975.4,837.7L968.4,837.6L962.4,837.3L955.4,836.5L949.4,835.6L943.4,834.4L938.4,833.1L932.6,831.3L927.4,829.4L922.4,827.3L918.1,825.3L913.4,822.7L909.4,820.2L905.4,817.3L901.4,814.0L897.6,810.3L894.4,806.5L891.6,802.3L889.4,798.1L887.4,792.4L886.4,786.3L886.5,781.3L887.7,775.3L889.6,770.3L892.3,765.3L895.2,761.3L898.4,757.7L901.9,754.3L905.5,751.3L909.7,748.3L914.4,745.4L918.4,743.2L923.4,740.8L928.4,738.7L933.4,736.9L938.4,735.3L944.4,733.6L949.5,732.3L955.4,730.6L960.4,728.8L964.9,726.3L968.6,723.3L972.0,719.3L974.9,715.3L977.6,711.3L980.4,707.3L983.4,703.2L986.6,699.3L990.4,695.3L993.6,692.3L997.4,689.2L1001.6,686.3L1006.4,683.5L1011.1,681.3L1016.4,679.4L1021.4,678.1Z" fill="#d2e9cb"/>
<path d="M1029.7,683.3L1035.4,683.1L1040.4,683.4L1046.0,684.3L1050.4,685.5L1055.4,687.3L1059.4,689.1L1063.3,691.3L1066.4,693.3L1070.4,696.2L1073.4,698.8L1076.4,701.6L1079.4,704.8L1082.4,708.2L1084.9,711.3L1087.4,714.7L1090.0,718.3L1092.4,721.9L1094.7,725.3L1097.2,729.3L1099.4,732.7L1101.6,736.3L1104.0,740.3L1106.3,744.3L1108.4,748.0L1110.4,751.7L1112.4,755.5L1114.4,759.6L1116.4,763.9L1118.3,768.3L1119.8,772.3L1121.4,776.9L1122.7,781.3L1123.9,786.3L1124.7,791.3L1125.1,797.3L1124.9,803.3L1124.1,808.3L1122.6,813.3L1121.0,817.3L1119.0,821.3L1116.4,825.3L1114.2,828.3L1111.4,831.6L1108.4,834.8L1105.4,837.5L1101.8,840.3L1098.4,842.6L1094.4,844.7L1090.4,846.4L1085.4,847.8L1080.4,848.6L1074.4,848.8L1069.0,848.3L1063.8,847.3L1059.4,846.1L1054.5,844.3L1050.4,842.6L1046.4,840.6L1042.4,838.5L1038.6,836.3L1035.2,834.3L1031.4,832.0L1027.4,829.6L1023.4,827.4L1019.4,825.4L1015.4,823.7L1010.9,822.3L1005.4,821.4L1000.4,821.3L995.4,821.6L989.4,822.2L984.4,822.8L979.4,823.3L973.4,823.7L967.4,823.8L961.4,823.5L956.4,823.0L951.4,822.3L946.4,821.3L941.4,820.0L936.4,818.4L932.4,816.9L928.4,815.1L924.4,813.0L920.4,810.4L917.4,808.2L914.0,805.3L911.2,802.3L908.4,798.5L906.4,794.7L904.9,790.3L904.2,785.3L904.6,780.3L906.0,775.3L908.0,771.3L910.4,767.9L913.4,764.5L916.4,761.7L919.5,759.3L923.4,756.7L927.4,754.5L931.4,752.6L935.4,751.0L940.4,749.3L944.4,748.2L949.4,746.9L954.4,745.8L959.4,744.8L964.4,743.4L968.4,741.8L972.4,739.3L975.2,736.3L977.4,733.0L979.4,729.0L981.4,724.5L983.3,720.3L985.2,716.3L987.3,712.3L989.4,708.9L991.9,705.3L994.4,702.2L997.4,698.9L1000.4,696.1L1003.9,693.3L1007.4,690.9L1011.4,688.7L1015.4,686.8L1019.7,685.3L1024.4,684.1L1029.7,683.3Z" fill="#bfe0b7"/>
<path d="M1026.6,691.3L1031.4,690.6L1036.4,690.4L1041.4,690.7L1045.4,691.5L1049.4,692.5L1053.4,694.0L1056.4,695.4L1060.0,697.3L1063.1,699.3L1065.8,701.3L1068.4,703.4L1071.4,706.1L1073.6,708.3L1076.3,711.3L1078.4,713.8L1080.4,716.3L1082.7,719.3L1084.9,722.3L1087.0,725.3L1089.1,728.3L1091.1,731.3L1093.1,734.3L1095.1,737.3L1097.0,740.3L1098.9,743.3L1100.8,746.3L1102.6,749.3L1104.4,752.4L1106.4,756.0L1108.1,759.3L1109.6,762.3L1111.4,766.1L1112.8,769.3L1114.4,773.3L1115.4,776.3L1116.6,780.3L1117.6,784.3L1118.4,789.0L1118.8,793.3L1118.8,798.3L1118.3,802.3L1117.4,806.7L1116.2,810.3L1114.4,814.3L1112.7,817.3L1110.6,820.3L1108.4,823.0L1106.3,825.3L1103.4,828.0L1100.6,830.3L1097.8,832.3L1094.5,834.3L1091.4,835.8L1087.6,837.3L1084.0,838.3L1079.4,839.1L1074.4,839.3L1069.4,838.9L1065.4,838.2L1061.4,837.1L1057.4,835.7L1054.0,834.3L1050.4,832.6L1047.4,831.0L1044.4,829.2L1041.3,827.3L1038.3,825.3L1035.4,823.2L1032.4,821.1L1029.4,818.8L1026.4,816.6L1023.4,814.4L1020.5,812.3L1017.7,810.3L1014.6,808.3L1011.4,806.4L1008.4,804.9L1004.4,803.3L1000.4,802.3L996.4,802.0L991.4,802.3L987.4,802.9L983.4,803.6L979.2,804.3L974.4,804.9L969.4,805.3L966.4,805.3L961.4,805.0L956.4,804.3L952.4,803.4L948.9,802.3L945.4,800.9L942.4,799.3L939.4,797.2L936.4,794.5L934.4,791.8L932.8,788.3L932.3,784.3L933.1,780.3L934.6,777.3L937.0,774.3L939.4,772.2L942.4,770.1L945.8,768.3L949.4,766.8L953.4,765.6L957.4,764.6L961.4,763.9L965.4,763.3L970.4,762.6L974.4,761.7L978.2,760.3L981.2,758.3L983.4,755.6L985.1,752.3L986.3,748.3L987.2,744.3L987.9,740.3L988.7,736.3L989.5,732.3L990.4,728.3L991.6,724.3L993.1,720.3L994.5,717.3L996.4,713.7L998.4,710.5L1000.4,707.8L1002.5,705.3L1005.4,702.4L1007.8,700.3L1010.5,698.3L1013.6,696.3L1017.4,694.3L1020.4,693.1L1024.4,691.8Z" fill="#a8d4a0"/>
<path d="M1028.5,697.3L1032.4,696.7L1036.4,696.5L1040.4,696.8L1043.8,697.3L1047.4,698.2L1050.4,699.2L1053.1,700.3L1055.4,701.4L1058.4,703.1L1060.4,704.5L1062.9,706.3L1065.4,708.3L1067.4,710.1L1069.4,712.1L1071.4,714.2L1073.3,716.3L1075.0,718.3L1076.6,720.3L1078.4,722.6L1080.4,725.2L1082.0,727.3L1083.4,729.3L1085.4,732.0L1087.0,734.3L1088.5,736.3L1090.4,739.1L1091.9,741.3L1093.4,743.4L1095.3,746.3L1096.6,748.3L1098.4,751.2L1099.7,753.3L1101.4,756.2L1102.6,758.3L1104.2,761.3L1105.4,763.6L1106.7,766.3L1108.0,769.3L1109.2,772.3L1110.3,775.3L1111.3,778.3L1112.1,781.3L1112.7,784.3L1113.4,788.3L1113.6,791.3L1113.6,795.3L1113.4,798.3L1112.7,802.3L1111.8,805.3L1110.6,808.3L1109.4,810.7L1107.9,813.3L1106.4,815.3L1104.4,817.8L1102.4,819.8L1100.4,821.7L1098.4,823.3L1095.5,825.3L1093.4,826.6L1090.4,828.1L1087.5,829.3L1084.4,830.3L1081.4,831.0L1078.4,831.4L1074.4,831.6L1070.4,831.4L1067.4,831.0L1064.2,830.3L1060.8,829.3L1058.0,828.3L1055.4,827.2L1052.4,825.8L1049.7,824.3L1047.4,823.0L1044.8,821.3L1042.4,819.7L1040.4,818.3L1037.8,816.3L1035.4,814.4L1033.4,812.8L1031.4,811.0L1029.4,809.3L1027.2,807.3L1025.0,805.3L1022.9,803.3L1020.9,801.3L1018.9,799.3L1016.9,797.3L1015.0,795.3L1013.1,793.3L1011.3,791.3L1009.4,789.1L1007.4,786.6L1005.7,784.3L1004.3,782.3L1002.6,779.3L1001.4,776.9L1000.3,774.3L999.4,771.3L998.4,767.6L997.7,764.3L997.2,761.3L996.7,757.3L996.4,754.3L996.1,750.3L995.9,746.3L995.9,742.3L996.1,738.3L996.4,735.1L997.0,731.3L997.7,728.3L998.5,725.3L999.6,722.3L1000.9,719.3L1002.4,716.5L1003.8,714.3L1005.4,712.0L1007.4,709.6L1009.4,707.5L1011.4,705.7L1013.4,704.1L1016.0,702.3L1018.4,700.9L1021.4,699.5L1024.4,698.4L1027.4,697.5Z" fill="#98ca94"/>
<path d="M1030.7,704.3L1033.4,703.9L1036.4,703.7L1039.4,703.8L1042.4,704.2L1044.4,704.6L1046.8,705.3L1049.4,706.2L1051.4,707.1L1053.4,708.1L1055.4,709.2L1057.1,710.3L1058.5,711.3L1060.4,712.7L1062.3,714.3L1063.4,715.3L1065.4,717.1L1066.6,718.3L1068.4,720.2L1069.4,721.3L1071.2,723.3L1072.4,724.7L1073.7,726.3L1075.3,728.3L1076.4,729.6L1077.8,731.3L1079.3,733.3L1080.4,734.7L1081.7,736.3L1083.2,738.3L1084.4,739.8L1085.5,741.3L1087.0,743.3L1088.4,745.2L1089.4,746.6L1090.6,748.3L1092.0,750.3L1093.3,752.3L1094.4,754.0L1095.4,755.6L1096.4,757.3L1097.6,759.3L1098.8,761.3L1099.8,763.3L1100.8,765.3L1101.8,767.3L1102.7,769.3L1103.6,771.3L1104.4,773.5L1105.4,776.3L1106.0,778.3L1106.5,780.3L1107.2,783.3L1107.5,785.3L1107.8,788.3L1107.9,791.3L1107.8,794.3L1107.4,796.9L1106.9,799.3L1106.3,801.3L1105.4,803.7L1104.4,805.8L1103.4,807.5L1102.2,809.3L1100.6,811.3L1099.4,812.6L1097.7,814.3L1096.4,815.4L1094.4,816.9L1092.4,818.2L1090.5,819.3L1088.5,820.3L1086.4,821.2L1084.4,821.9L1082.4,822.4L1079.4,823.0L1077.2,823.3L1074.4,823.5L1071.4,823.4L1069.4,823.2L1066.4,822.7L1064.4,822.2L1061.4,821.4L1059.4,820.7L1057.4,819.9L1055.4,819.0L1053.4,818.0L1051.4,816.9L1049.4,815.7L1047.4,814.4L1045.7,813.3L1044.3,812.3L1042.4,810.9L1040.4,809.3L1039.2,808.3L1037.4,806.7L1035.8,805.3L1034.4,804.0L1032.7,802.3L1031.4,801.0L1029.7,799.3L1028.4,797.9L1027.0,796.3L1025.4,794.4L1024.4,793.2L1022.8,791.3L1021.4,789.5L1020.4,788.1L1019.1,786.3L1017.7,784.3L1016.4,782.3L1015.4,780.6L1014.4,779.0L1013.4,777.2L1012.4,775.3L1011.4,773.3L1010.4,771.1L1009.4,768.8L1008.4,766.3L1007.7,764.3L1007.0,762.3L1006.4,760.2L1005.6,757.3L1005.1,755.3L1004.5,752.3L1004.2,750.3L1003.8,747.3L1003.6,744.3L1003.5,741.3L1003.6,738.3L1003.9,735.3L1004.3,732.3L1004.8,730.3L1005.4,728.0L1006.3,725.3L1007.2,723.3L1008.2,721.3L1009.3,719.3L1010.4,717.7L1011.4,716.3L1013.1,714.3L1014.4,713.0L1016.2,711.3L1017.5,710.3L1019.4,708.9L1021.4,707.7L1023.4,706.7L1025.4,705.8L1027.4,705.1L1030.4,704.4Z" fill="#8ac08a"/>
<path d="M1031.5,709.3L1034.4,708.9L1037.4,708.7L1040.4,708.9L1042.8,709.3L1045.4,709.9L1047.4,710.6L1049.4,711.4L1051.4,712.3L1053.4,713.4L1055.4,714.7L1057.4,716.0L1059.0,717.3L1060.4,718.4L1062.4,720.2L1063.6,721.3L1065.4,723.1L1066.6,724.3L1068.4,726.2L1069.4,727.3L1071.1,729.3L1072.4,730.7L1073.7,732.3L1075.4,734.3L1076.4,735.4L1077.9,737.3L1079.4,739.1L1080.4,740.3L1082.0,742.3L1083.4,744.1L1084.4,745.4L1085.9,747.3L1087.3,749.3L1088.4,750.8L1089.5,752.3L1090.9,754.3L1092.2,756.3L1093.4,758.3L1094.4,759.9L1095.4,761.6L1096.4,763.5L1097.4,765.4L1098.4,767.4L1099.4,769.6L1100.4,772.0L1101.3,774.3L1101.9,776.3L1102.5,778.3L1103.2,781.3L1103.6,783.3L1104.0,786.3L1104.1,789.3L1104.0,792.3L1103.6,795.3L1103.1,797.3L1102.4,799.6L1101.4,802.0L1100.4,803.9L1099.4,805.4L1098.0,807.3L1096.4,809.1L1095.1,810.3L1093.4,811.7L1091.4,813.2L1089.5,814.3L1087.5,815.3L1085.4,816.2L1083.4,816.9L1081.4,817.5L1078.4,818.0L1075.9,818.3L1073.4,818.4L1071.2,818.3L1068.4,818.0L1065.4,817.4L1063.4,816.9L1061.4,816.3L1058.7,815.3L1056.4,814.3L1054.4,813.3L1052.5,812.3L1050.8,811.3L1049.2,810.3L1047.4,809.1L1045.4,807.7L1043.6,806.3L1042.3,805.3L1040.4,803.7L1038.9,802.3L1037.4,800.9L1035.7,799.3L1034.4,798.0L1032.8,796.3L1031.4,794.7L1030.1,793.3L1028.5,791.3L1027.4,790.0L1026.1,788.3L1024.6,786.3L1023.4,784.6L1022.4,783.1L1021.2,781.3L1020.0,779.3L1018.8,777.3L1017.7,775.3L1016.7,773.3L1015.7,771.3L1014.7,769.3L1013.9,767.3L1013.1,765.3L1012.3,763.3L1011.4,760.6L1010.7,758.3L1010.1,756.3L1009.4,753.3L1009.0,751.3L1008.6,748.3L1008.4,746.3L1008.2,743.3L1008.2,740.3L1008.4,737.3L1008.6,735.3L1009.2,732.3L1009.7,730.3L1010.4,728.3L1011.4,725.8L1012.4,723.8L1013.4,722.1L1014.7,720.3L1016.3,718.3L1017.4,717.1L1019.3,715.3L1020.6,714.3L1022.4,713.0L1024.4,711.8L1026.4,710.9L1028.4,710.1L1031.4,709.3Z" fill="#7eb581"/>
<path d="M1033.9,714.3L1036.4,714.0L1039.4,714.1L1041.5,714.3L1044.4,714.9L1046.4,715.5L1048.4,716.3L1050.5,717.3L1052.4,718.3L1054.4,719.6L1056.4,721.0L1058.1,722.3L1059.4,723.4L1061.4,725.1L1062.7,726.3L1064.4,727.9L1065.8,729.3L1067.4,730.9L1068.7,732.3L1070.4,734.1L1071.5,735.3L1073.3,737.3L1074.4,738.5L1076.0,740.3L1077.4,742.0L1078.5,743.3L1080.2,745.3L1081.4,746.8L1082.6,748.3L1084.2,750.3L1085.4,751.9L1086.4,753.3L1087.8,755.3L1089.2,757.3L1090.4,759.2L1091.4,760.8L1092.4,762.5L1093.4,764.3L1094.4,766.3L1095.4,768.3L1096.4,770.5L1097.4,773.0L1098.2,775.3L1098.8,777.3L1099.4,779.7L1099.9,782.3L1100.3,785.3L1100.4,788.3L1100.2,791.3L1099.6,794.3L1099.1,796.3L1098.3,798.3L1097.4,800.3L1096.1,802.3L1094.6,804.3L1093.4,805.6L1091.5,807.3L1090.2,808.3L1088.4,809.5L1086.4,810.6L1084.4,811.5L1081.9,812.3L1079.4,812.9L1077.3,813.3L1074.4,813.5L1071.4,813.5L1069.0,813.3L1066.4,812.9L1063.9,812.3L1061.4,811.5L1059.4,810.8L1057.4,809.9L1055.4,809.0L1053.4,807.9L1051.4,806.8L1049.4,805.5L1047.7,804.3L1046.3,803.3L1044.4,801.8L1042.6,800.3L1041.4,799.2L1039.4,797.4L1038.3,796.3L1036.4,794.4L1035.4,793.3L1033.6,791.3L1032.4,789.9L1031.1,788.3L1029.5,786.3L1028.4,784.8L1027.4,783.3L1026.0,781.3L1024.7,779.3L1023.5,777.3L1022.4,775.4L1021.4,773.6L1020.4,771.7L1019.4,769.6L1018.4,767.4L1017.5,765.3L1016.7,763.3L1016.0,761.3L1015.4,759.3L1014.5,756.3L1014.0,754.3L1013.4,751.3L1013.1,749.3L1012.8,746.3L1012.7,743.3L1012.8,740.3L1013.1,737.3L1013.4,735.3L1014.2,732.3L1014.9,730.3L1015.8,728.3L1016.8,726.3L1018.1,724.3L1019.4,722.6L1020.6,721.3L1022.4,719.6L1024.1,718.3L1025.6,717.3L1027.5,716.3L1029.9,715.3L1032.4,714.6Z" fill="#74aa78"/>
<path d="M1033.1,721.3L1034.4,721.0L1036.4,720.7L1038.4,720.5L1040.4,720.6L1042.4,720.9L1044.2,721.3L1045.4,721.7L1047.2,722.3L1048.4,722.8L1049.5,723.3L1051.4,724.3L1052.4,724.9L1053.4,725.5L1054.6,726.3L1056.0,727.3L1057.4,728.3L1058.4,729.1L1059.4,729.9L1060.4,730.7L1061.4,731.6L1062.4,732.5L1063.4,733.4L1064.4,734.3L1065.5,735.3L1066.5,736.3L1067.6,737.3L1068.6,738.3L1069.6,739.3L1070.6,740.3L1071.5,741.3L1072.5,742.3L1073.4,743.3L1074.4,744.4L1075.4,745.5L1076.4,746.6L1077.4,747.7L1078.4,748.9L1079.4,750.1L1080.4,751.3L1081.2,752.3L1082.0,753.3L1082.8,754.3L1083.5,755.3L1084.4,756.5L1085.4,757.9L1086.3,759.3L1087.0,760.3L1087.6,761.3L1088.4,762.6L1089.4,764.3L1089.9,765.3L1090.5,766.3L1091.4,768.2L1091.9,769.3L1092.4,770.4L1093.2,772.3L1093.6,773.3L1094.2,775.3L1094.5,776.3L1095.1,778.3L1095.4,779.9L1095.7,781.3L1095.9,783.3L1096.0,785.3L1096.0,787.3L1095.8,789.3L1095.5,791.3L1095.2,792.3L1094.6,794.3L1094.2,795.3L1093.4,796.9L1092.6,798.3L1091.9,799.3L1091.1,800.3L1090.2,801.3L1089.1,802.3L1087.9,803.3L1086.5,804.3L1085.4,805.0L1084.4,805.5L1082.7,806.3L1081.4,806.8L1079.8,807.3L1078.4,807.6L1076.4,808.0L1074.4,808.2L1072.4,808.3L1070.4,808.2L1068.4,808.0L1066.4,807.7L1064.8,807.3L1063.4,806.9L1061.4,806.3L1060.4,805.9L1058.8,805.3L1057.4,804.7L1056.4,804.2L1054.7,803.3L1053.4,802.6L1052.4,802.0L1051.3,801.3L1049.8,800.3L1048.4,799.3L1047.4,798.5L1046.4,797.8L1045.4,796.9L1044.4,796.1L1043.4,795.2L1042.4,794.3L1041.3,793.3L1040.3,792.3L1039.3,791.3L1038.4,790.3L1037.4,789.2L1036.4,788.1L1035.4,786.9L1034.4,785.7L1033.4,784.4L1032.5,783.3L1031.8,782.3L1031.1,781.3L1030.4,780.3L1029.4,778.8L1028.5,777.3L1027.8,776.3L1027.2,775.3L1026.4,773.8L1025.6,772.3L1025.1,771.3L1024.4,770.0L1023.6,768.3L1023.2,767.3L1022.4,765.5L1021.9,764.3L1021.4,763.0L1020.8,761.3L1020.4,760.0L1019.9,758.3L1019.4,756.5L1019.1,755.3L1018.7,753.3L1018.4,751.5L1018.2,750.3L1018.0,748.3L1017.9,746.3L1017.9,744.3L1018.0,742.3L1018.2,740.3L1018.4,739.2L1018.8,737.3L1019.4,735.3L1019.7,734.3L1020.4,732.7L1021.1,731.3L1021.7,730.3L1022.4,729.2L1023.4,727.8L1024.4,726.7L1025.4,725.7L1026.4,724.8L1027.4,724.0L1028.5,723.3L1030.4,722.3L1031.4,721.9L1033.1,721.3Z" fill="#6ba070"/>
<path d="M1039.3,727.3L1040.4,727.3L1041.4,727.4L1043.4,727.6L1045.4,728.1L1046.4,728.4L1048.4,729.1L1049.4,729.6L1050.9,730.3L1052.4,731.1L1053.4,731.7L1054.4,732.3L1055.9,733.3L1057.3,734.3L1058.4,735.1L1059.4,735.8L1060.4,736.6L1061.4,737.4L1062.5,738.3L1063.7,739.3L1064.8,740.3L1066.0,741.3L1067.1,742.3L1068.1,743.3L1069.2,744.3L1070.2,745.3L1071.2,746.3L1072.2,747.3L1073.2,748.3L1074.1,749.3L1075.0,750.3L1075.9,751.3L1076.8,752.3L1077.6,753.3L1078.5,754.3L1079.4,755.5L1080.4,756.8L1081.4,758.1L1082.3,759.3L1083.0,760.3L1083.6,761.3L1084.4,762.5L1085.4,764.2L1086.1,765.3L1086.6,766.3L1087.4,767.8L1088.1,769.3L1088.5,770.3L1089.4,772.3L1089.7,773.3L1090.4,775.3L1090.7,776.3L1091.1,778.3L1091.4,779.7L1091.6,781.3L1091.8,783.3L1091.8,785.3L1091.6,787.3L1091.4,788.3L1090.9,790.3L1090.4,791.8L1089.7,793.3L1089.2,794.3L1088.4,795.5L1087.4,796.8L1086.4,797.8L1085.4,798.7L1084.4,799.5L1083.2,800.3L1081.4,801.3L1080.4,801.7L1078.7,802.3L1077.4,802.7L1075.4,803.1L1073.4,803.3L1072.4,803.3L1070.4,803.3L1069.4,803.2L1067.4,803.0L1065.4,802.6L1064.0,802.3L1062.4,801.8L1060.9,801.3L1059.4,800.7L1058.4,800.3L1056.4,799.3L1055.4,798.8L1054.4,798.3L1052.8,797.3L1051.4,796.4L1050.4,795.7L1049.4,795.0L1048.4,794.2L1047.3,793.3L1046.1,792.3L1044.9,791.3L1043.8,790.3L1042.8,789.3L1041.8,788.3L1040.9,787.3L1039.9,786.3L1039.1,785.3L1038.2,784.3L1037.4,783.3L1036.4,782.1L1035.4,780.7L1034.4,779.3L1033.7,778.3L1033.0,777.3L1032.4,776.3L1031.4,774.7L1030.6,773.3L1030.0,772.3L1029.4,771.1L1028.5,769.3L1028.0,768.3L1027.4,766.9L1026.7,765.3L1026.3,764.3L1025.6,762.3L1025.3,761.3L1024.7,759.3L1024.4,758.3L1023.9,756.3L1023.5,754.3L1023.4,753.3L1023.1,751.3L1023.0,749.3L1023.0,747.3L1023.1,745.3L1023.3,743.3L1023.5,742.3L1023.9,740.3L1024.4,738.8L1025.0,737.3L1025.5,736.3L1026.4,734.7L1027.4,733.3L1028.3,732.3L1029.3,731.3L1030.4,730.4L1031.4,729.7L1032.4,729.1L1034.2,728.3L1035.4,727.9L1037.4,727.5L1039.3,727.3Z" fill="#639668"/>
<path d="M1039.4,736.3L1040.4,736.1L1041.4,736.0L1042.4,736.0L1043.4,736.0L1044.4,736.1L1045.4,736.2L1045.9,736.3L1046.4,736.4L1047.4,736.6L1048.4,736.9L1049.4,737.3L1049.5,737.3L1050.4,737.7L1051.4,738.1L1051.9,738.3L1052.4,738.5L1053.4,739.0L1053.9,739.3L1054.4,739.6L1055.4,740.1L1055.7,740.3L1056.4,740.7L1057.4,741.3L1057.4,741.3L1058.4,742.0L1058.9,742.3L1059.4,742.6L1060.3,743.3L1060.4,743.3L1061.4,744.1L1061.7,744.3L1062.4,744.8L1063.0,745.3L1063.4,745.6L1064.3,746.3L1064.4,746.4L1065.4,747.2L1065.5,747.3L1066.4,748.1L1066.6,748.3L1067.4,749.0L1067.7,749.3L1068.4,749.9L1068.8,750.3L1069.4,750.8L1069.9,751.3L1070.4,751.8L1070.9,752.3L1071.4,752.8L1071.8,753.3L1072.4,753.9L1072.8,754.3L1073.4,755.0L1073.7,755.3L1074.4,756.1L1074.6,756.3L1075.4,757.3L1075.4,757.3L1076.2,758.3L1076.4,758.5L1077.0,759.3L1077.4,759.8L1077.8,760.3L1078.4,761.2L1078.5,761.3L1079.2,762.3L1079.4,762.6L1079.9,763.3L1080.4,764.1L1080.5,764.3L1081.1,765.3L1081.4,765.8L1081.7,766.3L1082.2,767.3L1082.4,767.6L1082.7,768.3L1083.2,769.3L1083.4,769.7L1083.7,770.3L1084.1,771.3L1084.4,772.1L1084.5,772.3L1084.8,773.3L1085.1,774.3L1085.4,775.2L1085.4,775.3L1085.7,776.3L1085.9,777.3L1086.1,778.3L1086.2,779.3L1086.3,780.3L1086.3,781.3L1086.3,782.3L1086.3,783.3L1086.2,784.3L1086.0,785.3L1085.8,786.3L1085.5,787.3L1085.4,787.6L1085.1,788.3L1084.7,789.3L1084.4,789.8L1084.1,790.3L1083.5,791.3L1083.4,791.4L1082.6,792.3L1082.4,792.6L1081.6,793.3L1081.4,793.5L1080.4,794.3L1080.4,794.3L1079.4,794.9L1078.8,795.3L1078.4,795.5L1077.4,796.0L1076.5,796.3L1076.4,796.3L1075.4,796.6L1074.4,796.9L1073.4,797.1L1072.4,797.2L1071.4,797.3L1070.7,797.3L1070.4,797.3L1069.7,797.3L1069.4,797.3L1068.4,797.2L1067.4,797.1L1066.4,797.0L1065.4,796.8L1064.4,796.6L1063.4,796.3L1063.3,796.3L1062.4,796.0L1061.4,795.7L1060.4,795.3L1060.3,795.3L1059.4,794.9L1058.4,794.5L1058.0,794.3L1057.4,794.0L1056.4,793.5L1056.0,793.3L1055.4,793.0L1054.4,792.4L1054.3,792.3L1053.4,791.7L1052.7,791.3L1052.4,791.1L1051.4,790.4L1051.3,790.3L1050.4,789.6L1050.0,789.3L1049.4,788.8L1048.7,788.3L1048.4,788.0L1047.6,787.3L1047.4,787.1L1046.5,786.3L1046.4,786.2L1045.4,785.3L1045.4,785.3L1044.4,784.3L1044.4,784.3L1043.5,783.3L1043.4,783.2L1042.6,782.3L1042.4,782.1L1041.7,781.3L1041.4,780.9L1040.9,780.3L1040.4,779.7L1040.1,779.3L1039.4,778.3L1039.4,778.3L1038.6,777.3L1038.4,776.9L1038.0,776.3L1037.4,775.5L1037.3,775.3L1036.7,774.3L1036.4,773.9L1036.1,773.3L1035.5,772.3L1035.4,772.2L1034.9,771.3L1034.4,770.3L1034.4,770.3L1033.9,769.3L1033.4,768.3L1033.4,768.2L1033.0,767.3L1032.5,766.3L1032.4,765.9L1032.1,765.3L1031.8,764.3L1031.4,763.3L1031.4,763.2L1031.1,762.3L1030.8,761.3L1030.5,760.3L1030.4,759.8L1030.3,759.3L1030.1,758.3L1029.9,757.3L1029.7,756.3L1029.6,755.3L1029.5,754.3L1029.4,753.3L1029.4,752.9L1029.4,752.3L1029.4,751.3L1029.4,750.9L1029.4,750.3L1029.5,749.3L1029.6,748.3L1029.8,747.3L1030.0,746.3L1030.3,745.3L1030.4,745.1L1030.7,744.3L1031.1,743.3L1031.4,742.7L1031.6,742.3L1032.2,741.3L1032.4,741.0L1033.0,740.3L1033.4,739.8L1033.9,739.3L1034.4,738.8L1035.1,738.3L1035.4,738.1L1036.4,737.5L1036.7,737.3L1037.4,737.0L1038.4,736.6L1039.4,736.3L1039.4,736.3Z" fill="#5c8d61"/>
<path d="M1042.5,742.3L1043.4,742.1L1044.4,742.1L1045.4,742.0L1046.4,742.1L1047.4,742.2L1047.9,742.3L1048.4,742.4L1049.4,742.6L1050.4,742.9L1051.4,743.2L1051.6,743.3L1052.4,743.6L1053.4,744.0L1054.1,744.3L1054.4,744.5L1055.4,744.9L1056.1,745.3L1056.4,745.5L1057.4,746.0L1057.9,746.3L1058.4,746.6L1059.4,747.3L1059.5,747.3L1060.4,747.9L1061.0,748.3L1061.4,748.6L1062.4,749.3L1062.4,749.3L1063.4,750.1L1063.7,750.3L1064.4,750.9L1064.9,751.3L1065.4,751.7L1066.1,752.3L1066.4,752.5L1067.2,753.3L1067.4,753.4L1068.3,754.3L1068.4,754.4L1069.4,755.3L1069.4,755.3L1070.3,756.3L1070.4,756.4L1071.3,757.3L1071.4,757.4L1072.2,758.3L1072.4,758.6L1073.0,759.3L1073.4,759.7L1073.9,760.3L1074.4,761.0L1074.6,761.3L1075.4,762.3L1075.4,762.3L1076.1,763.3L1076.4,763.8L1076.8,764.3L1077.4,765.3L1077.4,765.3L1078.0,766.3L1078.4,767.0L1078.6,767.3L1079.1,768.3L1079.4,768.9L1079.6,769.3L1080.0,770.3L1080.4,771.2L1080.4,771.3L1080.8,772.3L1081.2,773.3L1081.4,774.1L1081.5,774.3L1081.7,775.3L1081.9,776.3L1082.1,777.3L1082.2,778.3L1082.3,779.3L1082.3,780.3L1082.2,781.3L1082.1,782.3L1082.0,783.3L1081.7,784.3L1081.4,785.2L1081.4,785.3L1080.9,786.3L1080.4,787.2L1080.4,787.3L1079.6,788.3L1079.4,788.6L1078.8,789.3L1078.4,789.6L1077.6,790.3L1077.4,790.5L1076.4,791.1L1076.0,791.3L1075.4,791.6L1074.4,792.0L1073.6,792.3L1073.4,792.4L1072.4,792.6L1071.4,792.8L1070.4,792.9L1069.4,793.0L1068.4,793.0L1067.4,792.9L1066.4,792.8L1065.4,792.7L1064.4,792.5L1063.7,792.3L1063.4,792.2L1062.4,791.9L1061.4,791.6L1060.5,791.3L1060.4,791.3L1059.4,790.9L1058.4,790.4L1058.2,790.3L1057.4,789.9L1056.4,789.4L1056.3,789.3L1055.4,788.8L1054.6,788.3L1054.4,788.2L1053.4,787.5L1053.1,787.3L1052.4,786.8L1051.7,786.3L1051.4,786.1L1050.5,785.3L1050.4,785.3L1049.4,784.4L1049.3,784.3L1048.4,783.5L1048.2,783.3L1047.4,782.6L1047.1,782.3L1046.4,781.5L1046.2,781.3L1045.4,780.5L1045.3,780.3L1044.4,779.3L1044.4,779.3L1043.6,778.3L1043.4,778.1L1042.8,777.3L1042.4,776.8L1042.0,776.3L1041.4,775.4L1041.3,775.3L1040.7,774.3L1040.4,773.9L1040.0,773.3L1039.4,772.3L1039.4,772.3L1038.9,771.3L1038.4,770.5L1038.3,770.3L1037.8,769.3L1037.4,768.4L1037.3,768.3L1036.9,767.3L1036.5,766.3L1036.4,766.1L1036.1,765.3L1035.7,764.3L1035.4,763.3L1035.4,763.2L1035.1,762.3L1034.9,761.3L1034.7,760.3L1034.5,759.3L1034.4,758.9L1034.3,758.3L1034.2,757.3L1034.1,756.3L1034.1,755.3L1034.1,754.3L1034.1,753.3L1034.3,752.3L1034.4,751.4L1034.4,751.3L1034.6,750.3L1035.0,749.3L1035.3,748.3L1035.4,748.2L1035.8,747.3L1036.4,746.4L1036.5,746.3L1037.3,745.3L1037.4,745.1L1038.3,744.3L1038.4,744.2L1039.4,743.5L1039.8,743.3L1040.4,743.0L1041.4,742.6L1042.4,742.3L1042.5,742.3Z" fill="#56855b"/>
<path d="M1044.6,748.3L1045.4,748.1L1046.4,747.9L1047.4,747.8L1048.4,747.8L1049.4,747.9L1050.4,748.0L1051.4,748.2L1051.7,748.3L1052.4,748.5L1053.4,748.8L1054.4,749.2L1054.7,749.3L1055.4,749.6L1056.4,750.0L1056.9,750.3L1057.4,750.5L1058.4,751.1L1058.8,751.3L1059.4,751.7L1060.4,752.3L1060.4,752.3L1061.4,753.0L1061.9,753.3L1062.4,753.7L1063.2,754.3L1063.4,754.4L1064.4,755.2L1064.5,755.3L1065.4,756.1L1065.7,756.3L1066.4,757.0L1066.8,757.3L1067.4,757.9L1067.8,758.3L1068.4,758.9L1068.8,759.3L1069.4,760.0L1069.7,760.3L1070.4,761.1L1070.6,761.3L1071.4,762.3L1071.4,762.3L1072.2,763.3L1072.4,763.6L1072.9,764.3L1073.4,765.0L1073.6,765.3L1074.2,766.3L1074.4,766.6L1074.8,767.3L1075.3,768.3L1075.4,768.4L1075.8,769.3L1076.3,770.3L1076.4,770.6L1076.7,771.3L1077.1,772.3L1077.4,773.3L1077.4,773.4L1077.6,774.3L1077.8,775.3L1078.0,776.3L1078.1,777.3L1078.1,778.3L1078.0,779.3L1077.9,780.3L1077.7,781.3L1077.4,782.3L1077.4,782.3L1077.0,783.3L1076.4,784.3L1076.4,784.3L1075.6,785.3L1075.4,785.5L1074.6,786.3L1074.4,786.4L1073.4,787.1L1073.0,787.3L1072.4,787.6L1071.4,788.0L1070.4,788.3L1070.3,788.3L1069.4,788.5L1068.4,788.6L1067.4,788.6L1066.4,788.6L1065.4,788.5L1064.4,788.3L1064.3,788.3L1063.4,788.1L1062.4,787.9L1061.4,787.6L1060.7,787.3L1060.4,787.2L1059.4,786.8L1058.4,786.3L1058.3,786.3L1057.4,785.8L1056.5,785.3L1056.4,785.3L1055.4,784.7L1054.9,784.3L1054.4,784.0L1053.4,783.3L1053.4,783.3L1052.4,782.5L1052.1,782.3L1051.4,781.7L1051.0,781.3L1050.4,780.8L1049.9,780.3L1049.4,779.8L1048.9,779.3L1048.4,778.8L1047.9,778.3L1047.4,777.7L1047.0,777.3L1046.4,776.5L1046.2,776.3L1045.4,775.3L1045.4,775.2L1044.7,774.3L1044.4,773.8L1044.1,773.3L1043.4,772.3L1043.4,772.3L1042.8,771.3L1042.4,770.5L1042.3,770.3L1041.8,769.3L1041.4,768.5L1041.3,768.3L1040.9,767.3L1040.5,766.3L1040.4,766.1L1040.1,765.3L1039.8,764.3L1039.5,763.3L1039.4,762.8L1039.3,762.3L1039.1,761.3L1039.0,760.3L1038.9,759.3L1038.8,758.3L1038.8,757.3L1038.9,756.3L1039.1,755.3L1039.3,754.3L1039.4,753.9L1039.6,753.3L1040.1,752.3L1040.4,751.7L1040.6,751.3L1041.4,750.4L1041.5,750.3L1042.4,749.5L1042.6,749.3L1043.4,748.8L1044.4,748.4L1044.6,748.3Z" fill="#517e56"/>
</g>
<g style="mix-blend-mode:difference">
<line x1="854.2" x2="854.2" y1="602.3" y2="938.3" stroke="rgb(28,25,27)" stroke-width="1"/>
<line x1="938.4" x2="938.4" y1="602.3" y2="938.3" stroke="rgb(28,25,27)" stroke-width="1"/>
<line x1="1106.8" x2="1106.8" y1="602.3" y2="938.3" stroke="rgb(28,25,27)" stroke-width="1"/>
<line x1="812.4" x2="1158.7" y1="620.3" y2="620.3" stroke="rgb(44,40,43)" stroke-width="1.2"/>
<line x1="812.4" x2="1158.7" y1="671.8" y2="671.8" stroke="rgb(44,40,43)" stroke-width="1.2"/>
<line x1="812.4" x2="1158.7" y1="723.4" y2="723.4" stroke="rgb(44,40,43)" stroke-width="1.2"/>
<line x1="812.4" x2="1158.7" y1="826.4" y2="826.4" stroke="rgb(44,40,43)" stroke-width="1.2"/>
<line x1="812.4" x2="1158.7" y1="878" y2="878" stroke="rgb(44,40,43)" stroke-width="1.2"/>
<line x1="812.4" x2="1158.7" y1="929.5" y2="929.5" stroke="rgb(44,40,43)" stroke-width="1.2"/>
<line x1="1022.6" x2="1022.6" y1="602.3" y2="938.3" stroke="rgb(60,56,59)" stroke-width="1.8"/>
<line x1="812.4" x2="1158.7" y1="774.9" y2="774.9" stroke="rgb(60,56,59)" stroke-width="1.8"/>
</g>
<clipPath id="c21"><rect x="1216.6" y="602.3" width="346.3" height="336"/></clipPath>
<rect x="1216.6" y="602.3" width="346.3" height="336" fill="#eaf2fa"/>
<g clip-path="url(#c21)">
<path d="M1420.0,659.3L1427.6,658.9L1434.6,659.3L1441.6,660.5L1448.6,662.3L1454.4,664.3L1459.6,666.4L1465.5,669.3L1470.6,672.1L1475.6,675.1L1480.3,678.3L1484.6,681.4L1489.5,685.3L1493.6,688.8L1497.6,692.5L1501.6,696.4L1505.6,700.6L1509.6,705.1L1513.1,709.3L1516.6,713.7L1520.0,718.3L1523.5,723.3L1526.6,728.1L1529.6,733.0L1532.6,738.2L1535.3,743.3L1537.8,748.3L1540.5,754.3L1542.6,759.3L1544.9,765.3L1546.9,771.3L1548.7,777.3L1550.5,784.3L1551.6,790.3L1552.7,797.3L1553.3,805.3L1553.3,813.3L1552.7,821.3L1551.6,827.6L1549.8,834.3L1547.6,840.1L1545.0,845.3L1541.6,850.3L1538.2,854.3L1533.7,858.3L1529.4,861.3L1523.6,864.2L1517.6,866.2L1511.6,867.5L1504.6,868.3L1496.6,868.5L1489.6,868.2L1481.6,867.7L1474.6,867.1L1466.6,866.5L1459.6,866.2L1452.6,866.4L1445.6,867.5L1439.6,869.8L1434.6,873.2L1430.6,876.7L1426.6,880.4L1422.0,884.3L1417.6,887.5L1412.6,890.3L1406.6,892.9L1400.6,894.5L1393.6,895.3L1386.6,895.1L1379.6,893.7L1373.6,891.6L1368.6,889.1L1363.6,885.7L1359.6,882.3L1355.6,878.0L1352.0,873.3L1348.7,868.3L1345.8,863.3L1343.0,858.3L1340.1,853.3L1336.8,848.3L1333.6,844.1L1329.6,839.6L1325.6,835.5L1321.6,831.5L1317.6,827.5L1313.6,823.3L1310.1,819.3L1306.6,815.1L1303.0,810.3L1299.6,805.3L1296.6,800.4L1293.8,795.3L1291.5,790.3L1288.9,784.3L1286.7,778.3L1284.9,772.3L1283.3,766.3L1281.8,759.3L1280.9,752.3L1280.9,744.3L1282.0,737.3L1284.0,731.3L1286.7,726.3L1290.4,721.3L1294.3,717.3L1298.6,713.8L1303.6,710.6L1308.6,707.9L1314.6,705.4L1320.6,703.3L1326.6,701.6L1332.6,700.1L1339.6,698.7L1346.6,697.3L1352.6,696.0L1358.6,694.3L1364.6,691.7L1369.6,688.8L1374.2,685.3L1378.6,681.5L1382.6,678.0L1386.9,674.3L1391.6,670.7L1396.6,667.4L1401.6,664.6L1407.1,662.3L1413.6,660.4L1420.0,659.3Z" fill="#dfe8f3"/>
<path d="M1428.0,669.3L1434.6,669.1L1440.6,669.7L1446.6,670.8L1451.8,672.3L1457.4,674.3L1462.1,676.3L1466.6,678.5L1471.6,681.3L1475.6,683.8L1479.6,686.5L1483.6,689.5L1487.6,692.6L1491.6,696.1L1495.1,699.3L1498.6,702.7L1502.1,706.3L1505.6,710.2L1508.6,713.7L1511.6,717.4L1514.6,721.4L1517.6,725.5L1520.6,730.0L1523.4,734.3L1525.8,738.3L1528.6,743.3L1530.7,747.3L1533.1,752.3L1535.4,757.3L1537.4,762.3L1539.3,767.3L1541.0,772.3L1542.6,777.6L1544.1,783.3L1545.3,789.3L1546.2,795.3L1546.7,801.3L1546.9,808.3L1546.6,814.5L1545.7,821.3L1544.5,826.3L1542.6,832.3L1540.6,836.7L1538.0,841.3L1535.0,845.3L1531.6,848.8L1527.6,852.0L1523.6,854.5L1518.6,856.8L1513.6,858.4L1507.6,859.5L1500.6,860.1L1493.6,860.2L1486.6,859.7L1480.6,859.2L1473.6,858.3L1467.6,857.5L1461.6,856.6L1455.6,855.6L1449.6,854.6L1443.6,853.5L1437.6,852.6L1431.6,852.0L1424.7,852.3L1419.6,854.1L1415.9,857.3L1412.9,861.3L1410.2,865.3L1406.8,869.3L1403.2,872.3L1398.6,874.8L1392.6,876.1L1385.9,875.3L1381.4,873.3L1377.5,870.3L1374.4,866.3L1372.0,861.3L1370.6,855.5L1369.8,849.3L1368.9,843.3L1367.1,838.3L1364.5,834.3L1360.7,830.3L1357.0,827.3L1352.8,824.3L1348.6,821.4L1344.6,818.7L1340.6,815.9L1336.6,813.0L1332.6,809.8L1328.7,806.3L1325.6,803.2L1322.0,799.3L1318.9,795.3L1316.1,791.3L1313.6,787.2L1311.1,782.3L1308.9,777.3L1307.0,772.3L1305.4,767.3L1304.0,761.3L1303.1,755.3L1302.9,748.3L1304.0,742.3L1306.1,737.3L1309.0,733.3L1312.6,730.0L1316.9,727.3L1321.6,725.3L1327.6,723.6L1333.6,722.7L1340.6,722.3L1347.6,722.4L1354.6,722.7L1361.6,722.9L1368.2,722.3L1373.6,720.5L1377.6,717.5L1380.6,713.8L1383.2,709.3L1385.6,704.7L1387.8,700.3L1390.5,695.3L1393.0,691.3L1395.8,687.3L1399.2,683.3L1402.6,680.0L1406.6,676.9L1410.8,674.3L1415.6,672.1L1421.6,670.3L1427.6,669.3Z" fill="#d0dfee"/>
<path d="M1429.8,677.3L1435.6,676.9L1441.6,677.2L1446.6,677.9L1451.6,679.1L1455.6,680.4L1460.5,682.3L1464.6,684.2L1468.6,686.2L1472.2,688.3L1475.6,690.4L1479.6,693.2L1482.6,695.4L1486.3,698.3L1489.6,701.1L1492.6,703.9L1495.6,706.7L1498.6,709.8L1501.6,713.0L1504.5,716.3L1507.0,719.3L1509.6,722.6L1512.4,726.3L1514.6,729.4L1517.2,733.3L1519.6,737.1L1521.6,740.4L1523.8,744.3L1526.0,748.3L1528.0,752.3L1529.9,756.3L1531.6,760.3L1533.6,765.3L1535.1,769.3L1536.6,773.9L1537.9,778.3L1539.1,783.3L1540.2,788.3L1540.9,793.3L1541.5,799.3L1541.7,804.3L1541.6,809.3L1541.0,815.3L1540.0,820.3L1538.6,825.3L1537.1,829.3L1535.2,833.3L1532.7,837.3L1530.3,840.3L1527.4,843.3L1523.6,846.3L1520.4,848.3L1516.2,850.3L1511.6,851.9L1506.6,853.0L1501.6,853.7L1495.6,854.0L1489.6,853.9L1483.6,853.5L1478.6,853.0L1473.6,852.3L1467.6,851.3L1462.6,850.4L1457.7,849.3L1453.6,848.3L1448.6,846.9L1443.8,845.3L1439.6,843.8L1435.6,842.2L1431.5,840.3L1427.6,838.3L1423.6,836.0L1419.6,833.5L1416.4,831.3L1412.6,828.6L1409.5,826.3L1405.6,823.6L1401.9,821.3L1397.9,819.3L1393.6,817.7L1388.9,816.3L1384.6,815.2L1379.6,813.9L1374.6,812.5L1370.6,811.3L1365.6,809.4L1361.6,807.8L1357.6,805.8L1353.6,803.7L1349.8,801.3L1346.6,799.0L1343.2,796.3L1339.9,793.3L1337.1,790.3L1334.6,787.2L1331.8,783.3L1329.6,779.5L1327.6,775.4L1326.1,771.3L1324.9,766.3L1324.6,761.6L1325.5,756.3L1327.6,752.4L1330.6,749.3L1333.8,747.3L1338.6,745.5L1343.6,744.6L1348.6,744.2L1354.6,744.1L1359.6,744.3L1365.6,744.7L1371.6,744.9L1377.6,744.5L1381.8,743.3L1385.6,740.7L1388.0,737.3L1389.8,733.3L1391.3,728.3L1392.6,723.3L1393.6,718.9L1394.8,714.3L1396.2,709.3L1397.7,705.3L1399.6,700.8L1401.6,697.0L1403.9,693.3L1406.6,689.9L1409.6,686.8L1412.6,684.3L1416.6,681.7L1420.6,679.8L1425.0,678.3L1429.8,677.3Z" fill="#bed5e9"/>
<path d="M1434.4,686.3L1439.6,685.9L1445.6,686.2L1450.6,687.1L1455.1,688.3L1459.6,689.8L1463.6,691.5L1467.6,693.5L1471.6,695.7L1475.6,698.2L1478.6,700.3L1482.6,703.3L1485.6,705.7L1488.6,708.3L1491.8,711.3L1494.9,714.3L1497.7,717.3L1500.6,720.5L1503.6,724.1L1506.1,727.3L1508.6,730.6L1511.2,734.3L1513.6,737.9L1515.7,741.3L1518.1,745.3L1520.3,749.3L1522.3,753.3L1524.3,757.3L1526.0,761.3L1527.7,765.3L1529.5,770.3L1530.8,774.3L1532.2,779.3L1533.4,784.3L1534.3,789.3L1535.0,794.3L1535.3,800.3L1535.2,806.3L1534.6,811.9L1533.6,816.8L1532.3,821.3L1530.6,825.3L1528.4,829.3L1525.6,833.3L1522.8,836.3L1519.6,839.0L1516.0,841.3L1511.9,843.3L1507.6,844.8L1502.6,846.0L1497.6,846.6L1491.6,846.9L1485.6,846.8L1479.6,846.3L1474.6,845.7L1469.6,844.9L1464.6,843.8L1459.6,842.6L1455.4,841.3L1450.6,839.6L1446.6,837.9L1442.6,835.9L1438.6,833.6L1435.1,831.3L1431.6,828.6L1428.6,825.9L1425.6,822.9L1422.6,819.4L1420.2,816.3L1417.6,812.6L1415.4,809.3L1412.9,805.3L1410.6,801.8L1408.1,798.3L1405.4,795.3L1401.6,792.5L1396.6,792.0L1391.6,792.8L1386.6,793.3L1381.6,793.3L1375.6,792.4L1371.3,791.3L1366.6,789.5L1362.6,787.6L1359.0,785.3L1355.6,782.6L1352.6,779.5L1350.4,776.3L1348.9,771.3L1350.6,766.8L1354.6,764.6L1359.6,763.8L1365.6,764.2L1370.6,765.3L1374.6,766.4L1379.6,768.3L1383.6,770.1L1387.6,772.0L1391.6,774.0L1395.6,775.6L1400.1,774.3L1401.8,770.3L1402.6,764.8L1402.8,759.3L1402.9,753.3L1402.8,747.3L1402.9,741.3L1403.0,735.3L1403.4,729.3L1403.9,724.3L1404.7,719.3L1405.9,714.3L1407.5,709.3L1409.3,705.3L1411.5,701.3L1413.6,698.3L1416.6,695.0L1419.8,692.3L1423.6,689.8L1427.6,688.0L1432.6,686.6Z" fill="#b0cce5"/>
<path d="M1441.5,693.3L1444.6,693.3L1447.6,693.5L1451.6,694.1L1454.6,694.8L1457.6,695.7L1460.6,696.8L1463.6,698.0L1466.4,699.3L1468.6,700.4L1471.6,702.1L1473.6,703.3L1476.6,705.3L1478.6,706.7L1480.7,708.3L1483.3,710.3L1485.6,712.3L1487.6,714.0L1489.6,715.9L1491.6,717.8L1493.6,719.9L1495.6,722.0L1497.6,724.2L1499.4,726.3L1501.0,728.3L1502.6,730.3L1504.6,732.9L1506.4,735.3L1507.7,737.3L1509.6,740.1L1511.0,742.3L1512.6,744.9L1514.0,747.3L1515.6,750.2L1516.7,752.3L1518.3,755.3L1519.6,758.1L1520.6,760.3L1521.9,763.3L1523.1,766.3L1524.2,769.3L1525.2,772.3L1526.2,775.3L1527.0,778.3L1527.8,781.3L1528.6,785.2L1529.1,788.3L1529.6,791.9L1529.9,795.3L1530.0,799.3L1529.9,803.3L1529.6,806.9L1529.1,810.3L1528.4,813.3L1527.5,816.3L1526.4,819.3L1525.0,822.3L1523.6,824.8L1521.8,827.3L1520.2,829.3L1518.2,831.3L1515.9,833.3L1513.6,834.9L1511.2,836.3L1508.6,837.6L1505.6,838.7L1502.6,839.6L1499.4,840.3L1495.6,840.9L1491.6,841.2L1487.6,841.3L1483.6,841.2L1479.6,840.9L1475.6,840.4L1472.6,840.0L1469.0,839.3L1465.6,838.5L1462.6,837.7L1459.6,836.8L1456.6,835.8L1453.6,834.5L1450.9,833.3L1448.6,832.2L1445.6,830.5L1443.6,829.2L1440.9,827.3L1438.6,825.4L1436.6,823.6L1434.6,821.6L1432.6,819.4L1430.9,817.3L1429.5,815.3L1427.6,812.3L1426.5,810.3L1425.0,807.3L1423.7,804.3L1422.6,801.6L1421.6,798.7L1420.6,795.4L1419.8,792.3L1419.0,789.3L1418.4,786.3L1417.6,782.6L1416.9,779.3L1416.3,776.3L1415.6,772.8L1414.9,769.3L1414.3,766.3L1413.6,762.8L1413.0,759.3L1412.5,756.3L1411.9,752.3L1411.5,749.3L1411.1,745.3L1410.9,741.3L1410.8,737.3L1410.8,733.3L1411.1,729.3L1411.5,725.3L1412.0,722.3L1412.7,719.3L1413.6,716.0L1414.6,713.2L1415.9,710.3L1417.6,707.3L1418.9,705.3L1420.6,703.2L1422.6,701.1L1424.6,699.3L1427.6,697.3L1429.6,696.2L1432.6,695.0L1435.6,694.1L1439.6,693.4Z" fill="#a2c4e1"/>
<path d="M1439.3,702.3L1441.6,701.8L1444.6,701.5L1447.6,701.4L1450.6,701.6L1453.6,702.1L1455.6,702.5L1458.4,703.3L1460.6,704.0L1462.6,704.8L1464.6,705.6L1466.6,706.5L1468.6,707.5L1470.6,708.6L1472.6,709.8L1474.6,711.1L1476.4,712.3L1477.8,713.3L1479.6,714.6L1481.6,716.2L1482.9,717.3L1484.6,718.7L1486.4,720.3L1487.6,721.4L1489.5,723.3L1490.6,724.4L1492.4,726.3L1493.6,727.6L1495.1,729.3L1496.6,731.0L1497.6,732.3L1499.2,734.3L1500.6,736.1L1501.6,737.4L1503.0,739.3L1504.3,741.3L1505.6,743.2L1506.6,744.8L1507.6,746.4L1508.8,748.3L1509.9,750.3L1511.0,752.3L1512.1,754.3L1513.1,756.3L1514.1,758.3L1515.0,760.3L1515.9,762.3L1516.7,764.3L1517.6,766.4L1518.6,769.1L1519.4,771.3L1520.0,773.3L1520.7,775.3L1521.5,778.3L1522.0,780.3L1522.6,783.1L1523.0,785.3L1523.5,788.3L1523.7,790.3L1524.0,793.3L1524.1,796.3L1524.1,799.3L1523.9,802.3L1523.6,804.4L1523.1,807.3L1522.6,809.5L1521.8,812.3L1521.0,814.3L1520.2,816.3L1519.1,818.3L1517.9,820.3L1516.6,822.1L1515.6,823.4L1513.8,825.3L1512.6,826.4L1510.6,828.0L1508.7,829.3L1507.0,830.3L1505.0,831.3L1502.6,832.3L1500.6,833.0L1498.6,833.6L1495.6,834.2L1493.6,834.6L1490.6,834.9L1487.6,835.1L1484.6,835.1L1481.6,835.0L1478.6,834.8L1475.6,834.4L1473.6,834.1L1470.6,833.6L1468.6,833.1L1465.6,832.3L1463.6,831.7L1461.6,831.1L1459.6,830.3L1457.2,829.3L1455.1,828.3L1453.2,827.3L1451.4,826.3L1449.6,825.2L1447.6,823.8L1445.7,822.3L1444.6,821.3L1442.6,819.5L1441.5,818.3L1439.7,816.3L1438.6,814.9L1437.4,813.3L1436.1,811.3L1435.0,809.3L1433.9,807.3L1433.0,805.3L1432.1,803.3L1431.4,801.3L1430.6,799.0L1429.8,796.3L1429.2,794.3L1428.6,791.9L1428.0,789.3L1427.5,787.3L1426.8,784.3L1426.3,782.3L1425.6,779.3L1425.1,777.3L1424.6,775.0L1423.9,772.3L1423.4,770.3L1422.7,767.3L1422.2,765.3L1421.6,762.5L1421.1,760.3L1420.6,757.8L1420.1,755.3L1419.6,752.3L1419.3,750.3L1418.9,747.3L1418.6,744.3L1418.5,742.3L1418.4,739.3L1418.4,736.3L1418.5,733.3L1418.7,731.3L1419.0,728.3L1419.6,725.3L1420.1,723.3L1420.7,721.3L1421.6,718.7L1422.6,716.5L1423.6,714.6L1424.6,712.9L1425.8,711.3L1427.5,709.3L1428.6,708.2L1430.6,706.5L1432.3,705.3L1434.1,704.3L1436.3,703.3L1438.6,702.5Z" fill="#94bbdc"/>
<path d="M1443.1,707.3L1445.6,706.9L1448.6,706.7L1451.6,706.8L1454.6,707.2L1456.6,707.6L1459.1,708.3L1461.6,709.1L1463.6,709.9L1465.6,710.7L1467.6,711.7L1469.6,712.7L1471.6,713.9L1473.6,715.1L1475.5,716.3L1476.9,717.3L1478.6,718.5L1480.6,720.1L1482.1,721.3L1483.6,722.6L1485.5,724.3L1486.6,725.4L1488.6,727.3L1489.6,728.3L1491.4,730.3L1492.6,731.6L1494.1,733.3L1495.6,735.1L1496.6,736.4L1498.1,738.3L1499.6,740.3L1500.6,741.7L1501.7,743.3L1503.0,745.3L1504.3,747.3L1505.5,749.3L1506.6,751.2L1507.6,752.9L1508.6,754.8L1509.6,756.7L1510.6,758.7L1511.6,760.9L1512.6,763.1L1513.5,765.3L1514.3,767.3L1515.1,769.3L1515.8,771.3L1516.6,773.8L1517.3,776.3L1517.9,778.3L1518.6,781.3L1519.0,783.3L1519.5,786.3L1519.8,788.3L1520.1,791.3L1520.2,794.3L1520.2,797.3L1520.0,800.3L1519.6,803.3L1519.2,805.3L1518.6,807.9L1517.8,810.3L1517.0,812.3L1516.1,814.3L1515.0,816.3L1513.6,818.3L1512.6,819.6L1511.1,821.3L1509.6,822.7L1507.7,824.3L1506.2,825.3L1504.6,826.3L1502.6,827.3L1500.4,828.3L1497.6,829.3L1495.6,829.8L1493.3,830.3L1490.6,830.7L1487.6,831.0L1484.6,831.1L1481.6,831.1L1478.6,830.9L1475.6,830.5L1473.6,830.2L1470.6,829.6L1468.6,829.1L1465.7,828.3L1463.6,827.6L1461.6,826.8L1459.6,826.0L1457.6,825.0L1455.6,823.9L1453.6,822.7L1451.6,821.4L1450.2,820.3L1448.6,819.0L1446.7,817.3L1445.6,816.1L1444.0,814.3L1442.6,812.6L1441.6,811.2L1440.4,809.3L1439.2,807.3L1438.2,805.3L1437.3,803.3L1436.5,801.3L1435.6,798.9L1434.7,796.3L1434.1,794.3L1433.6,792.3L1432.8,789.3L1432.3,787.3L1431.6,784.5L1431.0,782.3L1430.6,780.3L1429.8,777.3L1429.3,775.3L1428.6,772.5L1428.0,770.3L1427.5,768.3L1426.8,765.3L1426.3,763.3L1425.6,760.3L1425.2,758.3L1424.6,755.3L1424.3,753.3L1423.8,750.3L1423.6,748.3L1423.3,745.3L1423.1,742.3L1423.0,739.3L1423.1,736.3L1423.4,733.3L1423.6,731.3L1424.2,728.3L1424.7,726.3L1425.6,723.4L1426.5,721.3L1427.4,719.3L1428.6,717.3L1429.6,715.9L1430.9,714.3L1432.6,712.6L1434.2,711.3L1435.6,710.3L1437.6,709.2L1439.7,708.3L1442.6,707.4Z" fill="#87b1d6"/>
<path d="M1447.0,712.3L1449.6,712.0L1452.6,712.0L1455.1,712.3L1457.6,712.7L1459.8,713.3L1462.6,714.2L1464.6,715.0L1466.6,715.8L1468.6,716.8L1470.6,717.9L1472.6,719.1L1474.5,720.3L1476.0,721.3L1477.6,722.5L1479.6,724.0L1481.2,725.3L1482.6,726.5L1484.6,728.3L1485.6,729.3L1487.6,731.2L1488.6,732.3L1490.5,734.3L1491.6,735.6L1493.1,737.3L1494.6,739.2L1495.6,740.5L1496.9,742.3L1498.4,744.3L1499.6,746.1L1500.6,747.6L1501.7,749.3L1502.9,751.3L1504.0,753.3L1505.2,755.3L1506.2,757.3L1507.2,759.3L1508.2,761.3L1509.1,763.3L1509.9,765.3L1510.7,767.3L1511.6,769.6L1512.5,772.3L1513.2,774.3L1513.8,776.3L1514.5,779.3L1515.0,781.3L1515.5,784.3L1515.8,786.3L1516.2,789.3L1516.3,792.3L1516.3,795.3L1516.2,798.3L1515.8,801.3L1515.4,803.3L1514.6,806.3L1513.9,808.3L1513.1,810.3L1512.0,812.3L1510.8,814.3L1509.6,815.9L1508.4,817.3L1506.6,819.1L1505.2,820.3L1503.6,821.5L1501.6,822.7L1499.6,823.8L1497.6,824.6L1495.6,825.3L1492.6,826.1L1490.6,826.5L1487.6,826.9L1484.6,827.1L1481.6,827.1L1478.6,826.9L1475.6,826.6L1473.6,826.2L1470.6,825.6L1468.6,825.1L1466.2,824.3L1463.6,823.3L1461.6,822.5L1459.6,821.5L1457.6,820.3L1456.0,819.3L1454.5,818.3L1452.6,816.8L1450.9,815.3L1449.6,814.0L1448.0,812.3L1446.6,810.5L1445.6,809.2L1444.4,807.3L1443.2,805.3L1442.2,803.3L1441.3,801.3L1440.5,799.3L1439.6,797.0L1438.7,794.3L1438.1,792.3L1437.5,790.3L1436.7,787.3L1436.2,785.3L1435.6,783.1L1434.9,780.3L1434.4,778.3L1433.6,775.3L1433.1,773.3L1432.6,771.3L1431.8,768.3L1431.3,766.3L1430.6,763.4L1430.1,761.3L1429.6,758.9L1429.1,756.3L1428.6,753.5L1428.3,751.3L1427.9,748.3L1427.7,745.3L1427.6,743.0L1427.6,740.4L1427.7,738.3L1428.0,735.3L1428.4,732.3L1428.9,730.3L1429.6,727.9L1430.6,725.3L1431.6,723.3L1432.6,721.6L1433.6,720.2L1435.2,718.3L1436.6,717.0L1438.6,715.5L1440.6,714.3L1442.6,713.4L1444.6,712.8L1447.0,712.3Z" fill="#7ba6d0"/>
<path d="M1450.5,718.3L1452.6,718.1L1455.6,718.2L1457.6,718.5L1460.6,719.1L1462.6,719.7L1464.6,720.4L1466.7,721.3L1468.8,722.3L1470.7,723.3L1472.6,724.4L1474.6,725.7L1476.6,727.1L1478.1,728.3L1479.6,729.5L1481.6,731.2L1482.9,732.3L1484.6,733.9L1485.9,735.3L1487.6,737.0L1488.7,738.3L1490.5,740.3L1491.6,741.7L1492.9,743.3L1494.4,745.3L1495.6,747.0L1496.6,748.5L1497.8,750.3L1499.0,752.3L1500.2,754.3L1501.4,756.3L1502.4,758.3L1503.4,760.3L1504.4,762.3L1505.3,764.3L1506.2,766.3L1507.0,768.3L1507.7,770.3L1508.6,773.0L1509.3,775.3L1509.9,777.3L1510.6,780.3L1511.0,782.3L1511.4,785.3L1511.7,787.3L1511.9,790.3L1511.9,793.3L1511.7,796.3L1511.4,798.3L1510.9,801.3L1510.3,803.3L1509.6,805.4L1508.6,807.6L1507.6,809.5L1506.4,811.3L1504.8,813.3L1503.6,814.6L1501.6,816.3L1500.3,817.3L1498.6,818.4L1496.6,819.4L1494.5,820.3L1491.6,821.2L1489.6,821.7L1486.6,822.2L1484.6,822.3L1481.6,822.4L1479.1,822.3L1476.6,822.1L1473.6,821.6L1471.6,821.1L1468.8,820.3L1466.6,819.5L1464.6,818.7L1462.6,817.7L1460.6,816.6L1458.7,815.3L1457.3,814.3L1455.6,812.9L1453.9,811.3L1452.6,810.0L1451.2,808.3L1449.7,806.3L1448.6,804.6L1447.6,802.9L1446.6,801.0L1445.6,798.8L1444.6,796.4L1443.8,794.3L1443.1,792.3L1442.5,790.3L1441.6,787.3L1441.0,785.3L1440.5,783.3L1439.6,780.3L1439.1,778.3L1438.6,776.3L1437.8,773.3L1437.2,771.3L1436.6,768.8L1436.0,766.3L1435.5,764.3L1434.8,761.3L1434.4,759.3L1433.9,756.3L1433.5,754.3L1433.1,751.3L1432.9,748.3L1432.8,745.3L1432.8,742.3L1433.0,739.3L1433.5,736.3L1433.9,734.3L1434.6,732.0L1435.6,729.5L1436.6,727.6L1437.6,726.0L1439.0,724.3L1440.6,722.7L1442.4,721.3L1444.0,720.3L1446.3,719.3L1448.6,718.6Z" fill="#709bc9"/>
<path d="M1453.2,724.3L1454.6,724.2L1456.6,724.2L1458.3,724.3L1459.6,724.5L1461.6,724.9L1463.1,725.3L1464.6,725.8L1465.9,726.3L1467.6,727.0L1468.6,727.5L1470.2,728.3L1471.6,729.1L1472.6,729.7L1473.6,730.3L1475.0,731.3L1476.4,732.3L1477.6,733.2L1478.6,734.0L1479.6,734.8L1480.6,735.7L1481.6,736.6L1482.6,737.5L1483.6,738.5L1484.6,739.5L1485.6,740.6L1486.6,741.7L1487.6,742.8L1488.6,744.0L1489.6,745.3L1490.4,746.3L1491.2,747.3L1491.9,748.3L1492.6,749.3L1493.6,750.7L1494.6,752.2L1495.3,753.3L1495.9,754.3L1496.6,755.4L1497.6,757.2L1498.2,758.3L1498.8,759.3L1499.6,760.9L1500.3,762.3L1500.8,763.3L1501.6,765.2L1502.1,766.3L1502.6,767.6L1503.3,769.3L1503.6,770.3L1504.3,772.3L1504.7,773.3L1505.3,775.3L1505.6,776.5L1506.0,778.3L1506.5,780.3L1506.7,781.3L1507.0,783.3L1507.3,785.3L1507.4,787.3L1507.5,789.3L1507.5,791.3L1507.4,793.3L1507.2,795.3L1506.9,797.3L1506.6,798.8L1506.2,800.3L1505.6,802.1L1505.1,803.3L1504.6,804.4L1503.6,806.2L1502.9,807.3L1502.2,808.3L1501.4,809.3L1500.5,810.3L1499.5,811.3L1498.3,812.3L1496.9,813.3L1495.6,814.1L1494.6,814.7L1493.3,815.3L1491.6,816.0L1490.6,816.4L1488.6,816.9L1486.7,817.3L1485.6,817.5L1483.6,817.7L1481.6,817.7L1479.6,817.7L1477.6,817.5L1475.8,817.3L1474.6,817.1L1472.6,816.6L1471.4,816.3L1469.6,815.7L1468.5,815.3L1466.6,814.5L1465.6,814.0L1464.3,813.3L1462.6,812.3L1461.6,811.6L1460.6,810.9L1459.6,810.1L1458.6,809.2L1457.6,808.3L1456.6,807.3L1455.6,806.1L1454.6,804.9L1453.6,803.5L1452.8,802.3L1452.1,801.3L1451.6,800.3L1450.6,798.5L1450.0,797.3L1449.5,796.3L1448.7,794.3L1448.3,793.3L1447.6,791.5L1447.2,790.3L1446.6,788.6L1446.2,787.3L1445.6,785.4L1445.3,784.3L1444.7,782.3L1444.4,781.3L1443.8,779.3L1443.5,778.3L1443.0,776.3L1442.6,774.9L1442.2,773.3L1441.6,771.3L1441.4,770.3L1440.9,768.3L1440.6,767.1L1440.2,765.3L1439.7,763.3L1439.5,762.3L1439.1,760.3L1438.7,758.3L1438.6,757.3L1438.3,755.3L1438.0,753.3L1437.9,751.3L1437.7,749.3L1437.7,747.3L1437.7,745.3L1437.9,743.3L1438.1,741.3L1438.5,739.3L1438.7,738.3L1439.3,736.3L1439.7,735.3L1440.6,733.3L1441.2,732.3L1441.8,731.3L1442.6,730.2L1443.6,729.0L1444.6,728.1L1445.6,727.3L1447.1,726.3L1448.6,725.5L1449.6,725.1L1451.6,724.6L1453.2,724.3Z" fill="#668fc2"/>
<path d="M1455.3,732.3L1456.6,732.1L1458.6,731.9L1460.6,732.0L1462.5,732.3L1463.6,732.6L1465.6,733.1L1466.6,733.5L1468.5,734.3L1469.6,734.8L1470.6,735.3L1472.3,736.3L1473.6,737.1L1474.6,737.8L1475.6,738.5L1476.6,739.3L1477.8,740.3L1479.0,741.3L1480.1,742.3L1481.2,743.3L1482.2,744.3L1483.1,745.3L1484.0,746.3L1484.9,747.3L1485.8,748.3L1486.6,749.3L1487.6,750.6L1488.6,751.9L1489.6,753.3L1490.3,754.3L1490.9,755.3L1491.6,756.4L1492.6,758.0L1493.3,759.3L1493.9,760.3L1494.6,761.6L1495.5,763.3L1495.9,764.3L1496.6,765.7L1497.3,767.3L1497.7,768.3L1498.5,770.3L1498.8,771.3L1499.5,773.3L1499.8,774.3L1500.4,776.3L1500.6,777.3L1501.1,779.3L1501.4,781.3L1501.6,782.6L1501.8,784.3L1501.9,786.3L1502.0,788.3L1501.9,790.3L1501.7,792.3L1501.6,793.3L1501.2,795.3L1500.7,797.3L1500.3,798.3L1499.6,800.0L1498.9,801.3L1498.3,802.3L1497.6,803.4L1496.6,804.7L1495.6,805.7L1494.6,806.7L1493.6,807.5L1492.4,808.3L1490.6,809.3L1489.6,809.8L1488.2,810.3L1486.6,810.8L1484.6,811.2L1483.6,811.4L1481.6,811.5L1479.6,811.5L1477.6,811.4L1476.6,811.3L1474.6,810.9L1472.6,810.3L1471.6,810.0L1469.8,809.3L1468.6,808.7L1467.6,808.2L1466.1,807.3L1464.6,806.3L1463.6,805.5L1462.6,804.6L1461.6,803.7L1460.6,802.7L1459.6,801.5L1458.6,800.3L1457.9,799.3L1457.2,798.3L1456.6,797.3L1455.6,795.5L1455.0,794.3L1454.5,793.3L1453.6,791.4L1453.1,790.3L1452.6,788.9L1452.0,787.3L1451.6,786.2L1450.9,784.3L1450.6,783.3L1450.0,781.3L1449.6,780.1L1449.1,778.3L1448.6,776.7L1448.2,775.3L1447.7,773.3L1447.4,772.3L1446.9,770.3L1446.6,769.2L1446.2,767.3L1445.7,765.3L1445.5,764.3L1445.1,762.3L1444.8,760.3L1444.6,759.2L1444.4,757.3L1444.2,755.3L1444.0,753.3L1444.0,751.3L1444.0,749.3L1444.2,747.3L1444.5,745.3L1444.7,744.3L1445.2,742.3L1445.6,741.3L1446.5,739.3L1447.1,738.3L1447.7,737.3L1448.6,736.2L1449.6,735.2L1450.8,734.3L1452.5,733.3L1453.6,732.8L1455.3,732.3Z" fill="#5d83ba"/>
<path d="M1457.6,738.3L1457.6,738.3L1458.6,738.1L1459.6,737.9L1460.6,737.8L1461.6,737.8L1462.6,737.9L1463.6,738.0L1464.6,738.2L1464.8,738.3L1465.6,738.5L1466.6,738.8L1467.6,739.1L1468.0,739.3L1468.6,739.6L1469.6,740.0L1470.2,740.3L1470.6,740.5L1471.6,741.1L1472.0,741.3L1472.6,741.7L1473.6,742.3L1473.6,742.3L1474.6,743.0L1475.0,743.3L1475.6,743.7L1476.3,744.3L1476.6,744.5L1477.5,745.3L1477.6,745.3L1478.6,746.2L1478.7,746.3L1479.6,747.2L1479.7,747.3L1480.6,748.2L1480.7,748.3L1481.6,749.2L1481.7,749.3L1482.6,750.3L1482.6,750.3L1483.5,751.3L1483.6,751.5L1484.3,752.3L1484.6,752.7L1485.1,753.3L1485.6,754.0L1485.8,754.3L1486.6,755.3L1486.6,755.3L1487.3,756.3L1487.6,756.8L1487.9,757.3L1488.6,758.3L1488.6,758.3L1489.2,759.3L1489.6,759.9L1489.8,760.3L1490.4,761.3L1490.6,761.7L1490.9,762.3L1491.5,763.3L1491.6,763.6L1492.0,764.3L1492.5,765.3L1492.6,765.6L1492.9,766.3L1493.4,767.3L1493.6,767.8L1493.8,768.3L1494.2,769.3L1494.6,770.3L1494.6,770.3L1495.0,771.3L1495.3,772.3L1495.6,773.2L1495.6,773.3L1495.9,774.3L1496.2,775.3L1496.5,776.3L1496.6,776.8L1496.7,777.3L1497.0,778.3L1497.1,779.3L1497.3,780.3L1497.5,781.3L1497.6,782.3L1497.6,782.3L1497.7,783.3L1497.8,784.3L1497.8,785.3L1497.8,786.3L1497.8,787.3L1497.8,788.3L1497.7,789.3L1497.6,790.3L1497.6,790.3L1497.4,791.3L1497.3,792.3L1497.0,793.3L1496.7,794.3L1496.6,794.7L1496.4,795.3L1496.0,796.3L1495.6,797.2L1495.5,797.3L1495.0,798.3L1494.6,799.0L1494.4,799.3L1493.7,800.3L1493.6,800.4L1492.8,801.3L1492.6,801.6L1491.8,802.3L1491.6,802.5L1490.7,803.3L1490.6,803.3L1489.6,804.0L1489.2,804.3L1488.6,804.6L1487.6,805.1L1487.2,805.3L1486.6,805.6L1485.6,805.9L1484.6,806.2L1484.1,806.3L1483.6,806.4L1482.6,806.6L1481.6,806.7L1480.6,806.7L1479.6,806.8L1478.6,806.7L1477.6,806.6L1476.6,806.5L1475.7,806.3L1475.6,806.3L1474.6,806.0L1473.6,805.7L1472.6,805.4L1472.3,805.3L1471.6,805.0L1470.6,804.5L1470.1,804.3L1469.6,804.0L1468.6,803.4L1468.4,803.3L1467.6,802.8L1467.0,802.3L1466.6,802.0L1465.7,801.3L1465.6,801.2L1464.6,800.3L1464.6,800.3L1463.6,799.3L1463.6,799.3L1462.7,798.3L1462.6,798.2L1461.9,797.3L1461.6,796.9L1461.2,796.3L1460.6,795.5L1460.5,795.3L1459.8,794.3L1459.6,793.9L1459.2,793.3L1458.7,792.3L1458.6,792.2L1458.1,791.3L1457.6,790.3L1457.6,790.2L1457.2,789.3L1456.7,788.3L1456.6,788.0L1456.3,787.3L1455.9,786.3L1455.6,785.5L1455.5,785.3L1455.1,784.3L1454.8,783.3L1454.6,782.8L1454.4,782.3L1454.1,781.3L1453.8,780.3L1453.6,779.8L1453.4,779.3L1453.1,778.3L1452.8,777.3L1452.6,776.6L1452.5,776.3L1452.2,775.3L1452.0,774.3L1451.7,773.3L1451.6,773.0L1451.4,772.3L1451.2,771.3L1450.9,770.3L1450.7,769.3L1450.6,769.0L1450.4,768.3L1450.2,767.3L1450.0,766.3L1449.8,765.3L1449.6,764.3L1449.6,764.2L1449.4,763.3L1449.3,762.3L1449.1,761.3L1449.0,760.3L1448.9,759.3L1448.8,758.3L1448.7,757.3L1448.7,756.3L1448.6,755.3L1448.6,754.3L1448.6,753.3L1448.7,752.3L1448.8,751.3L1448.9,750.3L1449.1,749.3L1449.3,748.3L1449.5,747.3L1449.6,747.0L1449.8,746.3L1450.2,745.3L1450.6,744.4L1450.6,744.3L1451.2,743.3L1451.6,742.7L1451.9,742.3L1452.6,741.4L1452.7,741.3L1453.6,740.4L1453.8,740.3L1454.6,739.7L1455.2,739.3L1455.6,739.1L1456.6,738.6L1457.6,738.3Z" fill="#5578b1"/>
<path d="M1461.2,744.3L1461.6,744.2L1462.6,744.1L1463.6,744.0L1464.6,744.1L1465.6,744.2L1465.9,744.3L1466.6,744.4L1467.6,744.7L1468.6,745.1L1469.2,745.3L1469.6,745.5L1470.6,745.9L1471.3,746.3L1471.6,746.5L1472.6,747.1L1473.0,747.3L1473.6,747.7L1474.5,748.3L1474.6,748.4L1475.6,749.2L1475.8,749.3L1476.6,750.0L1477.0,750.3L1477.6,750.9L1478.1,751.3L1478.6,751.8L1479.1,752.3L1479.6,752.8L1480.0,753.3L1480.6,753.9L1481.0,754.3L1481.6,755.0L1481.8,755.3L1482.6,756.3L1482.6,756.3L1483.4,757.3L1483.6,757.6L1484.1,758.3L1484.6,759.0L1484.8,759.3L1485.5,760.3L1485.6,760.5L1486.1,761.3L1486.6,762.1L1486.7,762.3L1487.3,763.3L1487.6,763.9L1487.8,764.3L1488.4,765.3L1488.6,765.8L1488.9,766.3L1489.3,767.3L1489.6,767.9L1489.8,768.3L1490.2,769.3L1490.6,770.3L1490.6,770.3L1491.0,771.3L1491.3,772.3L1491.6,773.1L1491.7,773.3L1492.0,774.3L1492.3,775.3L1492.5,776.3L1492.6,776.7L1492.7,777.3L1492.9,778.3L1493.1,779.3L1493.3,780.3L1493.4,781.3L1493.5,782.3L1493.5,783.3L1493.6,784.3L1493.6,785.3L1493.5,786.3L1493.4,787.3L1493.3,788.3L1493.1,789.3L1492.9,790.3L1492.6,791.3L1492.6,791.4L1492.3,792.3L1491.9,793.3L1491.6,793.9L1491.4,794.3L1490.8,795.3L1490.6,795.7L1490.1,796.3L1489.6,797.0L1489.3,797.3L1488.6,798.0L1488.3,798.3L1487.6,798.9L1487.0,799.3L1486.6,799.6L1485.6,800.1L1485.2,800.3L1484.6,800.6L1483.6,800.9L1482.6,801.2L1482.1,801.3L1481.6,801.4L1480.6,801.5L1479.6,801.6L1478.6,801.6L1477.6,801.5L1476.6,801.3L1476.5,801.3L1475.6,801.1L1474.6,800.8L1473.6,800.5L1473.2,800.3L1472.6,800.0L1471.6,799.6L1471.2,799.3L1470.6,799.0L1469.6,798.3L1469.6,798.3L1468.6,797.6L1468.3,797.3L1467.6,796.7L1467.2,796.3L1466.6,795.8L1466.2,795.3L1465.6,794.7L1465.3,794.3L1464.6,793.5L1464.5,793.3L1463.8,792.3L1463.6,792.1L1463.1,791.3L1462.6,790.5L1462.5,790.3L1461.9,789.3L1461.6,788.8L1461.3,788.3L1460.8,787.3L1460.6,786.8L1460.4,786.3L1459.9,785.3L1459.6,784.6L1459.5,784.3L1459.1,783.3L1458.7,782.3L1458.6,782.1L1458.3,781.3L1457.9,780.3L1457.6,779.3L1457.6,779.3L1457.3,778.3L1456.9,777.3L1456.6,776.3L1456.6,776.2L1456.3,775.3L1456.0,774.3L1455.8,773.3L1455.6,772.7L1455.5,772.3L1455.3,771.3L1455.0,770.3L1454.8,769.3L1454.6,768.4L1454.6,768.3L1454.4,767.3L1454.2,766.3L1454.0,765.3L1453.9,764.3L1453.7,763.3L1453.6,762.3L1453.6,762.2L1453.5,761.3L1453.4,760.3L1453.4,759.3L1453.4,758.3L1453.4,757.3L1453.4,756.3L1453.5,755.3L1453.6,754.4L1453.6,754.3L1453.8,753.3L1454.0,752.3L1454.3,751.3L1454.6,750.4L1454.6,750.3L1455.1,749.3L1455.6,748.4L1455.6,748.3L1456.4,747.3L1456.6,747.0L1457.3,746.3L1457.6,746.0L1458.6,745.3L1458.6,745.3L1459.6,744.8L1460.6,744.4L1461.2,744.3Z" fill="#4e6da7"/>
</g>
<g style="mix-blend-mode:difference">
<line x1="1258.4" x2="1258.4" y1="602.3" y2="938.3" stroke="rgb(28,26,22)" stroke-width="1"/>
<line x1="1342.6" x2="1342.6" y1="602.3" y2="938.3" stroke="rgb(28,26,22)" stroke-width="1"/>
<line x1="1511" x2="1511" y1="602.3" y2="938.3" stroke="rgb(28,26,22)" stroke-width="1"/>
<line x1="1216.6" x2="1562.9" y1="620.3" y2="620.3" stroke="rgb(45,42,37)" stroke-width="1.2"/>
<line x1="1216.6" x2="1562.9" y1="671.8" y2="671.8" stroke="rgb(45,42,37)" stroke-width="1.2"/>
<line x1="1216.6" x2="1562.9" y1="723.4" y2="723.4" stroke="rgb(45,42,37)" stroke-width="1.2"/>
<line x1="1216.6" x2="1562.9" y1="826.4" y2="826.4" stroke="rgb(45,42,37)" stroke-width="1.2"/>
<line x1="1216.6" x2="1562.9" y1="878" y2="878" stroke="rgb(45,42,37)" stroke-width="1.2"/>
<line x1="1216.6" x2="1562.9" y1="929.5" y2="929.5" stroke="rgb(45,42,37)" stroke-width="1.2"/>
<line x1="1426.8" x2="1426.8" y1="602.3" y2="938.3" stroke="rgb(60,58,51)" stroke-width="1.8"/>
<line x1="1216.6" x2="1562.9" y1="774.9" y2="774.9" stroke="rgb(60,58,51)" stroke-width="1.8"/>
</g>
<g font-family="Liberation Sans, sans-serif" fill="#7b7b7b">
<text x="581.4" y="223.5" font-size="12.4" letter-spacing="0.6" text-anchor="middle" fill="#848484">training</text>
<text x="985.5" y="224.5" font-size="12.4" letter-spacing="0.6" text-anchor="middle" fill="#848484">synthetic</text>
<text x="1389.8" y="223.5" font-size="12.4" letter-spacing="0.6" text-anchor="middle" fill="#848484">holdout</text>
<text x="581.4" y="589.1" font-size="11" letter-spacing="0.2" text-anchor="middle" fill="#9e9e9e">Principal Component 1</text>
<text x="985.5" y="589.1" font-size="11" letter-spacing="0.2" text-anchor="middle" fill="#9e9e9e">Principal Component 1</text>
<text x="1389.8" y="589.1" font-size="11" letter-spacing="0.2" text-anchor="middle" fill="#9e9e9e">Principal Component 1</text>
<text x="581.4" y="978.0" font-size="11" letter-spacing="0.2" text-anchor="middle" fill="#9e9e9e">Principal Component 1</text>
<text x="985.5" y="978.0" font-size="11" letter-spacing="0.2" text-anchor="middle" fill="#9e9e9e">Principal Component 1</text>
<text x="1389.8" y="978.0" font-size="11" letter-spacing="0.2" text-anchor="middle" fill="#9e9e9e">Principal Component 1</text>
<text x="450" y="952.9" font-size="9.1" text-anchor="middle" fill="#a0a0a0">−0.2</text>
<text x="534.2" y="952.9" font-size="9.1" text-anchor="middle" fill="#a0a0a0">−0.1</text>
<text x="618.4" y="952.9" font-size="9.1" text-anchor="middle" fill="#a0a0a0">0</text>
<text x="702.6" y="952.9" font-size="9.1" text-anchor="middle" fill="#a0a0a0">0.1</text>
<text x="854.2" y="952.9" font-size="9.1" text-anchor="middle" fill="#a0a0a0">−0.2</text>
<text x="938.4" y="952.9" font-size="9.1" text-anchor="middle" fill="#a0a0a0">−0.1</text>
<text x="1022.6" y="952.9" font-size="9.1" text-anchor="middle" fill="#a0a0a0">0</text>
<text x="1106.8" y="952.9" font-size="9.1" text-anchor="middle" fill="#a0a0a0">0.1</text>
<text x="1258.4" y="952.9" font-size="9.1" text-anchor="middle" fill="#a0a0a0">−0.2</text>
<text x="1342.6" y="952.9" font-size="9.1" text-anchor="middle" fill="#a0a0a0">−0.1</text>
<text x="1426.8" y="952.9" font-size="9.1" text-anchor="middle" fill="#a0a0a0">0</text>
<text x="1511" y="952.9" font-size="9.1" text-anchor="middle" fill="#a0a0a0">0.1</text>
<text x="402" y="242" font-size="9.1" text-anchor="end" fill="#a0a0a0">0.2</text>
<text x="402" y="285.5" font-size="9.1" text-anchor="end" fill="#a0a0a0">0.15</text>
<text x="402" y="328.9" font-size="9.1" text-anchor="end" fill="#a0a0a0">0.1</text>
<text x="402" y="372.4" font-size="9.1" text-anchor="end" fill="#a0a0a0">0.05</text>
<text x="402" y="415.8" font-size="9.1" text-anchor="end" fill="#a0a0a0">0</text>
<text x="402" y="459.2" font-size="9.1" text-anchor="end" fill="#a0a0a0">−0.05</text>
<text x="402" y="502.7" font-size="9.1" text-anchor="end" fill="#a0a0a0">−0.1</text>
<text x="402" y="546.1" font-size="9.1" text-anchor="end" fill="#a0a0a0">−0.15</text>
<text transform="translate(354.5,398) rotate(-90)" font-size="11" letter-spacing="0.2" text-anchor="middle" fill="#9e9e9e">Principal Component 2</text>
<text x="402" y="623.3" font-size="9.1" text-anchor="end" fill="#a0a0a0">0.15</text>
<text x="402" y="674.8" font-size="9.1" text-anchor="end" fill="#a0a0a0">0.1</text>
<text x="402" y="726.4" font-size="9.1" text-anchor="end" fill="#a0a0a0">0.05</text>
<text x="402" y="777.9" font-size="9.1" text-anchor="end" fill="#a0a0a0">0</text>
<text x="402" y="829.4" font-size="9.1" text-anchor="end" fill="#a0a0a0">−0.05</text>
<text x="402" y="881" font-size="9.1" text-anchor="end" fill="#a0a0a0">−0.1</text>
<text x="402" y="932.5" font-size="9.1" text-anchor="end" fill="#a0a0a0">−0.15</text>
<text transform="translate(354.5,770) rotate(-90)" font-size="11" letter-spacing="0.2" text-anchor="middle" fill="#9e9e9e">Principal Component 3</text>
</g>
<circle cx="618.2" cy="412.6" r="5" fill="#000"/>
<circle cx="1006.5" cy="414" r="5" fill="#000"/>
<circle cx="1425.5" cy="410.2" r="5" fill="#000"/>
<circle cx="618.2" cy="775" r="5" fill="#000"/>
<circle cx="1006.5" cy="771.5" r="5" fill="#000"/>
<circle cx="1425.5" cy="771.5" r="5" fill="#000"/>
</svg>
<div class="nl b" style="left:32.2px">Model Report</div>
<div class="nl" style="left:174.6px">Correlations</div>
<div class="nl" style="left:290.4px">Univariates</div>
<div class="nl" style="left:398.8px">Bivariates</div>
<div class="nl" style="left:497.4px">Accuracy</div>
<div class="nl" style="left:589.4px">Similarity</div>
<div class="nl" style="left:680.8px">Distances</div>
<svg width="1920" height="80" viewBox="0 0 1920 80" style="position:absolute;left:0;top:0">
<defs><linearGradient id="lgd" x1="0" x2="1" y1="0" y2="1"><stop offset="0" stop-color="#4f6af5"/><stop offset="1" stop-color="#6fb0e0"/></linearGradient></defs>
<g font-family="Liberation Sans, sans-serif" font-weight="bold" font-size="29.1" fill="#0c0c0c" stroke="#0c0c0c" stroke-width="0.45">
<text transform="translate(1691.35,52.1) scale(1.181,1)">M</text>
<text transform="translate(1725.02,52.1) scale(1.183,1)">O</text>
<text transform="translate(1755.34,52.1) scale(0.985,1)">S</text>
<text transform="translate(1777.09,52.1) scale(1.066,1)">T</text>
<text transform="translate(1801.31,52.1) scale(0.930,1)">L</text>
<text transform="translate(1820.44,52.1) scale(0.965,1)">Y</text>
<text transform="translate(1852.69,52.1) scale(1.041,1)">A</text>
<text transform="translate(1878.35,52.1) scale(1.301,1)">I</text>
</g>
<circle cx="1845.2" cy="42.3" r="3.2" fill="url(#lgd)"/>
</svg>
<h1>Similarity</h1>
</body></html>
